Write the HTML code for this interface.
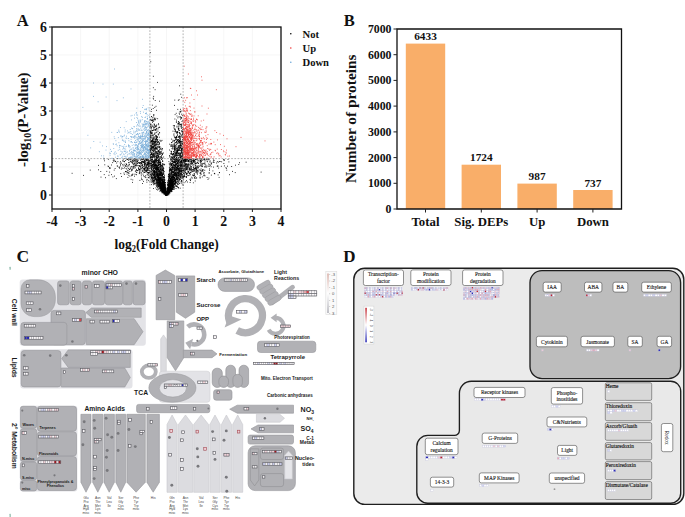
<!DOCTYPE html>
<html><head><meta charset="utf-8"><style>
html,body{margin:0;padding:0;background:#fff;}
svg{display:block;}
</style></head><body>
<svg width="685" height="517" viewBox="0 0 685 517">
<rect width="685" height="517" fill="#fff"/>
<path d="M52 27V209M80.6 27V209M109.2 27V209M137.9 27V209M166.5 27V209M195.1 27V209M223.8 27V209M252.4 27V209M281 27V209M52 195H281M52 167H281M52 139H281M52 111H281M52 83H281M52 55H281M52 27H281" stroke="#f0f0f0" stroke-width="0.6" fill="none"/>
<path d="M163.2 187.3h0M162 190.1h0M156 177.8h0M149.9 161.5h0M159.7 183.3h0M187.3 168.2h0M169.7 181.3h0M162 191.3h0M180.2 142.8h0M188.4 160.5h0M152.8 170.8h0M180.7 136.2h0M173.7 185.6h0M125.1 165.9h0M169.3 190h0M161.2 187.9h0M134.2 168h0M150.8 139.2h0M176.2 158.1h0M162.6 189.8h0M151 168.1h0M162.2 187.5h0M156.4 153.8h0M168.3 188.1h0M152.2 181.1h0M180.4 141.5h0M198 161.1h0M162.5 188.6h0M176.3 169.7h0M179.3 170.1h0M120.8 173.6h0M156.6 174.8h0M160.1 162.4h0M152.3 173.9h0M194.7 170.1h0M187.1 173.8h0M172.3 189.4h0M175.7 159h0M162 183.7h0M166.5 194.3h0M196.7 177.9h0M152.2 155.1h0M170 192h0M155 174.3h0M166.9 193.7h0M172 182.7h0M172.2 171.8h0M204.9 163.6h0M175.7 155.1h0M163.8 189.8h0M179.3 153.1h0M153.8 148h0M149.4 162.8h0M151.4 148.4h0M185.2 161.2h0M181.8 172.9h0M128.9 173.5h0M179.5 172.8h0M173.2 186.7h0M169.9 173.3h0M200.3 164.9h0M180.5 179.1h0M186.7 174.4h0M150.6 152.5h0M190.5 163.6h0M166.7 194.6h0M182.5 170.7h0M137.9 163.4h0M181.7 155.9h0M181.1 169.5h0M172.8 167.4h0M171.1 191.3h0M161.3 172.5h0M167.5 192.9h0M180.2 124.4h0M152.1 141.5h0M156.9 180.1h0M181.9 160.9h0M178.4 175.3h0M178.2 161h0M155.9 146.7h0M154.1 146.6h0M152.8 177.9h0M161.1 156.5h0M153.5 119.9h0M154.7 127.2h0M174.5 184.1h0M185.7 164.4h0M150.6 148.5h0M179.4 183.5h0M182 170.6h0M166 194.9h0M155.9 178.4h0M164.2 185h0M135.3 171.3h0M153 161.2h0M186.1 166.6h0M156.5 166.7h0M155.6 151.8h0M185.4 160.8h0M175 164.3h0M131.1 166.7h0M205.1 164.7h0M167 194h0M181.2 148.1h0M160.1 174.7h0M163.5 170.7h0M167.2 192.7h0M193.7 160.9h0M192.7 162.7h0M176.9 165.1h0M200.9 158.8h0M159.2 161.7h0M175.2 165.5h0M158.2 146.2h0M188.8 165h0M166.8 193.6h0M129.9 176.1h0M204.2 172.6h0M171.8 185.3h0M160.6 182.2h0M160.9 176.7h0M167.8 192.6h0M163.3 182.9h0M183.3 170.8h0M168.5 191.1h0M165.1 191.8h0M202.5 164h0M161.9 169.8h0M196.5 169.2h0M146.8 166.4h0M161.5 165.6h0M165.9 194.9h0M159.1 185.5h0M178.6 147.2h0M158.3 168.1h0M163.6 186.6h0M167.7 191.1h0M197.6 170.6h0M170 184.5h0M164.3 192.7h0M195.7 168.5h0M181.1 118.4h0M154.6 173h0M156 106.3h0M205 160.7h0M155.9 187.9h0M207.6 161.7h0M175.3 167.3h0M170.6 181.7h0M160.9 162.7h0M153.4 147.2h0M165.1 190h0M154.7 145.7h0M174.8 148.7h0M163.5 164.7h0M161.5 172.7h0M155.6 148.6h0M157.6 168.7h0M175.7 147.5h0M203.6 173.1h0M186.3 176.9h0M170 175h0M166.6 194.8h0M182.4 174.6h0M176.7 173.5h0M183 170.9h0M174.4 179.8h0M173.1 184.9h0M178.7 184.3h0M170.1 185.5h0M195.1 163.7h0M182.1 149.4h0M167.2 193.7h0M175.1 185.5h0M149.8 168.2h0M163.7 179.6h0M175.9 170.1h0M101 177.1h0M164.9 183h0M157.3 155.5h0M157.5 162.1h0M189.2 169.7h0M168.3 188.2h0M157.7 190h0M179.5 171.3h0M158.8 176.5h0M135.9 166.1h0M164.1 191.4h0M168.6 188.7h0M177.9 170.4h0M209.1 166.5h0M193.7 175.5h0M167.7 190.7h0M171.2 182.3h0M197.8 172.2h0M128.9 165.9h0M200.5 173.7h0M180.1 173.7h0M194.9 160.7h0M167.2 193.9h0M170.3 182.3h0M152.3 140.8h0M171.8 182.6h0M151.1 166.5h0M159.8 160.1h0M199.2 160.1h0M214.1 162.4h0M138.8 169.5h0M173.8 156.6h0M171.5 182.5h0M185.6 172.2h0M174.6 145.1h0M178.9 149.5h0M150 155.1h0M180.3 169.7h0M142.2 167.3h0M178.2 177.7h0M139.8 165.6h0M175.8 183.2h0M163.5 186.6h0M168.5 190.4h0M166 193.4h0M150.9 174.3h0M172.6 185.7h0M175.2 182.5h0M153.6 180.9h0M176.3 174.4h0M158.6 164h0M156.5 159.7h0M185.2 172.5h0M161.8 191.2h0M177.3 151.6h0M153.6 156.1h0M174.4 148.8h0M154.6 158h0M168.5 181.9h0M167.4 193.7h0M192.5 171.6h0M175.5 166.5h0M159.7 180.9h0M154.5 176.1h0M157.8 179.6h0M171.8 182.7h0M169.8 181h0M172.7 184.9h0M177 127.1h0M147.7 168.7h0M164.8 194.6h0M159.7 184.7h0M211.1 162.7h0M175.9 163.8h0M166.8 194.3h0M166.5 194.9h0M172.5 176.4h0M179.9 179.3h0M164.9 191.2h0M173.6 172.5h0M160.4 163.2h0M144.6 165.7h0M166.3 193.9h0M156 154.7h0M170.2 185.6h0M164.1 180.4h0M168.2 187.4h0M89.2 160.1h0M151.5 127.5h0M142.3 167.3h0M155.4 136.1h0M179.1 174.7h0M168 191.2h0M133.8 164.7h0M179.9 155.7h0M177.8 148.4h0M188.3 164.8h0M174.6 177.7h0M174.8 129.8h0M152.5 179.9h0M152 165.2h0M157.6 167.7h0M160.4 184.2h0M170.7 174.3h0M179.8 145.3h0M182.3 155.1h0M178.5 175.8h0M156.8 130h0M152.8 182.1h0M158.2 183.4h0M166.6 194.4h0M165.5 190.7h0M155.7 165.3h0M151.7 120.6h0M184.6 162.2h0M178.6 169.4h0M181.6 175.4h0M178.2 163h0M190.7 169.6h0M173.7 175.1h0M173.5 187h0M162 149.8h0M195.7 165.6h0M163.1 187.7h0M151.5 165.5h0M178.1 176.7h0M148.7 162.9h0M179.5 146.2h0M168.9 174.2h0M145.2 164.7h0M188.4 160.4h0M171.7 165.1h0M120.6 165.8h0M155.1 154.7h0M170.8 162.4h0M178.9 158.7h0M180.4 145.5h0M153.7 115.9h0M176.3 175.8h0M124.3 161.5h0M151.9 156.6h0M162.3 184.8h0M152.9 154.9h0M169.2 188.9h0M183 136.9h0M171.6 184h0M168.5 192.4h0M170.4 181.4h0M159.3 173.9h0M187.9 167.7h0M169.5 187.9h0M170.4 184.4h0M171.9 188.7h0M154.6 176.5h0M153 157.6h0M150.5 155.1h0M177.5 187.1h0M175.8 168.3h0M157.4 181.9h0M172.1 177.4h0M171.5 189.6h0M146.7 158.6h0M132.6 163.7h0M168.3 187.4h0M155.3 160h0M160.2 170.1h0M166 188.2h0M205.2 166.6h0M169 189h0M153 153.9h0M153.1 178.6h0M151 132.8h0M163.2 177h0M156.8 158.9h0M172.6 185.6h0M170.2 186.6h0M150.8 171.3h0M200.1 177.9h0M146 169.2h0M172.7 187.1h0M154 167.4h0M172.4 183.3h0M168.1 191.6h0M156.9 173.8h0M153.8 126.9h0M156.9 147.3h0M175.9 138.2h0M147.6 162.2h0M159.5 184.4h0M150.4 174.6h0M154 168.6h0M163.8 183.3h0M163.5 183.7h0M169.8 186.4h0M164.5 187.8h0M133.9 164.2h0M161.4 183.5h0M167.9 191.8h0M184.4 161.7h0M157.7 166.5h0M162.5 175.2h0M177.8 168h0M141.2 165.9h0M189.2 169.5h0M174.2 146.6h0M175.4 182.5h0M159.8 184.7h0M167.5 189.8h0M154.8 142.3h0M176.4 182.8h0M176 148.4h0M202 171.5h0M159.9 177.9h0M164.9 184.1h0M169.9 184.8h0M167.1 193.1h0M147.1 167.8h0M156.6 172h0M161.4 184.4h0M161.5 175.4h0M179.5 179.9h0M154.9 181.5h0M178.4 168.7h0M183.5 165.5h0M180 160.6h0M147.7 164.1h0M159.4 153h0M154.5 170.6h0M104.2 174.6h0M160 172.2h0M182.7 165.3h0M148.1 159.9h0M160 184.8h0M166.7 194.8h0M151.4 128.8h0M201 173.1h0M171.6 184.2h0M171.5 142.5h0M169.6 190.5h0M162.4 189.7h0M156.7 138.3h0M181.9 178.5h0M150.3 141.1h0M137.3 163.5h0M152.3 161.8h0M172.9 172.6h0M176.5 159.5h0M176.5 161.4h0M153.8 174.5h0M165 190.8h0M146.7 159.3h0M167.2 194.1h0M154.2 175.1h0M156.9 140.3h0M209.2 172.9h0M178.5 153.7h0M177.2 169.5h0M178.2 146.1h0M174.1 168.8h0M174.7 171.1h0M132.9 160.5h0M167.9 188.4h0M174.9 142.8h0M168.1 191.7h0M174.9 180.2h0M160.9 188.7h0M166.4 194.8h0M161 169.3h0M159.8 162.5h0M170.2 188.9h0M152.8 164.1h0M152.3 167h0M154.8 142.9h0M155.9 139.6h0M173.2 164.1h0M183.6 161h0M160.5 169.2h0M172.6 179.7h0M169.4 187.7h0M180.8 161.5h0M155.1 167.6h0M152.5 130.5h0M155.4 172.3h0M157.1 178.3h0M144.9 169.4h0M156.1 147.8h0M135.1 161.9h0M170.7 188.3h0M149.3 161.2h0M177.3 179.7h0M161.7 180h0M186.6 166.8h0M182.7 133.7h0M171.9 173.4h0M166.8 192.8h0M181.6 149.3h0M160 166.4h0M146.2 158.8h0M172.1 158.3h0M165.3 192.6h0M159.8 167h0M165.2 190.9h0M163.3 176.8h0M157.3 168.1h0M177.6 179.3h0M162.4 186.9h0M202 166.6h0M142.9 164.3h0M186 161.4h0M180 179.3h0M155.1 171.5h0M177.4 169h0M182.8 157.7h0M164.6 188.6h0M165.6 188.8h0M166.9 194.5h0M171.4 177.6h0M144.4 162.2h0M151.8 149.3h0M149.1 163h0M182.1 160.1h0M163.6 182.9h0M202.3 166.5h0M214.3 173.4h0M143.4 161.3h0M165.5 185h0M181.2 176.9h0M176.1 163.8h0M162.7 180.6h0M152.7 138.8h0M181 166.2h0M173 165.5h0M178.4 164.3h0M173.4 168.1h0M162 181.9h0M157.8 170h0M177.3 178h0M155.5 164.4h0M162.5 182h0M162.2 188.9h0M155 175.2h0M170.6 146.1h0M202.8 169.5h0M132.6 160.1h0M191.4 168.3h0M163.5 185.1h0M197.7 162.6h0M144.7 164.4h0M192.2 158.8h0M170.4 182.6h0M158.4 160.6h0M182.3 165.2h0M175.3 162.3h0M133.9 163.8h0M162.3 176.9h0M166.9 194.5h0M145.8 175.6h0M177.1 179.3h0M162.8 190.7h0M177.6 176h0M171.7 189.4h0M160.8 190.7h0M181.9 168.8h0M157.4 180.7h0M177.7 162.8h0M151.1 177.3h0M171.1 180.9h0M168.1 191.9h0M174.3 170.5h0M150.3 137h0M164.4 185.1h0M151.8 159.7h0M149.9 140.2h0M177.3 139.8h0M218.1 174.9h0M178.9 164.2h0M168.5 174.4h0M174.5 125.8h0M172.7 167.8h0M124.3 174.4h0M171.7 180h0M167.9 192.2h0M158.9 176.4h0M163.5 186.9h0M153.9 148.7h0M168.8 178.7h0M179.4 136.7h0M158.5 151.5h0M172.6 166.3h0M160.9 158.4h0M159.6 147.6h0M175.3 172.3h0M201 158.6h0M160.2 184.7h0M156.6 129h0M163.6 184.3h0M182.4 129.7h0M165.6 191.4h0M177.3 150.1h0M192.3 169.5h0M213.6 160h0M173.2 182.5h0M165.6 193.5h0M157.2 137.7h0M172.8 184.5h0M140.4 166.6h0M162.3 181.9h0M181 164.9h0M164.2 191.4h0M191.3 163.3h0M158.6 171.1h0M172.9 159.9h0M155.9 152.4h0M169.5 173.4h0M181.5 151.7h0M169.6 155.5h0M150 149.8h0M172.6 186.2h0M170.3 182.7h0M185.8 164.3h0M143 174.1h0M150.8 137.8h0M165.3 194.6h0M131.7 169.8h0M182.4 162.6h0M141.2 174.1h0M155.3 164.4h0M180.4 141.8h0M169.5 191.5h0M182.6 139.5h0M177 165.8h0M171 144.8h0M171.8 180.4h0M159.9 183.3h0M113.8 161.2h0M152.7 154.5h0M153.3 127.2h0M179.7 135.3h0M130.4 161.5h0M165.9 192.1h0M200.5 160.3h0M174.6 170.1h0M166.7 193.8h0M162.8 186.3h0M153.7 171.4h0M181.6 160.9h0M180.2 141.1h0M168.3 193.2h0M179.3 136.6h0M156.7 189.4h0M162.6 188.3h0M209.5 170.3h0M162.7 158.3h0M181.2 167h0M203 171h0M168.7 190h0M177.9 163.2h0M163.3 183.2h0M151.8 159.3h0M152 132.9h0M139.9 180.4h0M171.6 184.5h0M164 187.8h0M167 194.6h0M214.6 173.5h0M166 193.6h0M177.9 154.8h0M182.3 115.6h0M170.7 188.5h0M162 187.5h0M154 141.7h0M169.6 177.4h0M176.9 167.8h0M162.9 181.7h0M168.5 185.4h0M184.5 176.6h0M173.4 177.3h0M173.9 166.9h0M148.6 173.1h0M153.2 175.6h0M160 177.5h0M163.1 180.1h0M175.5 160.7h0M172.8 178h0M201.2 166h0M180.6 177h0M179.1 142.5h0M153.6 130.1h0M159.4 153.8h0M178.5 175.3h0M168.3 187.6h0M177.5 168.1h0M144.3 165.3h0M156.1 145.3h0M196 163.4h0M186.4 173.6h0M140 166h0M156.1 165.9h0M162.1 188.8h0M184.8 168.3h0M165.5 194h0M170.6 187.9h0M128 170.4h0M163.2 177.7h0M174.8 156h0M123.2 165.9h0M181.1 156.8h0M144.2 161.2h0M158.1 153.2h0M147.9 168.1h0M160 181.8h0M161 186.3h0M108.9 175.3h0M178.6 147.9h0M159.5 185.5h0M156 136h0M181.2 163.1h0M136.5 161.1h0M164.3 186h0M179.9 172h0M182.3 167.2h0M155.6 148.9h0M189.1 162.8h0M158 179.1h0M165.9 194.1h0M168.9 185h0M177.8 179.8h0M156.3 157.2h0M174.5 183.4h0M186.8 167.6h0M199.3 158.6h0M153.3 143.4h0M172.9 182.2h0M154.5 145h0M165.6 193.3h0M160 149.6h0M132.5 175.2h0M170.6 178.5h0M166.1 194h0M179.4 136.7h0M160.3 183.2h0M182.4 143.4h0M183.8 173h0M143.8 168.6h0M160.8 140.9h0M154.3 165.8h0M224.2 159.8h0M168.9 161.6h0M177 169.2h0M180.7 112h0M177.5 163.8h0M158 185.5h0M150.9 163.4h0M178.9 171.3h0M183 140.3h0M149.1 166.1h0M164 191.6h0M182 171.9h0M152.5 144.6h0M143.8 161.9h0M172.1 181.6h0M176 139.5h0M180.6 171.4h0M152 177.8h0M167.6 193h0M159.7 184.9h0M166.2 193.9h0M183.5 161.2h0M174.2 170.2h0M171.5 184.3h0M166.1 192.9h0M190 164.6h0M158.8 187.1h0M154.4 164.9h0M171.9 177.3h0M174.2 148.4h0M181.4 145.3h0M172.1 174.5h0M167.4 193.5h0M170.8 180.4h0M164.6 184.4h0M186.2 164.6h0M176.2 167.8h0M127.3 159.3h0M169.3 175h0M181.4 180.6h0M165.7 189.5h0M170.4 189.8h0M167.5 191.1h0M196.8 172.4h0M182.5 155.5h0M160.8 182.7h0M144.3 176.7h0M156.2 162.8h0M156.1 132.6h0M188.5 160.8h0M182.6 165.1h0M168.7 182.3h0M175 180.7h0M129.3 164.7h0M169.9 168.2h0M177.1 168.2h0M163.6 190.6h0M180.9 165.5h0M168.7 187.5h0M144.5 169.2h0M193.7 160h0M175.4 184.3h0M158.1 152.6h0M161.3 168.8h0M178.9 160.3h0M204.4 159.4h0M150.3 168.1h0M152.1 165.8h0M195.1 168.5h0M175.2 170.7h0M151.3 147.5h0M145.4 177h0M139.8 162.9h0M150.9 119.3h0M161.1 173.4h0M157.8 139.7h0M144.4 172.5h0M183.5 185.1h0M162.4 190.8h0M151.7 120.3h0M168.5 187.2h0M155.1 169.5h0M146.2 160.2h0M138.4 167.8h0M165.3 193.9h0M179.9 165.5h0M150.7 154.9h0M154.9 127.7h0M176.4 139.7h0M172.5 178h0M143.9 172.5h0M159.5 170.3h0M154.1 178.1h0M170.1 171.1h0M183 168.2h0M154.1 162.4h0M161.7 186h0M177.2 180.1h0M185.4 159.8h0M145.9 159h0M159.8 191.2h0M167.8 188.8h0M176.8 157.9h0M154 157.1h0M163.3 190.6h0M175.1 129.5h0M153.1 170.5h0M176.2 181.3h0M189 164.1h0M157.4 179.2h0M129.2 164.2h0M169.5 169.9h0M150.4 145.9h0M171 169.3h0M160.4 171.9h0M173.3 177.7h0M187.4 164.4h0M182 121.5h0M162 140.4h0M125.7 160.5h0M154.4 125.7h0M168.8 184.8h0M156.4 141.5h0M157.7 169.7h0M179.4 130.4h0M109.4 167.7h0M178.3 100.3h0M179.1 178h0M152.1 169.9h0M176.6 155.3h0M171.5 189.7h0M180.2 141.5h0M187.5 173h0M153.9 178.7h0M228.9 161.9h0M159.6 132.7h0M153.9 176.3h0M178 178h0M165 192h0M167 194.8h0M174 146.8h0M158.8 176.9h0M135.4 160.9h0M175.2 169.8h0M194.6 178.1h0M153.6 161.6h0M154.9 143.3h0M162.2 182.4h0M161.2 184.6h0M133.8 166.2h0M143.6 159.4h0M151.5 168.8h0M190 179.4h0M163.1 176.6h0M175.8 155.8h0M152.4 120.3h0M151.2 137h0M154.6 156.9h0M176.6 174h0M144.6 162.7h0M164.2 186.6h0M167.3 194.5h0M153.7 169.1h0M163.5 187.9h0M151.4 135.2h0M162.6 180h0M168.8 190.8h0M169.7 189h0M200.8 160.4h0M167.4 189.6h0M181 152.4h0M158 153.7h0M179.7 163.1h0M178.1 179.3h0M177.8 178.8h0M164.4 171.7h0M177 153.5h0M169.8 169.6h0M180.3 145.6h0M178.8 123.8h0M158.7 124.7h0M213.3 161.2h0M158.3 177h0M158.1 183.8h0M174.8 160.6h0M155.8 178.4h0M159.6 179.2h0M171.5 190h0M158.9 177.8h0M168.4 193.3h0M165.5 193.4h0M148.1 175.7h0M167.5 193.2h0M124.6 161.7h0M150.3 155.3h0M162.1 179.9h0M158.6 179h0M164.1 190.7h0M136.4 174.7h0M163.3 191.8h0M204.8 170.3h0M185.6 161.1h0M159.3 147.1h0M165.4 193.1h0M171.3 178.5h0M186.5 176.9h0M179.3 168.9h0M154.7 171.9h0M172.3 180.6h0M145.8 171.1h0M168.2 183.9h0M160.4 161.1h0M167.1 193.5h0M152.9 180.9h0M161.9 166.6h0M168.9 178.4h0M163.5 181.4h0M174 133.9h0M166.8 194.5h0M130.8 159.3h0M180.3 116.8h0M171.6 186.8h0M165.8 192.2h0M132.8 179.9h0M177.3 173h0M179.4 168.7h0M173 187.6h0M152.9 153.4h0M163.6 190h0M165.3 192.4h0M151.6 168h0M152.8 172h0M164.5 185.6h0M155.9 168.6h0M168.8 192.8h0M167.5 194.6h0M163.1 189.4h0M142.6 165.5h0M159.7 169.1h0M155.4 176.3h0M167.1 193.6h0M185.4 164.9h0M181.9 183.3h0M131.9 174.7h0M167.8 192.1h0M159.6 171.3h0M157.9 182.7h0M160.2 175.8h0M151.8 172.9h0M165 190.9h0M201.1 174.4h0M175.2 170.2h0M150.8 163.2h0M178.9 180.6h0M158 188.8h0M182.8 152.5h0M178.9 150.3h0M164.7 188.4h0M170.9 160.8h0M186.7 169.7h0M171 175.9h0M182.1 158.8h0M179.9 133.1h0M162.6 182.4h0M173.2 174.3h0M165.1 189.9h0M182.7 148.8h0M158.7 165.4h0M156.8 124.9h0M158.8 168h0M157.4 158h0M168.1 187h0M162.4 154.4h0M158.6 144.3h0M170.9 166.7h0M160.3 166.3h0M162.9 190.8h0M165.9 194.2h0M164.4 175.4h0M156.4 180.8h0M159.6 160.1h0M167.3 194.3h0M159.5 154.6h0M170 191.4h0M170.5 180.9h0M170.8 183.8h0M176.9 151.1h0M167.9 194.1h0M163.9 191.4h0M165.9 191.4h0M173.1 144.5h0M161 185.1h0M190.7 161.9h0M147.8 160.7h0M176.3 122.1h0M174.2 181.6h0M147.1 174h0M176.2 142.5h0M160.4 164.5h0M177.5 163.4h0M160.5 185.9h0M158.1 177.5h0M153.7 153.9h0M173.2 174.8h0M166.9 193.9h0M154.2 136.8h0M172.4 186.3h0M160 188.2h0M155 156.3h0M176.4 136.3h0M181.4 125.9h0M130 159.8h0M163.3 173.4h0M175 175.4h0M164.5 187.4h0M167.5 194.4h0M141.5 163.4h0M176 188.5h0M157.3 183.1h0M172.6 156.9h0M160.9 185.7h0M163.1 188h0M165.7 191.6h0M167 193.2h0M173.6 176.9h0M176.5 137.6h0M168.3 192.7h0M169.1 189.4h0M169.8 175.9h0M182.1 166.2h0M175 182.6h0M157.4 184.1h0M156.5 186.1h0M182.9 155.9h0M180.7 153.3h0M151.7 116.7h0M175.8 161.8h0M167.3 194.8h0M165.8 193.1h0M160.9 174.2h0M169.7 167.1h0M174.4 175.7h0M156.6 138.8h0M174.6 159.1h0M157.9 169.5h0M151.3 153.3h0M181.7 160.8h0M155.6 143h0M202.3 176.9h0M166.9 193.2h0M182.8 162.2h0M152.7 167.9h0M179.9 145.3h0M169.2 193h0M185.1 170.2h0M166.2 193.9h0M117.4 158.6h0M165.7 191.3h0M181.3 173.8h0M174.6 125.9h0M178 172.1h0M173.3 183.7h0M169.1 181.6h0M156.5 157h0M169.8 177.7h0M162.7 191.8h0M109.7 172.1h0M171.1 168.2h0M166 193.1h0M170.2 187.5h0M158.1 180.4h0M165 189.5h0M147.5 163.9h0M166 194.6h0M140.6 162.6h0M153.8 170.9h0M180 159.6h0M173.8 164.3h0M167.1 193.5h0M147.1 160.4h0M159.3 178.1h0M178.9 174.9h0M158.8 179h0M126.1 163.7h0M171.6 184h0M166 193.5h0M176.8 164.7h0M142.3 179.8h0M166.9 194.4h0M174.9 173.5h0M180.2 171.2h0M153.5 173.1h0M178.2 157.4h0M153.6 142.9h0M149.6 162.5h0M168.4 191.9h0M170 156.3h0M173.8 176.2h0M174.9 168.7h0M161.8 175h0M167.3 191.6h0M160.9 172.4h0M170.8 185.5h0M178.9 150.5h0M152.6 143.1h0M180 166.9h0M155.3 130.4h0M172.9 167.2h0M167.4 192h0M173.1 172.5h0M161.2 180.1h0M155.5 165.6h0M170.2 179.5h0M163.1 181.2h0M170.6 169.5h0M161.8 191.3h0M161 141.2h0M179.8 178.6h0M161.2 177.3h0M156.5 175.2h0M179.4 122.4h0M169.9 193.2h0M157.6 158.3h0M168.2 191.9h0M162.3 169.8h0M176.2 146.2h0M231.7 166.5h0M153.1 152h0M208.1 166h0M154.6 174.1h0M180.1 161.8h0M165.2 192.2h0M152.5 147h0M163.1 181.6h0M171.3 151.8h0M184.3 165.9h0M170.3 187.5h0M166.6 194.6h0M178.3 172.1h0M160.8 169.5h0M149.8 165.2h0M167.7 192.2h0M174.1 156h0M171.5 169.8h0M168.6 189.3h0M160.7 175.2h0M152.7 148.1h0M166.9 194.5h0M181.9 176.7h0M176.2 113.3h0M184 176.7h0M187 158.8h0M162.7 184h0M177.2 181.3h0M158.9 178h0M164.7 192.6h0M174.8 149.8h0M148.2 177.6h0M153.2 108.5h0M169.4 192.5h0M167 193.2h0M160.4 182.3h0M157.8 167.6h0M156.9 152h0M150.7 119.9h0M157.8 172.9h0M162.3 189h0M159.6 175.1h0M168.1 190.1h0M104.4 160.8h0M163.3 185.5h0M158.2 177.6h0M175.9 154.9h0M174.7 161.4h0M149.9 165.2h0M150.7 135.3h0M178.8 159.2h0M175 161.7h0M174.2 141.3h0M163.1 174.2h0M171.1 182.3h0M156.3 165.7h0M191.1 161.6h0M182.3 184.9h0M178.8 128h0M154.9 171.5h0M176.6 167.5h0M155.8 140.1h0M181.5 161.5h0M158.1 162.9h0M165.3 186.3h0M164.4 189h0M165 186.3h0M141.9 159.3h0M157.1 142.3h0M165.2 191.9h0M169.4 178.6h0M155.7 169.2h0M174.8 149.9h0M145.9 161.2h0M171.7 185.2h0M165.3 193.6h0M171.2 189h0M157.6 176h0M154.9 172h0M170.1 169.8h0M161 179.9h0M152.1 160.7h0M192.6 160.9h0M156.6 179.4h0M159.4 180.9h0M162.4 187.9h0M153.8 180.5h0M181.5 173.6h0M159.1 174.6h0M181.8 164h0M174.1 169h0M168 185h0M155.3 139.5h0M163.9 189.8h0M138.5 168.7h0M167.1 194.9h0M169 192.3h0M176.8 176.1h0M182.9 137.5h0M180.2 173.4h0M159.2 183.7h0M158.7 157.2h0M159.5 172.4h0M164.7 182.2h0M164.5 181.6h0M181.4 118h0M173.7 167.7h0M180.1 148.2h0M150.4 124.4h0M174.1 157.3h0M129.2 159.1h0M167 193.7h0M155.2 151.1h0M165.9 194.6h0M155.6 141.8h0M190.9 178.8h0M150 142.4h0M156.6 158.1h0M160.6 182.2h0M149.9 123.1h0M165.7 192.3h0M195.7 159.4h0M173.2 145.6h0M163 186.1h0M155.5 159h0M169.2 190.3h0M175.3 164.4h0M162.9 188.5h0M182.8 143.4h0M147.3 164.2h0M182.6 143.6h0M167.2 191h0M167.9 192.5h0M178.4 128.8h0M153.2 166.8h0M169.7 182.1h0M166.2 194.6h0M172.8 182.1h0M192.4 163.5h0M192.2 163.7h0M174.6 174.2h0M181.7 114.2h0M161 188.1h0M163.6 173.9h0M182.8 168.2h0M145.3 166.9h0M151.5 109.4h0M157.1 139.8h0M184.2 159.9h0M128.8 175.3h0M182.8 120.7h0M158.7 182.2h0M132.5 174.2h0M180.2 176.6h0M163.2 184.5h0M148.2 165.4h0M163.1 188.4h0M148.4 167.8h0M170.6 184.2h0M159.9 174.4h0M155.8 165.9h0M141.4 178.1h0M152.9 146.2h0M156.6 136.3h0M160.7 169.3h0M152.2 166h0M159.3 127.1h0M170.5 188h0M162.2 187.2h0M179.3 170.5h0M164.3 193.2h0M178.8 128.8h0M144.9 163h0M166.6 194.7h0M162.9 174.8h0M167.5 192.5h0M152.5 117.8h0M169 192h0M172.7 169.2h0M167 191.9h0M169.9 184.9h0M158.4 178.2h0M158.9 172h0M135.4 165.4h0M163.5 192.9h0M182.8 149.5h0M160.1 164.5h0M181.3 128.1h0M169.2 187.2h0M170.1 177.2h0M174.3 178.5h0M167.2 194.1h0M160.9 174.5h0M152.8 165.1h0M195.2 181h0M153.8 128.2h0M169.6 190.9h0M164.3 191.4h0M177.5 152.6h0M154.6 170.6h0M176.3 152.3h0M125.9 171.4h0M170.4 189.5h0M158.1 180h0M181.6 161h0M163.7 157h0M131.6 170.8h0M211.3 175.1h0M154.4 163.4h0M170.9 188.5h0M160.8 164h0M159.3 175.2h0M150.7 163.4h0M158.9 147.5h0M173.5 176h0M173 176.2h0M179.8 164.4h0M147.6 162.7h0M166 188.4h0M152.9 130.4h0M174.2 166.7h0M171.9 175.4h0M110.4 168.1h0M167.1 191.1h0M177.1 177.9h0M164.7 189.7h0M180.4 165.2h0M151 142h0M166.5 194.8h0M152.1 142.4h0M172.3 167.6h0M166.1 194.5h0M180.9 144.1h0M169 180.9h0M120.5 164.3h0M175.1 173.7h0M164.7 184.3h0M173.3 171.5h0M161.3 186.1h0M159.7 152.5h0M178 132.2h0M219.7 161.5h0M145.1 172.4h0M157.4 177.4h0M165 191.4h0M174 172.7h0M176.5 152.5h0M167.1 192.8h0M169.2 192.3h0M171.8 142.7h0M160.7 166.2h0M164.9 193.7h0M167.7 189.9h0M168.3 182.7h0M178.3 178.5h0M157.3 153h0M164.9 191.6h0M174 151.8h0M171.2 174.8h0M162.9 168.9h0M158.3 156.7h0M168.8 180.1h0M159.3 159.9h0M156.5 148.4h0M204.5 158.8h0M166.8 194.8h0M157.3 153.5h0M165.7 189h0M167.9 193.4h0M159.1 161.2h0M156.1 168.1h0M164.5 192.2h0M178.2 139.6h0M152.1 143.2h0M162.4 175.4h0M166.3 195h0M163.7 189.2h0M151.2 174.7h0M166.3 194.9h0M158.1 181.9h0M160.8 148.9h0M139.3 166.4h0M167.2 191.7h0M157.2 151.4h0M191.6 161.8h0M183.1 170.1h0M152.6 126.3h0M149.9 163.1h0M151.9 133.5h0M150.8 157.7h0M162.4 177.7h0M179.1 99.7h0M166 191.1h0M158.1 175.2h0M195.4 167.7h0M167.9 181h0M181.1 141.3h0M155.3 168.9h0M172.1 186.9h0M190.5 172.7h0M197.9 167.8h0M191.4 161.6h0M146 165.4h0M174.9 136.9h0M167.9 184.5h0M165.9 190.8h0M162.1 186.2h0M167 192h0M162.6 185.7h0M181.8 148.5h0M161.8 187.9h0M181.1 136.8h0M224.6 165.9h0M163.4 189.3h0M177.1 158.9h0M150.3 143.2h0M164.2 193.2h0M157 168.7h0M162.3 179.9h0M162.5 148.5h0M185.8 168h0M159.8 181.9h0M173.7 184.8h0M141 159.3h0M158.9 176.4h0M170.5 182.8h0M165.1 190.6h0M162.7 158.2h0M175.1 184.9h0M150.9 150.2h0M163.7 187h0M204.1 174.1h0M177.8 170.9h0M174.4 184.3h0M153.4 146.9h0M164.9 189.4h0M174.3 149.7h0M162.6 187.5h0M121.6 163.2h0M174.3 157h0M179.2 113.2h0M171.5 187.7h0M172.2 177.4h0M160.7 183.4h0M159.8 185.2h0M175.1 137.6h0M178.9 125.2h0M162.9 184.6h0M170.8 175.2h0M136.8 164.2h0M158.6 184.7h0M207.1 177.5h0M159.6 186.8h0M195.2 176.5h0M184.6 160.8h0M202 163.4h0M171 190.1h0M180.3 144.2h0M151.8 164.5h0M171.1 179.2h0M146.9 164.8h0M162.8 183.6h0M169.9 190.8h0M172.8 186.8h0M98.5 169.8h0M195.9 168.7h0M144.5 163.9h0M165.5 191.4h0M165.2 191.5h0M162.6 161.5h0M178.6 145.9h0M178.3 161.4h0M171.3 153.8h0M166 195h0M162.8 180.9h0M169.1 184.5h0M156 159.3h0M115.6 161.5h0M171.5 188.8h0M181.3 130.7h0M235.2 172.6h0M176.2 176.5h0M175.6 159.7h0M162.5 175.6h0M141.7 179.3h0M151.3 171.8h0M161.6 185.1h0M159.8 180.6h0M156.9 178.1h0M165.6 194.6h0M162.9 187.8h0M156.7 161.4h0M183.5 161h0M164.7 182.8h0M172.8 175.8h0M206 165.3h0M150.2 164.2h0M164.6 184.4h0M192.7 165h0M158.5 175.2h0M175.7 162.9h0M161.2 186.3h0M204.1 163.7h0M171.1 182.7h0M181 164.6h0M166.5 195h0M163.2 188.6h0M160.6 153.9h0M167.1 191h0M170.7 183.1h0M144.8 160.2h0M179.8 165.5h0M167.1 194.6h0M141.8 163.7h0M164.3 192.9h0M158.1 158.6h0M172.5 163.3h0M181.2 167.1h0M161 167.8h0M157.6 168.4h0M157.2 170.3h0M172.5 189.2h0M155.5 119.4h0M178.7 152.9h0M152.4 159.9h0M106.8 171.4h0M186.9 173.8h0M144 170.8h0M144.4 169.3h0M163.8 163.9h0M163.9 191.5h0M169.5 186h0M166.9 192.8h0M181.7 126h0M153.8 175.2h0M182.3 168.6h0M163.1 192h0M159.4 174h0M123.7 161.2h0M83.6 175.4h0M170.8 178.6h0M173 176.1h0M156.7 169.4h0M176 168.9h0M177.7 140.3h0M163.7 192.7h0M141.7 163.1h0M181.5 149.9h0M176.3 174.6h0M182.9 158.7h0M183.1 160.3h0M181.7 161.2h0M195.8 159.5h0M173.2 184.2h0M156.5 171.5h0M172.6 154.9h0M162.5 186.5h0M180.2 161.8h0M177.2 132.7h0M181.1 174.1h0M180.8 137.3h0M156.7 153h0M163.4 170.5h0M176.9 170.2h0M168.9 183.8h0M185.3 159.1h0M194.2 162.9h0M174.1 156.5h0M164.5 193.5h0M193.7 158.9h0M172.4 161.5h0M161.2 181.9h0M193.9 165.9h0M171.3 154.2h0M167 194.4h0M179.8 154.6h0M180 147.1h0M177.3 151h0M189.3 168.3h0M169 186h0M168.7 187h0M184 161.9h0M196.9 159.7h0M196.8 168.2h0M173.4 179.5h0M171.9 177.8h0M214.8 173.8h0M153.7 151.7h0M173.3 182.1h0M162.9 169.7h0M162.8 169.9h0M162.1 168.8h0M168.2 192.2h0M136.3 172.5h0M153.4 177.8h0M175.2 181.8h0M155 163.2h0M175.5 137.6h0M172.1 186.2h0M153.8 165.7h0M169.1 191.3h0M154.5 118.6h0M152.7 130.6h0M167.3 194.4h0M196.7 168.1h0M174.5 165.4h0M181.9 162.4h0M175.5 176.2h0M174.6 148.2h0M173.3 125.6h0M176.4 175.5h0M179.3 145.9h0M154.8 142.2h0M133.6 167h0M173.5 153.4h0M160.4 183h0M127.1 174.1h0M161.2 189.8h0M191.8 163.5h0M174.4 184h0M151.4 141.3h0M159.9 140.2h0M151.6 116.5h0M177.4 132.5h0M166.6 194.7h0M153.8 174h0M159.7 164.6h0M146.5 166.7h0M173.7 174.2h0M172.4 181h0M185.2 172.7h0M166.1 193.2h0M204.1 175.4h0M162.6 167.1h0M164.2 186.3h0M169.9 188.1h0M180.1 155.5h0M162.6 183.9h0M163.9 189.1h0M178.2 146.1h0M182.6 177.1h0M166.8 194.9h0M163.6 191.1h0M168.5 191.5h0M157.3 136.5h0M171.2 178.8h0M174.8 167.3h0M169.3 170.5h0M188.8 161.4h0M200 175.9h0M153.4 188.5h0M177.1 141h0M121.3 169.1h0M183.1 176.2h0M170 182.2h0M181.7 171.1h0M154.4 180.3h0M169.6 191.1h0M158.2 171.8h0M162.5 166.6h0M159.2 171.5h0M149.6 162.1h0M166 192.3h0M171.9 175.1h0M154.4 177.5h0M156 168.4h0M164.3 177.5h0M158.5 155.4h0M211.3 163.8h0M168.8 190.9h0M154.1 173.1h0M167.8 185.6h0M158.5 165.5h0M153.4 155.4h0M176.8 149.2h0M170.6 179.9h0M105.4 177.7h0M154.9 167.2h0M164.1 174.1h0M154.2 183.7h0M212.9 170.9h0M143 168.9h0M177.6 134.7h0M162.8 183.5h0M161.2 187.9h0M159 180.5h0M165.3 191.2h0M182.2 172.3h0M176.4 178.5h0M169.7 170.9h0M166.5 194.2h0M150 176.1h0M168.6 183.8h0M185.9 160.4h0M179.4 132.5h0M182.6 163.7h0M151.1 161.9h0M163.7 190.5h0M166.9 194.4h0M165.5 193.9h0M174.8 159h0M154.5 177.8h0M173.7 158.7h0M163.1 181.7h0M180.6 155h0M202 170.6h0M168.2 187.1h0M194.9 159.4h0M151.8 143.2h0M171.1 184.8h0M147.8 174.4h0M174.6 170.4h0M173.4 153.4h0M136.4 169.4h0M165.4 193h0M203.8 159.5h0M160 164.1h0M159.5 143.1h0M209.1 173h0M168.8 175.8h0M154.8 174.6h0M156.9 148.1h0M157 175.5h0M181.6 149.1h0M153.2 98.2h0M169.8 182.5h0M167.5 194.3h0M164.1 183.1h0M167.3 192.7h0M179.3 172.9h0M171 151.2h0M157 155.8h0M180.9 124.6h0M172.3 186.5h0M172.1 167.1h0M164.7 192.2h0M179.8 150.1h0M161.5 186h0M166.5 194.6h0M164 176.7h0M174.9 165.3h0M181.4 170.9h0M169.7 181.5h0M165.4 193.9h0M170.5 180h0M148.4 162.7h0M169 183.8h0M167.2 193.3h0M193.3 169.4h0M174.7 171.6h0M176.9 172.3h0M174.9 137.6h0M180.1 175.3h0M156 170.4h0M160.9 188.4h0M164.3 164.8h0M185.5 167h0M168 188.1h0M173.4 154.8h0M159.8 179.3h0M132.2 162.1h0M180.1 168.3h0M169.5 187.9h0M151.3 154.1h0M175.5 166.7h0M170.7 188.6h0M174.4 183.7h0M182.9 152.4h0M168.4 192.9h0M181.1 111h0M169.9 185.2h0M165.8 193.2h0M164.8 193.3h0M176.9 148.4h0M183.1 152.3h0M156.3 138h0M171.5 139.1h0M178.7 171.1h0M147.6 158.9h0M163.1 167.4h0M162.6 188.7h0M161.8 166h0M150.4 148.7h0M173.9 180.4h0M170.8 182.8h0M170.4 188.5h0M165.6 193.2h0M158.1 173.1h0M159 171.2h0M168.1 192.1h0M179.5 171.2h0M151.5 177.5h0M142.7 161.4h0M162.7 184.6h0M151.7 154.1h0M159.8 168h0M166.4 194.9h0M150.8 174.5h0M192.7 178h0M163.2 182.3h0M155.6 177.3h0M172 191.1h0M169.3 190.2h0M169 191.2h0M156.5 180.5h0M153 172.6h0M159.5 144.3h0M162.8 181.7h0M153.9 179.9h0M182.3 127.7h0M162.1 185h0M158.3 162.2h0M162.6 180.5h0M165.9 193.5h0M166.2 193.6h0M182 161.3h0M159.4 174.3h0M167.2 188.7h0M169.4 182.9h0M156.3 185.1h0M154.9 133h0M177.2 147.6h0M181.6 171.6h0M174.7 148h0M159.3 188.6h0M173.5 181.6h0M163.4 183.7h0M174.2 147.8h0M151.5 169.7h0M165.4 187.7h0M160 162.4h0M160.7 174.6h0M153.3 175.1h0M154.4 124.5h0M152.5 139.7h0M156.3 159.1h0M152.6 140.3h0M226.8 170.2h0M173.5 179h0M166.5 194.5h0M149.9 165.2h0M141.4 161.8h0M161.2 157.4h0M178.3 166.6h0M178.4 172.4h0M170.4 180h0M155.7 175.4h0M173.1 159.1h0M164 189h0M124.4 167.8h0M157.7 184.6h0M157.9 184.1h0M167.7 192.4h0M158.9 174.6h0M183.8 158.8h0M151.4 152.2h0M161.5 170.9h0M175.8 154.6h0M158.7 160.9h0M201 161.4h0M209.5 164.9h0M155.4 156.8h0M183 175.7h0M149.6 172.2h0M175.6 139.8h0M142.5 183.5h0M167.7 194.2h0M176.1 152.5h0M176.8 175.2h0M191.5 169.1h0M150.4 151.4h0M136.9 159.4h0M169.1 183.9h0M182.1 150.7h0M166 193.5h0M139.6 169.4h0M145.8 158.9h0M164.8 192.7h0M173.7 165.9h0M167.7 193.2h0M155.9 173.7h0M160.7 180.6h0M188.4 171.8h0M161.1 184.7h0M178.1 165.5h0M174.8 179.9h0M179 116.7h0M170.3 163.5h0M159.8 186.3h0M177.9 117.8h0M128.8 172.8h0M171.4 177.5h0M187.3 160.1h0M163.7 190.2h0M162 170.7h0M160.3 162.1h0M177.7 166.3h0M173.9 159.1h0M170.4 178.4h0M169.1 188.8h0M170 190h0M146.9 182.2h0M148.9 164.5h0M144.8 160.1h0M175.8 181.6h0M193.3 182.8h0M112.7 162.6h0M150.5 156.4h0M164.6 191.7h0M155.6 178.5h0M166.8 191.7h0M191.9 160.5h0M214.1 160.4h0M164.8 189.8h0M185.6 161.4h0M180.6 157.5h0M173.6 161.7h0M157.9 183.2h0M161.4 183.1h0M166.6 194.5h0M179.4 174.8h0M168.8 189.1h0M171.5 177.6h0M171.6 165.5h0M165.3 192.6h0M155.2 158.4h0M176.3 169.1h0M170 186h0M168.8 192.9h0M128.4 158.7h0M172 169.3h0M186 173.9h0M182.3 143.5h0M167 194.9h0M145.7 162.9h0M169.8 175.4h0M123 168.5h0M181.6 117.5h0M172.2 157.4h0M178.3 173.6h0M179 173.3h0M153.6 182h0M172.2 163.6h0M173.3 181.5h0M168.3 187.3h0M183.4 176.2h0M168.2 187.9h0M162.1 175.5h0M164.7 190.1h0M150.5 128h0M160.6 178.7h0M177.4 131.5h0M170 191h0M151 179.2h0M172.9 140.2h0M169.4 187.6h0M156.6 182.1h0M158.9 180.8h0M158 164h0M167.5 192.8h0M170.5 183.7h0M172.8 186.6h0M170.7 182.9h0M177.6 168.4h0M157.9 169.1h0M159.3 180.6h0M128 172.3h0M166.4 194h0M172.3 176.4h0M151.7 175.7h0M174.2 169.6h0M174.2 162.4h0M165.2 193.4h0M141.3 175.8h0M176 150.8h0M190.2 174.6h0M156.7 184.1h0M167.4 194.1h0M185 163.6h0M194.2 171.2h0M160.6 179.4h0M142.8 162.1h0M176.4 161.2h0M131 158.7h0M169 191.7h0M174.8 140.4h0M167.7 193.6h0M147.3 163.1h0M186.2 177.1h0M170.2 186.5h0M192.1 170h0M195.6 163.9h0M155.7 163.1h0M153.7 121.4h0M171.2 181.4h0M162 182.5h0M156 169.4h0M197.3 174.2h0M156.5 136.9h0M151.3 141.3h0M165.4 193.9h0M161 188.6h0M177 126.2h0M166.6 194.1h0M167 194.7h0M180.1 139.3h0M177.2 163.1h0M149 177.8h0M151.5 156.6h0M114.1 159.9h0M156.2 138.4h0M185.6 165.6h0M160.8 172.6h0M184 170.3h0M179.3 176.6h0M152.3 173.6h0M173.1 185.6h0M171.7 163.8h0M137.8 165.7h0M167.9 193.2h0M183 180.2h0M194.5 168.6h0M172.7 182.4h0M175.4 130.6h0M164.9 180.2h0M167.1 193.2h0M162.8 178.3h0M224.2 160.4h0M182.5 155.6h0M132.1 167.1h0M172.1 184.8h0M179.2 162.4h0M145.9 171.2h0M154.1 144.1h0M216.7 163h0M180 126.1h0M124.9 158.6h0M119.4 167.1h0M144.1 169.5h0M148.7 163.2h0M152.6 162h0M171.5 185.1h0M179.4 114.2h0M176.8 186.1h0M178.6 157.7h0M171 174.1h0M170 190h0M174.4 161.7h0M139.4 165.8h0M153.4 99h0M184.3 166.3h0M161 186.5h0M113.4 158.7h0M154.2 180.6h0M158.8 156.6h0M171.2 182.6h0M189.5 159.2h0M163.3 187.8h0M180.9 134.5h0M122.5 160.9h0M176.5 120.1h0M171.6 145.1h0M152.2 174.1h0M171.5 159.8h0M167 192.7h0M225.9 167.8h0M171.4 151.6h0M155.1 171.6h0M168 190.6h0M156.4 144.6h0M169.9 188.5h0M179.3 169.4h0M170.5 187.9h0M177.8 143.1h0M142.6 161.7h0M174.5 158.5h0M148.3 172.6h0M155.7 176.3h0M156.3 170.6h0M167.8 188.5h0M162.9 172.6h0M155.3 173.9h0M155.5 126.4h0M183.2 165.2h0M162.3 183.6h0M174.8 145.4h0M154.6 167.2h0M157.6 170.1h0M174.9 154.7h0M168.6 192.6h0M166.9 190.1h0M172.8 184.1h0M182.9 158.7h0M148.6 161.7h0M180.5 162.3h0M155.6 160.3h0M160.8 188.4h0M164.1 190.2h0M158.5 170h0M164.4 178.3h0M181.5 164.9h0M133.1 168.5h0M177.2 162.9h0M152.3 143.2h0M204.6 166.9h0M164 177.5h0M164.2 182h0M153.4 164.4h0M148.9 163.2h0M204.9 159.6h0M155.1 167.8h0M165.3 194.4h0M172.9 186.9h0M163.6 189.5h0M151.9 162.4h0M171.9 184.5h0M181.7 152.3h0M176 179.9h0M172.9 173h0M164.6 191.8h0M173.6 159h0M131.2 161.4h0M150.1 149.9h0M179.5 167.9h0M155.9 118.3h0M156.8 169.5h0M179.7 175.3h0M182.6 156.5h0M159.9 178.4h0M167.5 191.6h0M218.7 168.1h0M175.6 183.2h0M153.1 144.5h0M173.8 164.9h0M169.2 187h0M168.2 185.9h0M171.6 164.4h0M158.5 165.9h0M169.2 188.2h0M154 174.3h0M161.8 155.2h0M152.6 148.1h0M172.4 146.2h0M154.2 161.7h0M174 178.5h0M181.7 128h0M151.8 133.3h0M140.8 170.9h0M167.1 193.4h0M147.1 158.7h0M159.1 183.5h0M154.5 141.8h0M180.7 119.2h0M129.8 162.3h0M152.4 159.5h0M170.7 183.8h0M157.2 174.5h0M170 185.2h0M186.6 177.1h0M161.4 180.1h0M160.1 187.8h0M163.4 189.1h0M146.2 164.9h0M147.6 168.6h0M157.3 137.4h0M179.5 148.7h0M158.5 184.3h0M163.1 186.4h0M171.3 164.5h0M182.1 181.9h0M162.9 188.1h0M176.3 132.1h0M167 193.2h0M125.9 166.5h0M162.7 165.1h0M193.6 167.2h0M184.3 159.4h0M173.6 174.1h0M157.9 179.8h0M171.3 185.4h0M154.9 166.1h0M180.6 166.6h0M178.8 170.8h0M164.2 176.9h0M177.2 176h0M171.8 189.2h0M157.7 149.7h0M155.9 139.7h0M180.9 170.9h0M166.5 194.5h0M145.8 158.8h0M176.2 179.1h0M180 183h0M165.8 192.1h0M162 179.3h0M173.1 177.3h0M174.4 159.1h0M155.8 165.3h0M200.8 162.8h0M115.7 161.4h0M182.9 154.3h0M152.4 174.7h0M261.1 172.1h0M184.6 171.4h0M149.5 163.7h0M180.2 133.6h0M181.3 169.8h0M207.7 159.1h0M190 173h0M159.6 183.8h0M149.1 170.7h0M149.9 150.3h0M181.6 152.1h0M174.3 187.7h0M169.5 176.4h0M156.8 156.8h0M150 182h0M170.1 186.3h0M162.6 160.3h0M158.8 134h0M180.3 170.3h0M150.3 137.9h0M165.2 192.2h0M180.8 158.7h0M163.8 168.4h0M176.9 152.3h0M228 159.4h0M157.1 176.9h0M144.5 169h0M150.3 132h0M176 170.9h0M132.4 182.4h0M154.8 170.9h0M174.6 180.5h0M178.9 149h0M190.3 180.1h0M156.3 152.7h0M119 167.3h0M178.6 123.2h0M150.2 160.6h0M178.9 176.8h0M150.8 136.2h0M162.6 185.5h0M173.7 140.9h0M151.5 177.6h0M132.2 162.4h0M168 191h0M153.9 175.4h0M239.4 162.7h0M151.8 133.4h0M157.6 175.6h0M176.8 169.7h0M171.9 180.8h0M170.5 188.8h0M165.8 193.4h0M183.6 162.3h0M154.1 141.2h0M171.5 158.1h0M151.2 132.7h0M117.7 166.2h0M171 176.8h0M163.7 189.5h0M154.6 162.5h0M194.3 160.5h0M162 176.2h0M174.6 165.4h0M171.3 185.8h0M164.7 164.6h0M153.4 145h0M154.2 174.6h0M178.4 139.6h0M162.5 169h0M200.8 160.4h0M150.5 135.8h0M162.5 174h0M151.8 159.5h0M197.8 171h0M160.3 168h0M150.1 148.8h0M160.9 189.7h0M193.4 160.8h0M125.3 165.6h0M145 164h0M150.2 132.5h0M158.5 159.3h0M178.8 147.3h0M174.6 177.5h0M166 192.4h0M170 180.6h0M162.4 189.7h0M152.1 132.2h0M139.5 169.9h0M161.8 183.3h0M154.4 183.2h0M177.6 132.6h0M148 169.3h0M174.2 180.6h0M198.1 160.3h0M157.7 182.6h0M167.5 194.6h0M162.2 182.3h0M166.8 193.3h0M162.1 185.8h0M177.7 162.3h0M132.8 161.1h0M178.3 128.7h0M160.5 190.4h0M165 190.6h0M174.3 177.8h0M161.9 189.3h0M156.2 185.1h0M170.3 187.2h0M157.2 180.5h0M162.5 164.1h0M171.9 191.1h0M163.1 191.1h0M162.1 174.1h0M162.5 163.8h0M196.1 169.7h0M164.2 179.4h0M168.6 174.4h0M176.3 157.6h0M180.5 147.5h0M172.5 162h0M155.2 100.5h0M195.5 168.1h0M175.7 172.9h0M190.3 172.3h0M165.3 193h0M154.1 171.6h0M163.3 178.4h0M160.3 174.3h0M167.3 193.5h0M164.5 188.6h0M171.4 183.3h0M182.7 155.3h0M168.8 189.9h0M138.2 165.6h0M175.3 180.8h0M158.4 182.5h0M172.6 141.8h0M164.2 192.8h0M127.9 177.4h0M152.1 144.5h0M193.2 175h0M196 166.8h0M72.1 173.3h0M173.1 184.1h0M171.5 181.4h0M168.7 193.4h0M164 191.1h0M171.1 187.1h0M128.6 160.2h0M198.7 171h0M161.6 184.6h0M181.7 97.3h0M171.4 179.7h0M203.7 163.4h0M178.6 181.1h0M174.9 168.3h0M161.6 189.2h0M171.2 184.3h0M167.9 189h0M173.3 182.1h0M180.8 158.8h0M167.6 191.9h0M200.3 161.9h0M172.1 183.4h0M172.6 188.8h0M174.9 181h0M167.4 187.8h0M168.8 193.1h0M161.3 184.9h0M153.1 179.9h0M168.6 192h0M163.2 181.2h0M156.5 157.8h0M172.2 180.1h0M172.3 182.3h0M173.9 179.7h0M153.2 134.8h0M166.2 194.3h0M184.5 175.6h0M148.2 159.5h0M158.8 170.7h0M175.4 181.3h0M167.5 191.7h0M171.7 186.3h0M154.7 145.7h0M155.5 162.2h0M157.3 163h0M160.4 165.6h0M150.6 133h0M175.4 175.5h0M169.2 191.4h0M208.4 158.9h0M163.1 181.5h0M165.6 192.1h0M193.8 161.6h0M151.3 149h0M173.8 162h0M152.8 170.2h0M168.1 189.6h0M124 173h0M160 175.3h0M153.1 183.2h0M176 138.6h0M173.3 189.1h0M176 163.9h0M184.3 164.3h0M126.8 159.2h0M157.3 165.9h0M162 184.3h0M163.6 188.4h0M161.2 188.8h0M183.3 177.6h0M177.5 150.8h0M157.4 181.2h0M156.5 179.4h0M171.8 168.9h0M177.8 181.5h0M114.2 170.1h0M125.8 171.7h0M169.3 184.5h0M162.9 161.2h0M158.6 156.9h0M176.6 178.5h0M156.9 165.3h0M170.3 190h0M180.8 156.6h0M152.5 140.3h0M174.3 162.6h0M171.4 174h0M151.5 141.5h0M178.3 128.9h0M178 137.1h0M164.3 192.1h0M146.7 167.9h0M163.3 185.2h0M150.7 131.4h0M246.1 162.2h0M157.2 166.2h0M191.3 177.2h0M155.5 166.4h0M153.1 138.3h0M182.9 133.9h0M179.4 159.6h0M160.7 190h0M156.2 156.2h0M153.2 162.3h0M153.4 166.2h0M155.8 180.3h0M169.8 183.5h0M157.3 144.2h0M166.9 194.6h0M169.4 192.2h0M189.3 170.2h0M170.2 185.6h0M154.8 183.1h0M162.9 188.6h0M177.2 166.5h0M160 189.7h0M175 129h0M166.3 194.6h0M158.4 168.1h0M174.9 160.2h0M163.1 179.5h0M161 178.7h0M158 181.4h0M156.1 167.8h0M168.4 191.7h0M156.4 176.2h0M172.9 149.1h0M153.9 181.3h0M181.4 146.9h0M181.7 181.9h0M127.7 159.5h0M155.6 141.2h0M180.7 153.7h0M182.6 158.9h0M155 161.3h0M165.3 194.3h0M162.3 185.5h0M178.9 155.6h0M177.3 172.8h0M141.2 168.3h0M182.5 176.9h0M165.5 191.4h0M159.3 137.2h0M154.2 164.9h0M180.6 145.6h0M181.8 141.7h0M161.1 185.4h0M160.1 183h0M164.7 193.1h0M187.9 166.5h0M172.7 163.3h0M152.7 157.3h0M174.2 158.2h0M175.8 175.6h0M176 153.5h0M151.2 147.1h0M182.4 144.6h0M163.3 187.2h0M169.4 184.7h0M153.4 168.8h0M157.2 173.2h0M151.2 111.5h0M163.4 153h0M160.9 187.7h0M181.8 145.9h0M178.8 136.6h0M169.5 189h0M170.7 159.7h0M163.9 183.2h0M173.9 154.2h0M171.5 156.8h0M168.9 189.2h0M142.6 167.8h0M157.7 118.7h0M157 165.3h0M180.5 165h0M161.7 180.3h0M185.9 161.5h0M170.8 189.8h0M167.7 190.9h0M176.2 142.6h0M163.8 185.2h0M171.7 184.2h0M156.8 168.3h0M188.3 160.8h0M174.8 174.4h0M165.5 186h0M159 179.4h0M152.4 120h0M161.5 179.2h0M160.9 175.6h0M195.8 165.4h0M154.3 171.3h0M180.3 175.2h0M162.4 165.7h0M167.1 194.5h0M183.7 179.1h0M152.4 155.6h0M166.1 193.9h0M151.6 157.7h0M154.5 161.3h0M178.2 182.2h0M170.3 164.6h0M148.2 160.7h0M167.8 192.8h0M167 194.4h0M178.1 173.8h0M169.9 184.3h0M158.7 164.6h0M209.8 161.9h0M151.2 159.2h0M170.9 188h0M168.1 188.7h0M150.2 150.9h0M142.3 170.3h0M135.1 160.8h0M210.2 161h0M157.3 160.4h0M178.5 160.3h0M178.6 168.6h0M152.1 159.9h0M158.9 178.6h0M148.9 177.5h0M172.3 177.9h0M135.9 174.3h0M183.5 171h0M173.7 177.4h0M136.3 162.9h0M201 171h0M165.7 193.7h0M100.8 171.5h0M155.6 177.5h0M168.2 185.8h0M171.9 183.6h0M142 159.9h0M196 159.1h0M191.7 162.4h0M183.8 166.1h0M157.1 175.7h0M149.3 165.9h0M207 161h0M150 176.4h0M153 137.5h0M177.2 159.3h0M167 192.2h0M176.7 157.1h0M196.1 169.4h0M154.4 166.2h0M157 163.3h0M156.7 128.5h0M166.8 194.8h0M171.7 170.7h0M161.2 183.5h0M182.9 152.1h0M162.4 186.8h0M194.6 174h0M185 176.6h0M193.7 161.8h0M161.6 190.4h0M165.6 194.9h0M170.4 182.7h0M171.2 184.8h0M156.1 162.2h0M163.8 191.9h0M172.8 169.4h0M152.5 135.1h0M174.5 173.6h0M166.7 194.4h0M146.3 165.4h0M169.6 191.4h0M152.3 150.6h0M171.4 173.1h0M180.5 154h0M160.1 186.7h0M126.6 164.5h0M151.5 141.5h0M147.7 165.1h0M178.9 140.9h0M156.4 126.7h0M164.1 179.3h0M185.7 167h0M160 178.9h0M168.4 186.1h0M152.5 158.7h0M162.4 190.2h0M190.1 182.5h0M134.5 176.2h0M169.6 188.2h0M175 131.7h0M150.7 134.2h0M181.5 161.3h0M153.6 141.7h0M138.3 160.2h0M144 168.8h0M159.5 174.6h0M165.6 193.9h0M167.9 193.8h0M194 169.3h0M165.3 192.9h0M169.8 177.3h0M169.9 178.2h0M165.1 194.5h0M176.4 163.7h0M147.4 168.4h0M178.5 168.7h0M147.4 172.5h0M168.5 186.9h0M171.5 191.1h0M168.7 193h0M177.5 174.9h0M156.9 155.4h0M154.4 172.5h0M132 170.3h0M175.9 173.7h0M153.4 184.7h0M151.1 167.4h0M162.2 184.3h0M175 172.9h0M147.1 179.4h0M170.6 180.1h0M166.2 194.8h0M177.1 177.6h0M164.4 179.9h0M171.3 173.5h0M208.7 164h0M159.3 175.6h0M172.1 186.1h0M158 128.9h0M209.2 159.7h0M166.3 194.7h0M153.4 146.2h0M157.4 153.6h0M164.9 190.7h0M190.3 168.7h0M168.1 194.9h0M185.2 162.1h0M144.4 164.4h0M194.3 175.4h0M157.6 169h0M115.1 168.5h0M167.4 190.5h0M175.3 174.9h0M145.2 158.6h0M170.4 186.3h0M155.4 179.5h0M154.8 173.4h0M160.3 181.5h0M197.3 162.7h0M190.9 170.3h0M191.7 167.2h0M162.2 170.1h0M164.4 189.8h0M151.7 182.2h0M176.5 186.5h0M157.9 175.8h0M174.4 178h0M172.5 147h0M197.8 166.9h0M124.1 164.3h0M154.8 172.5h0M150.5 159.1h0M180.1 143.2h0M161.8 182.1h0M154.2 167.9h0M154 162.6h0M159 179.1h0M154.1 123.9h0M169.7 186.1h0M154.3 154.6h0M162.1 190.1h0M172.6 170.9h0M159.3 184h0M186.3 169.6h0M154.9 148.3h0M167.3 192.9h0M201.5 164.9h0M147.4 164.8h0M167.7 193.2h0M180.8 166.1h0M172.3 157.7h0M151.2 138h0M136.6 170.4h0M171.7 153.7h0M188.5 158.9h0M182.8 150.1h0M169.4 191.2h0M154.7 162.1h0M164.1 191.3h0M159.5 149.9h0M156.6 182.8h0M179.9 140.4h0M140.4 160.2h0M160 148.3h0M156.6 170.1h0M173.2 187.6h0M165.6 192.3h0M167.3 194.4h0M195.1 162h0M151 179.9h0M182.1 159.1h0M170.1 186.3h0M159.9 151.6h0M159.7 180h0M163.9 183.2h0M168.3 185.9h0M166.5 194.3h0M174 187.8h0M166.4 194.3h0M164.5 186.3h0M170.1 183.4h0M168 183.3h0M160.9 188h0M164.6 191.5h0M162.3 186.2h0M187.4 159h0M174.2 136.1h0M186.1 168.5h0M196.3 167.2h0M164.7 190.2h0M152.1 165.1h0M180.6 168.4h0M156.3 160.7h0M176 172.8h0M147.3 170.3h0M130.3 167.9h0M173.5 181.5h0M126.9 169.1h0M154.3 175.8h0M135.8 159.5h0M174.5 105.4h0M167.3 193.1h0M172.8 169h0M175.9 137.7h0M165 188.2h0M161.9 188.6h0M170.2 182.8h0M186 159h0M165.1 192.4h0M169.3 172.9h0M175.7 162.4h0M166 194.6h0M163.4 182h0M136.6 165.6h0M181.5 156.5h0M176.4 141.4h0M162.8 170.1h0M165.7 194.9h0M169.5 187.1h0M159.3 170.5h0M177.3 150.5h0M170 187.6h0M190.1 169.6h0M158.4 180.1h0M148.8 175h0M175.2 182.5h0M132 169h0M159.8 185.4h0M145 168.5h0M180.6 141.9h0M217.8 166h0M150.3 145h0M167.7 192.9h0M181.9 166h0M164.6 188h0M163.6 185.8h0M174.4 159.4h0M178.8 161.4h0M162.6 174.8h0M167.9 188h0M170.5 188.5h0M159.2 174.9h0M178.9 136.9h0M184.1 173.4h0M157.1 144.1h0M158.5 163h0M161 148.2h0M177.1 175.7h0M185.2 160.7h0M155.1 150.1h0M161.5 153.2h0M167.9 190.8h0M177.3 160.4h0M164.7 189.3h0M140 162.6h0M187 166.4h0M217.9 166.2h0M166.4 193.5h0M183.6 160.4h0M174.5 144.8h0M158.4 175.2h0M153.4 164h0M182.7 131.2h0M172 189h0M174.5 174.9h0M181.6 165.4h0M177.1 153.5h0M178.4 153.6h0M173.5 172.3h0M175.6 153.3h0M164.7 187.7h0M196.5 170.9h0M174.3 162.4h0M190 169.1h0M160.1 151.8h0M200.1 177.7h0M167.1 194.2h0M164.7 180.8h0M150.2 157.4h0M162.7 184.9h0M198.6 167.4h0M159.5 143.2h0M176.6 144.7h0M165.4 193h0M139.5 163.5h0M158 153.7h0M151.3 154.7h0M144.8 162.1h0M162.4 189.2h0M164 189.7h0M218.3 162.2h0M156.6 167.6h0M171.5 184.2h0M159.7 132.8h0M181.6 180.4h0M164.1 191.1h0M187.2 175.6h0M144.9 167.9h0M156.3 144h0M171 173.7h0M170.8 165.8h0M168.8 189.3h0M135.1 163.8h0M162 186.2h0M164.2 192.6h0M160 146.8h0M173.8 178.2h0M188.7 172.7h0M161.3 159.2h0M172 148.6h0M181.2 165.6h0M175.8 169.5h0M173.6 183.9h0M168.3 176.6h0M160.2 183.1h0M177.1 162.2h0M174.5 162h0M167.5 193h0M163.6 177.2h0M175.5 161.2h0M168.2 187.2h0M181.8 172.1h0M177.6 123.9h0M169.4 191.3h0M172.1 145.2h0M160.4 179.8h0M193.3 167.4h0M171.7 158h0M163.8 189.7h0M139.4 172.1h0M166 193.4h0M181.4 135.7h0M177.6 149.3h0M153.4 164.3h0M172.8 153.8h0M183.5 168.4h0M186.5 174h0M170.4 186.4h0M154.9 179.1h0M161.1 170.4h0M165.3 193.3h0M164.7 192.1h0M163.3 181.4h0M202.7 165.1h0M151.2 160.6h0M163.3 189.3h0M174.8 173.5h0M184.8 158.6h0M193.7 170.1h0M160.8 187.6h0M156.2 165.6h0M178.4 161.7h0M154.7 153.3h0M189.8 175.2h0M134.4 160.5h0M190.1 160.2h0M158 131.2h0M170.1 190.1h0M162.3 175h0M176.1 179.3h0M209.6 168.9h0M157.8 178.2h0M173.8 177.3h0M156.3 167.8h0M160.7 185.9h0M161.1 183.9h0M169.3 186.5h0M152.1 152.7h0M169.6 183.5h0M166 193.1h0M153.3 164.8h0M163.7 170.2h0M178.3 165.6h0M153.3 177.8h0M168.8 187.5h0M182.8 164.1h0M161 188h0M164.8 189.6h0M173.3 177h0M178 142.9h0M171.3 181.3h0M151.9 173.8h0M166 194.1h0M210.4 165.2h0M161.1 173.5h0M139.5 169.5h0M157.2 172.7h0M163.9 189.5h0M163.9 186.8h0M179.4 155h0M180.1 148.6h0M164.6 192.3h0M151.2 180.9h0M170 189.5h0M167.3 194.4h0M178.7 129.1h0M155.2 179.3h0M182.5 131.4h0M156.2 136.1h0M175.2 146.5h0M146.4 170.4h0M171.6 180.7h0M162 168.1h0M159.2 156.9h0M162 153.1h0M169.5 187.6h0M150.4 126.3h0M166 194.8h0M128.7 168.5h0M151 175.3h0M146.9 159.1h0M141.1 172.4h0M172.4 179.3h0M221.3 166.3h0M156.3 156h0M232.4 171.4h0M142 161.4h0M131 159.9h0M177.6 140.7h0M168.1 193.4h0M179.1 147.2h0M163.6 193.9h0M160.5 177.8h0M162.5 191.9h0M169.5 188.4h0M213.2 162.5h0M165.6 192.8h0M153.9 115.1h0M158.4 186.1h0M177 161.7h0M156.1 164.9h0M152.7 135.8h0M157.1 171.9h0M160.5 171.1h0M169.5 189.4h0M158.2 150.5h0M153.6 163.9h0M188.2 171.6h0M168.1 191.4h0M161.1 183.6h0M170.9 182.5h0M165.7 191.2h0M193.4 160.5h0M163.4 191.9h0M194.9 170.2h0M175.2 153.1h0M181.2 165.8h0M154.5 165.7h0M149.3 172.8h0M150.8 124.3h0M227.5 166.2h0M173 131.2h0M162.9 181.7h0M161.3 165.8h0M170.8 190.8h0M154.2 174.1h0M177.8 165.5h0M177.1 150h0M182.7 178.2h0M184.2 176.1h0M178.8 173.4h0M153.1 165.9h0M182.6 132.3h0M150.8 172.9h0M171.5 183.4h0M176.7 164.7h0M184.9 170h0M150.6 133h0M156.9 159.2h0M158.4 156h0M155.4 147.4h0M157 183.1h0M165.3 190.6h0M200.7 172.7h0M175 174.2h0M159 186.7h0M187.4 166.1h0M153.4 138h0M157.7 174h0M186 159.5h0M176.5 141.6h0M159.3 143.2h0M153.4 138.9h0M219.4 172.5h0M166.3 194.9h0M162.4 175.1h0M147.3 169.4h0M175.8 164.8h0M166.2 193.5h0M170.3 170.1h0M174.3 175.8h0M153.5 164.4h0M176.8 131.7h0M152.6 149.9h0M160.8 158h0M162.4 174.5h0M108.4 166.6h0M168.9 180.3h0M174 154.8h0M157.6 140.9h0M150.1 174.2h0M169.6 150h0M165.6 194.2h0M158.1 142.4h0M194.1 162.2h0M176.8 144h0M175.7 145.2h0M171.6 164.7h0M171.1 182.3h0M153.5 161.1h0M194.6 175h0M131.5 175.7h0M178.3 169.9h0M199.1 166.5h0M144.1 166.6h0M175.9 148.3h0M153.8 160.6h0M154.5 173.4h0M151.5 163.5h0M149 163.1h0M219.1 177.4h0M159.3 183.5h0M90.2 170.1h0M154.6 142.9h0M157.6 160.5h0M161.3 184h0M153.2 150.1h0M153.7 96.4h0M187 169.3h0M174.8 172.7h0M171 190.4h0M176.4 185.8h0M140.3 163.1h0M176.7 182.6h0M158.1 180.8h0M172.4 182.5h0M160.1 186h0M170.8 182.8h0M173.3 164.7h0M98.6 165.4h0M166.5 194.5h0M156.4 181.2h0M160.7 182.6h0M180.9 168.7h0M166.4 194.5h0M155.3 168.5h0M161.4 188.2h0M157.2 177h0M108 166.1h0M203.9 175.7h0M171.3 183.4h0M134.1 166.7h0M182.6 141.7h0M165.5 191.9h0M179.1 160.7h0M183.1 166.7h0M163.5 184.6h0M169.6 180.9h0M177.7 135.6h0M175.5 158.7h0M151.2 167.1h0M154.6 171.2h0M178.8 123.8h0M168.5 193.9h0M179.3 140.4h0M175.7 186.2h0M193.3 175.8h0M157.8 155.9h0M169.3 188.4h0M193 162.1h0M128.4 162.6h0M169.4 185.6h0M149.9 145.6h0M165.3 192.1h0M147 170.7h0M181.3 150.2h0M170.1 178.3h0M163.2 188.4h0M175.7 179.7h0M154.4 164.4h0M155 159.5h0M156 148.6h0M152.6 177.3h0M162.7 190.7h0M163.8 189.7h0M150.3 165.2h0M178.3 122.1h0M162.5 191h0M175.1 183h0M144.7 163.7h0M181.5 124.7h0M170.3 189.5h0M178.2 163.2h0M174.1 177.1h0M174 180.4h0M187.8 158.9h0M158.7 151.1h0M159.8 178.4h0M141.3 158.8h0M169.5 169.1h0M155.7 174.9h0M169 191.8h0M143.5 181.4h0M180.2 117.4h0M175.4 181.8h0M161.4 171.9h0M171.4 188.8h0M157.2 171.2h0M201.9 159.5h0M150.3 150.6h0M150.8 171.2h0M156.4 169.1h0M163.1 192.3h0M125.5 171.5h0M170.1 182.1h0M161.1 191.4h0M154.2 139.3h0M150.2 136.7h0M183.1 169.3h0M165.3 189.9h0M159.4 179.7h0M137.1 161.4h0M149.3 168.4h0M160.1 164.8h0M112.9 176.9h0M149.8 160.8h0M168.7 187h0M151.8 140.5h0M126.6 171.9h0M156.5 110.3h0M151.3 178.3h0M160.8 178h0M174.4 140.5h0M162.6 190.5h0M166.3 194.2h0M171.3 190.8h0M170.5 159h0M154.7 155.4h0M170.5 169.8h0M154.6 144.1h0M193.1 159.9h0M155 179.1h0M164.4 186.7h0M170.5 188.3h0M170.5 170.2h0M127.8 170.8h0M157.6 154.7h0M181.6 148.9h0M168 189.7h0M172 185h0M186.1 169h0M154.6 161.1h0M157.8 171.6h0M148.7 180.6h0M156.3 148.6h0M172.8 167.2h0M176.5 157.8h0M166.2 193.6h0M186.5 173.1h0M178.8 150h0M155.5 129.7h0M154.3 180h0M147.7 164.2h0M163 174.4h0M167.1 193.4h0M176.3 160.6h0M160.7 186.7h0M168.1 190.5h0M159.9 177.4h0M162.3 190.4h0M162.1 173.6h0M178.5 123.6h0M150.1 150.9h0M168.1 188.5h0M153.2 150.9h0M181.9 153.1h0M161.2 173.2h0M179.8 171h0M160.6 168.8h0M163.5 187.2h0M121.4 176.5h0M179.8 153.1h0M161.5 157.7h0M152.9 125.2h0M177.9 175.9h0M148.4 172.9h0M191 161.9h0M167.1 192.1h0M163.4 192.2h0M158.6 169.5h0M159.9 182.9h0M178.3 172.9h0M135.3 165.3h0M174.7 167.7h0M143.4 166.8h0M208.9 178.1h0M180.9 144.9h0M153.9 151.5h0M181 157.9h0M176.7 159.2h0M153.7 161.4h0M191.1 159.5h0M150.2 160.5h0M181.6 162.1h0M150.6 132.8h0M153.1 120.1h0M162.2 183.2h0M166.3 193.6h0M166.6 194.5h0M180.4 155.1h0M154.4 162.5h0M154.8 177.3h0M167 193.7h0M197.2 171h0M164 187.2h0M170.1 189.2h0M182.4 159h0M153.8 161.8h0M150.9 150.7h0M141.7 163.4h0M182.9 148.4h0M166.9 194.4h0M111.4 165h0M165.9 192.7h0M200.9 165.7h0M161.2 174h0M156.8 164.5h0M168.6 190.3h0M196.2 171.1h0M164.5 186h0M198.2 163.2h0M204.9 162.2h0M151 148.6h0M165.8 193.3h0M163.8 190h0M175.6 142.7h0M159.9 182.8h0M178.5 166.5h0M155.7 160h0M206.8 166.8h0M154.4 165.3h0M159.3 146.3h0M179.2 124.2h0M176.7 155.2h0M172.5 183.6h0M178.7 128.8h0M166.9 193.7h0M174.9 180.7h0M169.8 190.1h0M179.4 157.1h0M156.1 159.7h0M191.2 161h0M134.3 163.5h0M181.8 174.5h0M166.2 193.7h0M156.7 160.7h0M138 170.5h0M170 184.3h0M173.5 179.2h0M155.3 172.7h0M162.5 192.2h0M179.3 141.8h0M171 173h0M202.8 160.4h0M158.9 181.1h0M153.1 141.4h0M179.8 123.9h0M160.8 181.9h0M164 187.9h0M158.4 186.5h0M159 171.8h0M170.6 189.2h0M166.8 194.5h0M180.7 157.5h0M157.1 167.6h0M166.3 194.5h0M171.6 167.6h0M171.4 180.6h0M170.1 189.2h0M158.2 179.1h0M165.2 191.2h0M164.6 191.8h0M172.7 158.4h0M167 191.7h0M164.9 193.4h0M156.7 139.4h0M148.6 172.7h0M152.9 144.1h0M201.1 168.9h0M191.4 166.4h0M174.6 157.5h0M167.5 194.2h0M172.9 181.3h0M166.4 194.2h0M157.1 173.9h0M194 168h0M181.2 160.5h0M166.6 194.8h0M162.5 179h0M158 141.5h0M157.6 157.6h0M166.1 194.5h0M133.8 161.2h0M177.7 151.3h0M169 181.3h0M164.1 192.2h0M146.5 171.7h0M167.1 192.6h0M162.5 180.8h0M155.6 126.1h0M185.9 164.1h0M221.7 161.8h0M177.8 155.5h0M181.8 141.4h0M169.8 181.2h0M181.8 150.9h0M162.6 188.5h0M188.1 171.3h0M156.3 161.3h0M138.7 162.5h0M193.7 171.2h0M178.1 155.3h0M150.6 139.9h0M158.9 151h0M169 180.1h0M183.9 159.7h0M160.9 152.3h0M181.8 174.7h0M157.4 142.3h0M173.5 177.7h0M131.1 179.3h0M161.1 189.5h0M137.7 162.1h0M172.3 179.4h0M167.7 184.9h0M196.2 178h0M151.4 149.1h0M159 179.7h0M158.4 162.4h0M170.8 186.2h0M167.9 184h0M176 174.7h0M160 165.8h0M158 184.9h0M161.2 181.2h0M151.9 157.7h0M135.8 170.9h0M181.2 181.5h0M157 186.5h0M153.2 139.6h0M176.3 132.7h0M133.8 159.5h0M155.4 167.8h0M177.4 151.8h0M166.5 194.2h0M208 179.4h0M181.1 157.2h0M174.9 119h0M166.4 195h0M158.3 169.3h0M151.4 154.3h0M172.8 148.1h0M179.6 142.3h0M174.3 159.2h0M169.6 190.6h0M163.3 185.1h0M170.2 182.5h0M150.9 145.5h0M172.8 185.7h0M164.1 191.1h0M168.7 191.4h0M154.8 168.4h0M174.4 175.4h0M175.7 149.5h0M153.2 140.9h0M151.5 161.4h0M159.2 171.4h0M198.6 163.5h0M171.8 165.2h0M194.4 160.7h0M173.4 171.9h0M185.8 169h0M165.6 194h0M180.2 174.5h0M158.8 177.1h0M162.2 182.4h0M152.3 157.7h0M179 166h0M177.6 184.2h0M156.6 165.3h0M158.7 186.4h0M182.8 134.1h0M196 163.6h0M156.5 183.3h0M151.6 145.1h0M179.8 179.2h0M171.3 171.2h0M181.9 162.2h0M158.7 159.5h0M172 181h0M177.4 159.2h0M189.4 158.9h0M174.8 168.4h0M154.7 150.4h0M182.8 162.5h0M165 188.1h0M163.8 188.6h0M175.2 172.2h0M164.8 179.8h0M151.8 168.5h0M173.8 181.8h0M172.6 154.6h0M153.3 87.7h0M169.5 180h0M179.6 138.7h0M152.4 156.4h0M165.9 192.8h0M177.8 184.1h0M172.8 185.9h0M153.3 154.2h0M193.5 161.6h0M182 158.3h0M153.7 166.8h0M178.9 130.4h0M104 158.8h0M163.8 189.2h0M179.4 140.5h0M177.7 186.3h0M174.9 152.7h0M166.7 193.5h0M184.4 174.3h0M168.7 193.2h0M156.3 172.7h0M169.5 183.3h0M176.3 164.3h0M154.2 146.8h0M163.5 190.6h0M179.9 154h0M156.7 166.8h0M189.1 168.6h0M181 177.5h0M177.8 109.4h0M162.6 186.6h0M168.6 177.3h0M156.5 167.9h0M186.5 163.7h0M157.3 179.6h0M169.3 171.5h0M123.2 159.8h0M220.1 161.5h0M134.6 158.7h0M152 141.4h0M175.4 180.5h0M148.4 163.6h0M152.1 140.8h0M217.2 166.2h0M168.8 192.2h0M153.9 172.2h0M170.4 158.2h0M171 176.5h0M183.8 162.1h0M166.5 194.7h0M174.2 177.7h0M170.4 168.5h0M165.7 192.1h0M179.9 156.9h0M163.1 172.2h0M153.8 143h0M171 188.8h0M165.1 187.4h0M159 180.3h0M178.2 160.6h0M164.8 193h0M158 144.9h0M168.3 175.9h0M170.5 182.8h0M174.9 155.5h0M175.3 173.6h0M171.6 146.4h0M172.3 182.7h0M152.5 167h0M166.1 194.8h0M147.6 167.4h0M153.5 149.8h0M153.4 147.2h0M161.8 192.7h0M163.7 191.5h0M159.3 167.8h0M185.7 181.8h0M171.8 179.6h0M182.3 143.1h0M116.7 163h0M172.7 179h0M150.3 142h0M129.9 171.5h0M160.2 152.6h0M158.5 178.1h0M162.9 190.4h0M175.1 179.1h0M166.9 193.6h0M171.1 170.2h0M162.5 154.6h0M151.4 176.9h0M130.5 168.8h0M176.3 167.2h0M146.2 159.3h0M169.6 191.8h0M162.2 187.9h0M163.1 191.6h0M176.5 154.7h0M136 162.9h0M153.5 171.8h0M176.1 155.5h0M163.3 167.2h0M178.4 187.5h0M157.7 185.5h0M154.8 107.4h0M168.3 188.3h0M170.3 188.4h0M180.4 150.7h0M172.2 171.2h0M175.4 173.9h0M193 160.7h0M160.5 184.3h0M147.8 170.5h0M148.7 163.9h0M171.9 184.8h0M143.6 162.5h0M164 182.5h0M169.5 190.5h0M176.8 177.5h0M152.3 164.8h0M162.7 191.4h0M150.5 156.2h0M119.6 168.2h0M177.6 183.3h0M179.1 141h0M172.6 168.8h0M168.9 176.6h0M166 194.6h0M158.3 134.9h0M180.3 162.1h0M158.8 141.9h0M155.4 165h0M164.7 192.5h0M164 183.8h0M175 162.9h0M160.1 187.6h0M140.8 169.2h0M158.4 141.9h0M197.5 167h0M181.3 143.2h0M156.7 174.8h0M154.3 160.4h0M171.3 152.8h0M179.2 170.1h0M182.7 168.7h0M117.9 161.6h0M165 187.2h0M178.4 141.2h0M173 176.4h0M175 151.8h0M169.5 188.8h0M173.8 162.4h0M167.7 193h0M157.5 182.1h0M177.9 174.1h0M211.3 163.8h0M159.4 173.5h0M160.9 173.7h0M160.2 180.9h0M150.6 157.5h0M163.1 186.6h0M186.7 160h0M176 178.3h0M170.3 179.4h0M160.7 181.9h0M164.5 191.8h0M166.6 194.3h0M167.8 191.1h0M182.4 147h0M134.8 165.9h0M180.4 158.4h0M157.5 165.8h0M166.7 193.5h0M159.3 180.9h0M177.4 163.9h0M164.5 189h0M177.1 148.6h0M152.8 181.4h0M169.7 144.2h0M156.2 171.9h0M167.1 189.8h0M167.2 193h0M168.9 185.4h0M160.2 178.9h0M164.5 181h0M155.2 147.8h0M176.4 122h0M128.1 165.2h0M145.1 167h0M139.3 173.6h0M159 146.8h0M139.1 162.4h0M158 174.7h0M168 184.6h0M163.4 168.5h0M166.1 193.6h0M153.9 168.7h0M169.5 182.5h0M165 193.2h0M157.6 146.7h0M169.6 164.9h0M164.9 190.9h0M177.8 160.3h0M150.1 119.9h0M168.1 190.6h0M181.4 162.3h0M139.5 169.9h0M154.2 163h0M161.8 173.5h0M158 173.2h0M176 174.4h0M183.8 172.2h0M172.4 161h0M164.2 190.4h0M156.6 182h0M171.2 184.7h0M160.3 173.6h0M157.3 157h0M160.7 154h0M163.5 189.1h0M163.6 181.9h0M158.8 165.8h0M171.6 158.4h0M158.1 174.6h0M167.8 193h0M183.8 170h0M157.9 173.3h0M163.5 184.5h0M164.5 190.1h0M164.6 192.8h0M151.2 130.3h0M164.1 191.3h0M156.2 125.5h0M143.4 175.8h0M172.4 182.5h0M169.7 191.9h0M158.1 173.7h0M180.2 188.2h0M190.3 159.7h0M171.7 172.4h0M171.4 188.7h0M157.5 177h0M172.1 178h0M167.3 191.6h0M164.5 184.4h0M168.6 179.4h0M175.2 145.8h0M176.7 170.1h0M154.1 129.8h0M154 156.9h0M169.7 191.8h0M136 164.4h0M180.1 172.7h0M169.2 189.8h0M117.2 165.9h0M161.6 178.1h0M157.9 168.9h0M184.6 168.2h0M179.5 141h0M151.4 169.3h0M162 187.7h0M113.2 160.3h0M180.2 147.3h0M152 176.5h0M164.4 191.3h0M177.6 140h0M174.2 143.5h0M161.1 174.6h0M172.3 176h0M178.4 141.4h0M155 145.5h0M176.9 172.2h0M172.5 182h0M165.6 194.8h0M153.6 141.3h0M157.6 174.7h0M188.5 165.1h0M148.4 166.5h0M156 169.9h0M180.9 153.6h0M163.2 172.3h0M223.4 159.7h0M166.5 194.6h0M160.8 183.2h0M153.5 153.9h0M157.6 139.8h0M162.1 188.4h0M181 126.8h0M177.4 174h0M168.9 185h0M192.4 175.1h0M173.4 162.7h0M152.4 164.7h0M154.8 184.2h0M154.9 150h0M158.4 164.6h0M191.2 170.9h0M173.8 135h0M167.3 193h0M166.3 193.8h0M165.3 182.5h0M178.7 158.8h0M159.4 182.3h0M173 181h0M156.9 178.8h0M188.2 171.4h0M179.8 181h0M154.2 177.8h0M173.1 172.3h0M164.4 190.8h0M165.2 184.9h0M142.9 170.9h0M158.1 176.1h0M169 190h0M170.6 187.2h0M157.9 175.9h0M174.4 165.9h0M173.9 172.2h0M174.1 180.7h0M151.3 163.4h0M164.7 187.3h0M170.2 184.8h0M154.4 177h0M159.6 181.6h0M172.7 184.3h0M171.7 161.4h0M171.5 182.8h0M163.8 186.1h0M154 117.8h0M178.4 175.6h0M168.6 191.7h0M182.3 154.9h0M161.5 189.2h0M155.1 138.1h0M171.6 181.3h0M159.1 181.7h0M134.4 158.9h0M174.2 146.6h0M206 167.2h0M158.1 169h0M177.2 161h0M166.3 192.9h0M167.5 193.8h0M170.1 190.8h0M171.8 186.3h0M155.6 176.7h0M155.3 129.4h0M174 171.9h0M177.2 165.9h0M180.4 146.8h0M177.9 143.7h0M164.3 177.3h0M171 191.8h0M164 183.2h0M144.1 168.8h0M177.9 154.9h0M169.2 180.9h0M177.2 166.3h0M159.4 187.9h0M172.3 187.2h0M144.8 168.5h0M172.3 172.4h0M169.5 187.8h0M197 158.8h0M161.6 159.5h0M151.1 165.5h0M157.1 165.2h0M169.2 188.1h0M152.6 122.4h0M152.3 178.5h0M166.8 193.2h0M166.4 193.9h0M200.1 161.7h0M160.6 172.8h0M164.3 191.8h0M183.9 166.8h0M172.6 188h0M168.4 192h0M194.1 173.4h0M167.3 193.1h0M157.6 169.6h0M164.1 190.8h0M154 156.5h0M163.4 183.8h0M181.1 142.8h0M155 120.1h0M186.4 167.9h0M165.7 191.9h0M159.7 182.5h0M167.4 193.2h0M177 167.7h0M169.5 188.9h0M179.2 137.5h0M172.2 189.3h0M161.4 155.9h0M173.9 165.7h0M163.8 180.4h0M109.6 168.3h0M155.5 153.4h0M169.6 190.8h0M235.4 165.2h0M149.7 172.8h0M137.6 170.5h0M178.7 169.4h0M169.8 187.9h0M172.4 182.6h0M162.7 186.2h0M171.5 176.4h0M173.7 187.9h0M175 167.9h0M194.9 161.5h0M158.7 154.6h0M146.3 167.7h0M160.3 179.9h0M182.2 153.1h0M206.5 159.2h0M152.6 121h0M136.9 172.2h0M164.5 190h0M179.5 133.2h0M161.1 178.5h0M163.3 189.2h0M201.6 161.4h0M155 148.8h0M176.7 137.1h0M151.5 171.1h0M174.1 146.5h0M186.4 180.6h0M217.3 161.6h0M176.6 176.9h0M179 153.6h0M148.3 165.8h0M160.5 164.8h0M191.2 164.4h0M163.5 170h0M181.1 163.8h0M173.3 185.5h0M154.9 141h0M172.6 171.4h0M177.6 150.5h0M199.9 173.1h0M176.4 153.5h0M170 176.9h0M159.8 162.6h0M145.9 170.5h0M184.1 160.8h0M163.4 192.2h0M104.8 164.8h0M178.4 188h0M180.4 109.3h0M166.2 192.5h0M182 159.1h0M178.2 182.8h0M187.4 165.6h0M161.9 165.1h0M171.6 171.2h0M167.7 193.9h0M152.6 146.8h0M175.1 114.6h0M180 170.8h0M182.1 155.6h0M153.8 162.7h0M169.7 188.4h0M163.8 188.1h0M162.8 188h0M157 160.4h0M177.9 152.8h0M174.3 186.5h0M175.4 165.2h0M166.4 194.5h0M151 124.2h0M173.1 175.6h0M165.3 182.6h0M133.1 161.2h0M120.2 163h0M158.9 177.7h0M173.1 157.9h0M158.4 161.7h0M172.8 183.3h0M152.1 140.6h0M162.3 153.6h0M154.5 138h0M178 166.4h0M166.8 192.7h0M182.2 134.5h0M126.3 164.6h0M165.9 192.9h0M158.2 177.4h0M162.3 188.9h0M172.2 183.9h0M170.4 189.5h0M154.2 148.3h0M165.2 193.7h0M158.1 169.4h0M160 175h0M144.8 170.9h0M183.7 164h0M168.1 191h0M155.8 147.1h0M163.9 187.6h0M164.7 191.4h0M152 161.6h0M141.9 165.7h0M170.5 185.1h0M149.1 162.9h0M167.5 193.4h0M174.4 181h0M181.3 168.4h0M156.5 172.6h0M168.1 180.9h0M178.9 150.3h0M166.8 192.6h0M172.1 180.3h0M134.1 162.2h0M177.8 162h0M179.1 149.9h0M174.5 189.1h0M162.8 170.8h0M174.1 180.8h0M168.7 190.4h0M152.7 147.4h0M182.4 175.1h0M184.3 159.7h0M151.3 147.4h0M169.3 167.8h0M153.6 156.1h0M165.5 193.3h0M179.3 170.9h0M171.3 159.8h0M188.5 161h0M173.5 153.7h0M148.9 170.4h0M152 178h0M174.6 150h0M144.4 160.4h0M181.8 124h0M163.9 191.5h0M160.1 184.1h0M175.8 170h0M174.5 177.4h0M176.5 167.8h0M157.8 147.9h0M126.9 166h0M171.6 170.2h0M171.5 185.7h0M165.9 192.5h0M108.3 159.3h0M164.2 186.6h0M148.5 169h0M161.2 151.5h0M162.5 192.9h0M164 184.3h0M174.6 162.2h0M167.1 193.5h0M174.5 178.8h0M150.8 154.2h0M157.9 182.9h0M178.1 142h0M169.7 185.2h0M164.7 188.4h0M142 162.4h0M162.2 187.3h0M159.1 163.4h0M166.7 193.7h0M169.6 174.5h0M156.7 176.4h0M170.8 164.8h0M170.4 176.1h0M156.2 149.4h0M169.6 191.7h0M182.8 135.8h0M182.8 174.3h0M160.4 162.9h0M171.5 187.7h0M161.4 180.1h0M154.2 163.2h0M150 127.2h0M179 167.9h0M135.7 158.7h0M131.9 166.4h0M165.3 188h0M149.9 170.2h0M177.5 172.4h0M165.7 193.3h0M160.8 180.6h0M179.2 147.8h0M185.5 159.1h0M180.6 163.4h0M180 175.8h0M174.9 152.1h0M156.8 132.1h0M151.5 184.6h0M159.8 181.6h0M153 150.5h0M172.5 188.6h0M177.5 158.5h0M164.3 192.2h0M156.2 157.9h0M161.3 189.6h0M146.9 169.3h0M155.8 144.9h0M159.7 127.5h0M158.4 161.8h0M170 191h0M178.2 173.3h0M147.1 159h0M154.9 160.6h0M167.5 192h0M169.3 190.9h0M155.4 183.6h0M143.5 162.6h0M160.8 177.2h0M129.6 169.6h0M226.5 168.3h0M198 169h0M154.7 159.8h0M165.6 193.9h0M165.6 187.8h0M181.2 171h0M151.8 175.5h0M156 135.4h0M172.6 154.6h0M174 153.6h0M171.2 184.3h0M213.4 167.1h0M158.2 167.5h0M180.4 124.7h0M172.9 161h0M162 184.1h0M165.9 194.6h0M163.2 186.6h0M147.6 164.5h0M201.1 160.3h0M163.2 191.5h0M158.5 167.4h0M156.2 168.8h0M160.4 188h0M178.4 168h0M172.2 178.3h0M148.8 164.5h0M159.2 182.2h0M127.8 167h0M150.3 165.8h0M144.4 168.7h0M153.8 168.1h0M160 177.4h0M181.2 150.1h0M163.6 186.3h0M166.1 194.3h0M223.9 163.5h0M153.3 135.9h0M196.4 169.9h0M173 161.3h0M177.2 156.1h0M167.4 192.3h0M162.2 175.8h0M152.7 162.6h0M154.5 149.3h0M146.8 180.2h0M165.5 192.6h0M149 166.5h0M155.9 182.3h0M139.2 158.8h0M161.2 186.5h0M167.2 193.1h0M162.7 184.7h0M146.4 160.5h0M181.2 170.5h0M165.1 193.3h0M170.4 179.7h0M152.9 170h0M150.5 149.3h0M176.4 159.7h0M175.1 162.2h0M229.4 174.7h0M177.3 151.6h0M158.5 180.9h0M151.3 146.4h0M197.3 159h0M137.6 161.5h0M155.2 141.9h0M170 163.2h0M165 182.6h0M155.5 164.2h0M173 174.5h0M165.6 193.4h0M164 183.3h0M160.1 180.1h0M172.8 167.1h0M158.3 161.2h0M167.2 191h0M169.8 185.7h0M167.2 193.2h0M167.6 182.5h0M169.1 188.2h0M173 186.4h0M179.3 142.4h0M161.8 176.1h0M177.4 167.8h0M140.5 167.8h0M171.1 183.3h0M160 178.4h0M145.9 177.6h0M155.4 141.3h0M141.1 168.7h0M174 127.2h0M176 153.5h0M180.1 177.3h0M150 131.3h0M174.4 174.9h0M162.2 186.1h0M171.5 170h0M171 184h0M170.5 180h0M129.3 169.4h0M180.7 111.6h0M139.9 169.6h0M177.3 168.1h0M164.9 185.3h0M177 116h0M168.9 194.7h0M211.1 166.7h0M165 193.5h0M172.3 164.9h0M153.3 169h0M173 174.2h0M161.1 171.2h0M178.4 121.5h0M188.4 175.6h0M167.7 192.9h0M173.5 151.5h0M176.2 177.2h0M202.4 170.6h0M197.1 173.4h0M181.8 168.3h0M170.8 178.7h0M156.2 173.4h0M172 186.9h0M172.1 159.9h0M182.5 166.1h0M141.1 173h0M161.8 186.4h0M170.6 169.5h0M157.8 175.9h0M167.3 192.6h0M171.4 163.8h0M154.9 129.9h0M174 157.2h0M153.3 171.1h0M159.5 180.4h0M159.4 158h0M165.9 194.4h0M168.5 181h0M164.6 190.6h0M179 162.8h0M181 164.4h0M158.8 160.8h0M147 164.5h0M150.8 158.3h0M169.5 189.7h0M156.2 137.8h0M164.3 191.9h0M180 143.4h0M180.2 161.9h0M104.2 158.8h0M193.9 164.5h0M163.1 187.3h0M167.3 191.5h0M164.7 189.5h0M182.1 153.9h0M158.1 177.4h0M167.2 193.4h0M167 189.6h0M188 164.3h0M152.6 147.3h0M150.3 149.5h0M163.1 183.8h0M161.1 167.5h0M171.3 190.7h0M114.6 176.1h0M176.2 172h0M157.1 166.6h0M158.7 150.6h0M171.8 183.6h0M155.6 144.4h0M160.1 166.9h0M164.1 189.7h0M162.5 179.7h0M159.5 162.5h0M157.4 187.3h0M158.6 189.1h0M145.6 163.6h0M166.7 193.4h0M196.1 163h0M135.3 167.8h0M196 171.3h0M164.8 192.9h0M181.7 131.7h0M127.7 172.4h0M200.9 163.1h0M165.5 193.4h0M165.6 191.8h0M150.4 159.1h0M151.4 153.7h0M142.1 164.5h0M190.4 180.6h0M187.3 160h0M163.3 191.3h0M154.8 155.7h0M159 169.6h0M150.5 147.1h0M176.7 171h0M163.7 185.6h0M166.8 193.8h0M153.4 182.8h0M165.3 193.3h0M156.8 167.6h0M205 175.8h0M169.2 163.9h0M158.5 185.4h0M168.3 188.7h0M191.7 170h0M150.4 137.1h0M177.1 151.3h0M159 181.3h0M165.3 193h0M185.5 170.9h0M182.9 137.3h0M169.8 191.4h0M178.2 150.7h0M165.8 194.6h0M219.3 172.7h0M156.1 179.3h0M167.3 193.4h0M180.1 167.5h0M168.3 193.4h0M208.1 159.7h0M154.9 133.9h0M172.5 183.1h0M142.5 159.5h0M156.8 143h0M160.9 186.8h0M151.7 154.5h0M160.5 171.2h0M151.5 126.1h0M152.2 141.2h0M185.9 169.4h0M165.2 191.2h0M160.5 186.7h0M140.7 164.1h0M194 168.7h0M149.8 172.2h0M179.9 111.8h0M176.4 151h0M157.4 186.9h0M168.3 191.7h0M156.8 151.5h0M170.6 185.9h0M155.3 161.4h0M168.9 185.7h0M116.3 178.6h0M157.9 174.2h0M165.8 194.2h0M165.9 191.8h0M157.5 174.1h0M183.4 177h0M176 176.3h0M175.3 165.9h0M161.8 185.5h0M163.8 187.1h0M177 133.6h0M144.1 161.4h0M169.8 157h0M166 193.5h0M160.6 164.5h0M169.1 176.6h0M176.5 136.6h0M238.8 164.5h0M175.3 131.5h0M174.1 183.8h0M153.3 171.8h0M170.1 185.4h0M152.3 105.2h0M160.9 175.4h0M153.8 114.6h0M165.1 184.1h0M170.2 172.7h0M145 170.5h0M159.2 164.5h0M155.5 160.9h0M175.3 178h0M139.5 172h0M168.5 189.3h0M151.6 166.7h0M162.8 181.1h0M139.3 173.1h0M154.6 177.6h0M171.2 171.8h0M180.3 174.1h0M145.7 161.1h0M173.5 169.9h0M159.8 181.9h0M165.8 194.6h0M162.7 187.4h0M190.3 159.1h0M155.7 145.3h0M157.5 175.5h0M159.4 164.1h0M142.6 165.9h0M174.5 148h0M206.2 159.1h0M188.9 172.2h0M161 186.6h0M134.1 174.2h0M169.6 175.5h0M159.8 173h0M155.5 142.3h0M161.7 177.7h0M151.8 145.8h0M171.3 184.3h0M170.8 183.5h0M154 181.8h0M182.4 154h0M149.6 168.4h0M178.6 126.8h0M172.3 180.9h0M159.8 178.9h0M185.2 159.5h0M195.2 178.2h0M152.5 179.8h0M160.6 156.9h0M170.6 186.6h0M168.6 190.9h0M166.7 194.3h0M159.5 158.7h0M163.2 171.5h0M186.1 161.4h0M164.4 192.8h0M148.6 161.9h0M176.2 179.1h0M172.6 186.4h0M175.9 183.6h0M158.2 134.2h0M172.8 167.8h0M161.9 149.8h0M163.1 182.5h0M156.5 174.4h0M178 177.5h0M168.8 180h0M170.3 153.8h0M182.3 148.3h0M170.8 184.7h0M175 150.6h0M165 191.8h0M157.2 148.8h0M159 183.7h0M160.2 186.6h0M142.8 171.5h0M154.4 134.2h0M150 130.5h0M162.4 190.9h0M180.3 156.9h0M154.6 153h0M150.7 125.9h0M163.2 186.6h0M175.8 156.6h0M179.2 179.4h0M170.3 190.5h0M170.4 186h0M162.9 189.7h0M178.9 137.2h0M164.7 192.4h0M158.3 127.7h0M158.3 173.2h0M159 151.8h0M200.3 170.3h0M176.1 174.5h0M169.2 180.4h0M147.1 172h0M160.5 172.9h0M176.5 174.4h0M153.5 147.8h0M151 131.3h0M168.8 194h0M168.7 191.9h0M171.8 172.4h0M158.5 182.7h0M155.7 152.1h0M180.5 173.2h0M173.1 183.4h0M154.2 174.7h0M175.9 179.5h0M180.4 177h0M161.8 190.3h0M180.3 138.4h0M189.6 168.4h0M167.7 193.4h0M187.5 182h0M176.7 152.9h0M160.6 162.9h0M195.8 167.1h0M176.7 137.5h0M114.8 160.9h0M166.9 192.6h0M191.6 172h0M150.9 146.4h0M178.4 174.8h0M180.6 139.8h0M146.3 163h0M169.3 187.1h0M190.6 167.2h0M166.6 194.9h0M111.6 174.6h0M166.1 194.9h0M158.5 123.7h0M126.1 168.4h0M171 185h0M173.4 189.2h0M122.7 164.7h0M180.8 144.7h0M195.9 172.4h0M148.2 160.4h0M165.1 189.1h0M158.6 182.5h0M194.6 177.3h0M166 194.1h0M153.8 180.6h0M153.7 154.4h0M158.7 156.8h0M158.5 156.5h0M133.2 167.1h0M164.2 190.9h0M150.3 149.3h0M177.1 168.6h0M158.7 179.6h0M171.3 164.2h0M151.9 146.1h0M174.2 128.6h0M154.5 119.4h0M155 166h0M164.3 182.8h0M152.9 176.9h0M160.3 185.2h0M132.2 169.7h0M203.1 169.8h0M185 163.8h0M183.2 177.4h0M187.4 169.9h0M183.2 161.7h0M188.1 163.7h0M198.9 165.6h0M189.3 160.9h0M185.3 164.3h0M189.8 168h0M187.1 168.2h0M186.5 164.4h0M188.9 167.3h0M185.9 160.8h0M187 168.8h0M183.9 159.7h0M190.7 166.4h0M187.8 167.2h0M191.6 159.9h0M189.3 173.5h0M186.3 159.9h0M183.2 160.5h0M183.7 173.6h0M184.8 163.1h0M183.6 165.5h0M188.8 166.3h0M184 182.7h0M185.6 161.1h0M184.5 160.2h0M184.3 165.7h0M187.7 161.6h0M197.3 166h0M183.8 159.7h0M192.9 170.8h0M188.7 161.5h0M186.3 165.5h0M199.8 169.8h0M186.9 159.8h0M189.4 173.5h0M184 169.5h0M184.9 165.6h0M189 161.3h0M195.6 163.3h0M190.1 165.5h0M183.2 160.9h0M183.5 161.8h0M120.6 161.7h0M145.6 167.7h0M141.5 162h0M131.9 162.6h0M121.9 167.9h0M146.5 171h0M144.6 168.3h0M136.9 160.1h0M144.9 161.3h0M138.9 168.3h0M143.5 158.6h0M137.3 160.2h0M150.2 52.5h0M150.8 61.7h0M153.3 76.3h0M157.6 82.4h0M155.1 89.7h0M159.6 101.2h0M174.8 100.1h0M180.8 94.2h0M179.4 85.8h0" stroke="#000" stroke-width="0.95" stroke-linecap="round" fill="none"/>
<path d="M144.5 127h0M138.6 122.9h0M134.6 138.2h0M148.6 146.5h0M139.7 153.3h0M128.4 138.5h0M140 157.6h0M120.8 145.6h0M142.7 139.1h0M145.5 136.4h0M127.3 151.9h0M142.4 157.4h0M136.5 122.5h0M132.6 153h0M125.9 151h0M139.6 138.7h0M145 128.1h0M142.6 99.3h0M126.2 121.6h0M148.1 157.4h0M126.8 138.4h0M121.4 136.1h0M143.2 150.7h0M145.5 144h0M143.2 105.5h0M149.8 147.7h0M117.5 132.5h0M142.1 123.8h0M147.4 118.6h0M129.2 158.2h0M143.8 157.3h0M145.4 141.6h0M137.8 158.6h0M137.9 155.6h0M146.6 145.6h0M142.9 157.6h0M146.6 146.8h0M138.2 134.4h0M139 129.7h0M145.8 143.7h0M138.9 152.6h0M119.8 149.3h0M147.2 158.5h0M145.4 142.9h0M142.2 147.4h0M147.3 137.5h0M128.9 140.7h0M143 144h0M147.5 118.2h0M134 158.4h0M143.2 150.4h0M141.5 154.6h0M147.1 122.7h0M145.7 147.4h0M146.1 144.9h0M133.8 131.1h0M136.1 113.3h0M147.4 134.1h0M141.6 149.9h0M148.9 137.8h0M147.4 118.9h0M143.2 147.6h0M138.4 144.6h0M137.2 115.1h0M145.7 148.9h0M134.7 156.7h0M137.2 157.1h0M144.2 156.9h0M139.5 153.9h0M146.6 141.5h0M145.5 113.6h0M142.7 146.4h0M147.4 144.2h0M143.1 150.3h0M140.5 150.1h0M146.4 121.6h0M137.8 125.1h0M147.7 130.2h0M144.5 121.5h0M149.7 153.7h0M127.7 154.7h0M140.2 143.5h0M102.5 145.9h0M144.2 147.9h0M109.6 153.1h0M148.6 133.4h0M139.9 133.6h0M134.8 142.2h0M149.7 135.1h0M114.8 138.5h0M148.5 146.5h0M148.8 121.3h0M135.5 142.8h0M141.5 151.3h0M138.5 143.4h0M143 134.7h0M145.4 126.6h0M99.3 151.7h0M126 157.6h0M137.6 133.5h0M144.3 153.8h0M115.2 151.8h0M125.3 142.5h0M128.7 158h0M149.5 156.1h0M137 149.4h0M138.7 138.3h0M124.2 127.7h0M133.1 147.5h0M143.5 124.6h0M118.9 131.3h0M137.3 131.1h0M139.6 136.9h0M126.4 146.3h0M148.2 146.6h0M139.6 141.5h0M141 138.1h0M134.2 136.7h0M145.6 145.8h0M148.1 134.9h0M131 115.9h0M139.7 141.8h0M130.2 129.5h0M129.4 150.7h0M145.5 152.1h0M146.4 152.1h0M135.2 135.2h0M144.9 157.8h0M142.1 139.8h0M145 150.2h0M137.5 146.8h0M134.6 126.8h0M148.6 132h0M142.4 124.8h0M148.4 138.4h0M138.7 125.8h0M137.4 145.4h0M142.4 146.8h0M149.3 152.6h0M123.7 154h0M130.8 136.6h0M149.6 140.2h0M147.2 134.9h0M140.1 137.6h0M114.2 136.8h0M149.7 130.4h0M140.6 145.6h0M142.2 144.9h0M124.2 156.6h0M142.8 148.2h0M148.9 151.1h0M124.5 151.3h0M146.3 152.2h0M148 140.7h0M145.7 156.6h0M149.2 157.1h0M138.5 152.1h0M120.8 151.2h0M146.6 154.9h0M130.4 157.8h0M138.6 155.3h0M120.6 127.5h0M125.8 158.5h0M140.5 150.5h0M131.8 149h0M146.3 109.7h0M141.8 132.9h0M147.2 152.9h0M143.1 146.3h0M135.3 148.5h0M124 136h0M145.8 143.2h0M125.2 130h0M147.5 143.8h0M145.9 157.9h0M111.8 132.4h0M112.1 158.3h0M144.2 146.5h0M135.2 136.4h0M145.6 137.6h0M147.2 150.1h0M136.6 152.2h0M149.4 123.7h0M149.6 122.7h0M149.7 128.5h0M148.7 150.6h0M149.9 151.6h0M122.4 140h0M110.5 149.4h0M137 147.1h0M134.8 151h0M141.4 147.5h0M143.6 112.2h0M144 155.3h0M131.5 141.7h0M138.2 120.3h0M141.1 138h0M146.5 136.2h0M144.6 120.7h0M137.8 158.5h0M143.2 145.3h0M143.5 149.6h0M130 146.5h0M119.6 145.4h0M123.5 147.9h0M134.1 154h0M134.6 150.1h0M147.7 148.2h0M146.2 154.9h0M144.6 144.6h0M136 156.4h0M149.7 150.4h0M143.3 136.5h0M148.3 139.2h0M147.4 130.6h0M134.7 142.5h0M147.5 146.6h0M149.5 117h0M146.8 147.8h0M140.5 135.3h0M139.6 150.2h0M148.2 146.6h0M146.8 158.5h0M140.7 121.2h0M147 145.7h0M132.7 154.9h0M106.5 146.6h0M124.7 144.6h0M148.2 139.4h0M149.8 155.8h0M149.9 119.7h0M147.3 157.9h0M149.7 152.6h0M142.2 155.8h0M142.3 138.1h0M136.5 134.4h0M145.2 154h0M138.1 139.2h0M119.3 132.2h0M145 146.5h0M133.4 151.9h0M111.3 151.4h0M147.4 139.9h0M124.1 154.7h0M142.2 146.4h0M148.8 134.9h0M143.9 147.3h0M143.8 154.6h0M141.7 145.7h0M143.5 132.3h0M146.3 132.3h0M131 136.5h0M145.4 120.8h0M148.1 135.7h0M138.6 136.8h0M136 151.3h0M144.5 147.4h0M135 145.8h0M147.8 155.8h0M132.1 115.4h0M138.9 122.7h0M138.1 148.3h0M145.5 149.4h0M144.4 136.9h0M135.1 137.8h0M119.7 145.9h0M142.8 136.7h0M141.9 146.6h0M141.1 130.4h0M133.3 150.5h0M146.7 145h0M136.8 154.9h0M141.8 148h0M142.7 155.5h0M148.4 142.4h0M147.1 135.6h0M146.4 131.6h0M140 149.4h0M145.6 155.5h0M143.5 140h0M134.4 135.9h0M143.8 124.4h0M148.4 143.6h0M149.4 134.4h0M149.2 141.4h0M149.4 123.3h0M134.8 153.8h0M139.1 156.1h0M148 155.5h0M130.2 157.3h0M131.2 133.6h0M145.2 124.2h0M145.6 123h0M140.5 153.1h0M139.9 152.7h0M142.4 135.8h0M144.9 135.6h0M145.6 141.6h0M144.3 158.2h0M132.7 128.7h0M123.2 146.3h0M143.4 156.9h0M131.5 119.9h0M145.8 124h0M149 139.9h0M139.7 142.8h0M146.4 144.5h0M118.3 137.6h0M134 136.7h0M127.4 130.9h0M87.9 135.3h0M147.2 116.3h0M132.5 157.1h0M137.8 139.4h0M137.9 153.4h0M118.2 150.3h0M149.4 152.4h0M115.9 140.7h0M148.3 152.4h0M136 157.2h0M147.1 121.5h0M147.5 139.3h0M147.4 149.7h0M145.9 148.8h0M131.6 141.8h0M140.9 156.3h0M147 156.5h0M149.1 142.5h0M129.6 151.1h0M146.6 127.9h0M140.5 148.7h0M137.4 156.5h0M148.7 156.6h0M145.4 143h0M142 151.3h0M146.2 109.2h0M146.3 123.6h0M115.4 157.2h0M146.8 149.6h0M143 145.6h0M133.2 148.9h0M149.4 143.2h0M138.5 157.5h0M149.5 131.5h0M120.4 154.8h0M138.7 136.3h0M140 120.1h0M144.3 130.4h0M147.4 141.5h0M149.6 155h0M147.6 145.7h0M146.3 135h0M93.8 141.5h0M142.3 132.9h0M149.7 138.3h0M121.4 153.9h0M136.9 142.2h0M144.6 136.1h0M129.2 132.2h0M117.5 156.1h0M149.1 151.5h0M135 132.9h0M148.5 152.2h0M125.1 146.8h0M145.6 138.2h0M127.2 156.1h0M148.3 156.6h0M146.3 149.3h0M114.7 152.9h0M134 150.4h0M139.5 157.1h0M131 154.2h0M144 123.1h0M124.5 148.8h0M135.2 131.8h0M148.9 145.2h0M142.9 156.7h0M148 146.7h0M144.5 141.5h0M144.9 139.3h0M143.6 145.5h0M146.7 133.2h0M146.2 157.8h0M125.2 151.5h0M136 156.2h0M121.6 157.8h0M139.7 157.6h0M148.9 147.2h0M111.3 151.4h0M140.8 120.2h0M141 152.5h0M136.4 112.6h0M142 144.5h0M145 138.8h0M147 150.3h0M149.6 152.4h0M143.8 148.7h0M125.9 156.4h0M139.3 124h0M131.8 137.4h0M122 151.6h0M144.5 124.7h0M103.8 158h0M134 154.6h0M147.3 147.9h0M147.8 148.8h0M133.7 132.9h0M147 141.1h0M138.4 149.5h0M141.2 158.2h0M140.3 158.6h0M145.5 145.2h0M142.7 150.7h0M149.1 146.1h0M148.9 115.4h0M132.2 145.4h0M148.1 149.7h0M134.7 156.3h0M147.5 150.1h0M139.9 143.1h0M140.3 111.5h0M140.8 128.2h0M144.1 125.3h0M136.5 144.6h0M133.9 144.7h0M116.3 144h0M146.9 152h0M149.5 137.7h0M133 152.7h0M148.8 154.1h0M136.5 130.7h0M140.8 143.4h0M125.1 131.9h0M148.1 155.4h0M129.4 145.7h0M141 154.1h0M101.4 155.8h0M148.4 123.2h0M148.3 149.5h0M146.9 141.7h0M116.3 153.3h0M145.3 153.5h0M148.2 153.9h0M124.4 135.2h0M143.5 138.4h0M139.3 133.4h0M148.5 129.7h0M141 152.4h0M146.9 131.8h0M147.2 118.9h0M133.9 150.1h0M149.4 151.2h0M137.4 148.2h0M142 136.4h0M139.2 154.2h0M134.5 142.2h0M140.6 156.9h0M142.2 136h0M138.2 155.3h0M138.2 148.3h0M137.2 150h0M140.6 136.9h0M132.3 142.6h0M113.2 143.8h0M125 156.3h0M113.8 148.5h0M118.2 156.2h0M149.1 132.6h0M140.1 121.3h0M139 153.5h0M142.1 146.1h0M148.3 157.3h0M132.3 128.5h0M143 142.1h0M106 150.1h0M148.2 134.4h0M135.7 148h0M145.9 125.1h0M142.1 130.6h0M142.2 135h0M134.2 153.7h0M143 149.1h0M149.4 138.8h0M144.1 138.2h0M145.1 133.9h0M118.7 158.4h0M149.1 136.2h0M137.9 134.3h0M136.5 128.7h0M130.3 141.9h0M132 136.9h0M122.3 140.3h0M148.1 122.2h0M147.8 137.9h0M143.8 156.3h0M125.4 142.2h0M147.1 124.7h0M146.6 113h0M110.4 153.4h0M146.3 144.8h0M135.5 145.3h0M145.1 148.9h0M149 133.5h0M145.5 156.8h0M137.5 124.4h0M147 141.9h0M129.3 157.7h0M122.3 156.2h0M148.3 152.8h0M147.6 153.3h0M137.5 152.5h0M140.6 137.8h0M149.3 156.8h0M129.9 147.7h0M140.8 138.6h0M141.8 136.3h0M131.1 149.2h0M126 138h0M122.8 136.6h0M141.2 153.5h0M137.4 146.7h0M149.5 150.6h0M146.8 152.5h0M149.7 138h0M138.8 130.2h0M144.3 147.4h0M141.9 146.5h0M131.7 152.1h0M142.6 117.3h0M110.1 155.3h0M129.2 153.8h0M146.7 156.9h0M145.8 151.1h0M113.9 153.8h0M145.2 129.7h0M139.3 151.7h0M141 136.5h0M146.1 129.4h0M135.3 150.6h0M142.7 140.7h0M141 156.9h0M141.2 142.3h0M148.2 138.7h0M139 152.4h0M145.5 142.7h0M143.7 140.1h0M138 140.1h0M143.4 157.4h0M141.7 142.9h0M136.2 147.6h0M122 137.8h0M134.7 150.6h0M142.1 143.8h0M118.9 142.7h0M145.9 141.8h0M148.4 150.7h0M142.9 140.5h0M142.3 119.7h0M138.4 141h0M130.2 149.8h0M147.8 149.8h0M139.9 126.2h0M142 141.3h0M128.6 146.7h0M147.9 150.5h0M145.9 148.8h0M144.4 153h0M138.8 155.4h0M141.2 145h0M144.4 122.1h0M146.4 140.7h0M143.7 151.4h0M132.9 157.2h0M142.5 156.5h0M149.3 153.1h0M146 121.3h0M146.9 141.5h0M137.9 153.8h0M100.1 142.2h0M136.7 126.1h0M122.1 146.5h0M115 154.7h0M147.8 140h0M140.1 147.3h0M130.3 152.7h0M142 157.2h0M112 158.4h0M132.6 154.9h0M139.6 151.8h0M138.5 146h0M142.7 132.9h0M149.9 148.9h0M136.9 145.5h0M119.3 147.4h0M147.4 123.3h0M144.8 153.9h0M146.7 148.6h0M148.6 153.8h0M136 131.4h0M131.3 153.7h0M120.1 154.8h0M128.5 145.9h0M113.5 144.2h0M149.7 138.9h0M122.8 149.2h0M115.9 144.5h0M140.5 113.3h0M149.6 134.7h0M149.7 150.9h0M143.2 129.2h0M137.7 148h0M131.7 151.4h0M147.2 153.8h0M140.3 138h0M136 157.7h0M142.6 136.3h0M146.6 131.1h0M143.6 148.1h0M103.7 155.9h0M149.7 147.3h0M136.2 149h0M142.7 142.1h0M148.3 145.4h0M118.8 130.1h0M141.4 116.7h0M144.5 154.1h0M148.7 154h0M145.3 133.4h0M147 132.6h0M138.1 151.1h0M120.4 136h0M122.2 152.7h0M140.3 153.8h0M132 152.1h0M125.7 149.1h0M145.1 147.5h0M140.1 151.8h0M130.8 157.6h0M144.6 150.2h0M137.5 152.4h0M123.8 140.4h0M128.7 132.4h0M140.3 140.4h0M124 141.5h0M140.9 142.1h0M117.1 145.8h0M131.1 156.4h0M131.5 128.1h0M133.8 156.1h0M146.8 127.4h0M149.2 135.6h0M122.4 158h0M125.5 153.2h0M140.4 156.4h0M143.8 144.3h0M123.4 148.1h0M145.9 156.5h0M134.2 155.1h0M136.7 137.2h0M143.5 132.9h0M145.3 130.2h0M137.5 133.8h0M128.6 145.5h0M141.6 145.8h0M149.3 144.9h0M90.7 147.9h0M136.9 157h0M138.7 149h0M136.4 154.8h0M128.6 144.8h0M143.4 126h0M145.2 134.9h0M140.1 154h0M135.5 140.5h0M147.2 137.5h0M137.6 137.9h0M146.4 108.9h0M142.4 126.1h0M138.1 146.8h0M145.3 154.3h0M149.6 125.3h0M149.7 138.1h0M142.5 152.5h0M130.2 133.1h0M145 117.5h0M145.2 109.3h0M146.7 129.2h0M145.6 113.4h0M149.1 157.5h0M142.4 107.5h0M136.9 117.5h0M144.3 128.7h0M133.6 152.8h0M139.9 143.6h0M141.2 129.9h0M142.7 141.4h0M149.5 117.2h0M145.5 148.2h0M148.1 130.6h0M145.5 117.1h0M149.1 109.9h0M136.9 139.2h0M147.7 137.9h0M145.7 127.5h0M146.9 141.7h0M146.9 155.2h0M143.4 148.8h0M137.6 118.6h0M136.6 134.6h0M129.1 153.8h0M145.7 140.4h0M137 141.2h0M145.7 124.2h0M142.3 157h0M140.1 126.1h0M146.5 132.9h0M144.8 109.4h0M145.9 158.3h0M148.2 125.9h0M136.8 114.9h0M140.3 136.3h0M136.8 108.2h0M137.5 149.7h0M139.6 137.1h0M133.5 137.4h0M148.6 124.6h0M142.3 134h0M137.1 129.2h0M148.6 133.5h0M148.2 107.9h0M140 153.5h0M145.5 144h0M122.6 136.5h0M144.1 152h0M126.8 152.7h0M140.2 122.3h0M142.4 144.8h0M136.3 142.5h0M127.9 133.2h0M135.8 144.6h0M117.1 132.5h0M132.7 134.5h0M134.6 118.2h0M141.7 147.2h0M126.5 136.2h0M140.7 157.3h0M138.4 136.1h0M149 126.6h0M131.8 137h0M144.8 146.5h0M141.6 142.4h0M143.1 126.2h0M138.5 121.4h0M149.6 127.4h0M125.5 141h0M134.5 115h0M147 151.2h0M133.9 126.6h0M124.1 151.2h0M148.4 157.7h0M147.7 150.7h0M131.1 139.4h0M142.3 156.3h0M138.9 144.5h0M143.9 132.1h0M146.4 113.3h0M136.5 153.9h0M146.8 145.8h0M138.2 128.8h0M141.8 139.2h0M135.2 158.3h0M148.7 145.7h0M137.4 147.6h0M139.5 130.1h0M147.1 114.6h0M146.4 124h0M142.2 127.1h0M148.1 133.8h0M147.7 126.9h0M134 155.1h0M148.7 144.6h0M146 127.8h0M130.8 131.5h0M146.4 136.7h0M144.8 138.7h0M131.6 157.4h0M149 125.5h0M114.4 69h0M93.5 83h0M103 84.1h0M113.3 84.1h0M131 88.9h0M93.5 96.4h0M106.1 97h0M98.1 101.8h0M117 100.6h0M123.3 97.8h0M82.9 107.4h0" stroke="#7db0da" stroke-width="0.95" stroke-linecap="round" fill="none"/>
<path d="M194.8 140.8h0M190.6 119.2h0M190 151.3h0M205.8 150.9h0M188.5 154.7h0M205.3 155.4h0M221.1 156.9h0M183.8 132.1h0M211 157.9h0M203.3 137.4h0M187.1 148.8h0M184.3 143.6h0M216.7 132.5h0M185.2 118.6h0M194.1 155.5h0M187 141.9h0M202.4 142.6h0M196.4 143.9h0M198.2 115.8h0M194.9 148.5h0M187.8 151.6h0M189.7 152.1h0M199.4 143.9h0M194.4 154.3h0M190.6 150h0M183.8 140h0M196.1 147.1h0M206.3 142.4h0M202 106h0M191.7 155.1h0M194.8 131.8h0M201.5 148.1h0M189.6 132.1h0M194.9 142.7h0M241 137.4h0M210 149.3h0M184.6 122.4h0M198 146.9h0M210.8 149.6h0M186.7 110.6h0M186.3 119.9h0M192.2 142.2h0M184.7 147.4h0M198.5 147.4h0M194.2 136.6h0M204.5 153.6h0M189.8 147.8h0M191.4 129.2h0M191.4 139.1h0M188.9 146.2h0M185.2 142.9h0M189 150.5h0M183.2 144.1h0M183.5 115.2h0M191.6 142.5h0M201.5 149.9h0M191.2 157.5h0M192 144.8h0M189.4 155.1h0M195 128.2h0M189.9 155h0M195.2 129.6h0M204.9 155.6h0M186 150.6h0M205.4 132.3h0M189.7 130.4h0M187.2 147h0M187.5 140h0M187 121.1h0M185.1 153.8h0M185.2 120.3h0M191.1 153h0M191.8 137.3h0M185.2 156.4h0M186.6 145.5h0M187.4 157.4h0M186.1 148.7h0M184.6 143.5h0M208 134.6h0M190.3 128.4h0M183.3 147.5h0M186.3 117.4h0M187.7 143.4h0M226.6 150.1h0M192 153.8h0M186.2 126.8h0M196.4 158.1h0M187 147.6h0M199.6 147h0M184.4 143.8h0M191.2 134.6h0M190.3 143.8h0M185.6 152h0M198.6 146.3h0M184 150.7h0M191.7 156h0M184.1 128.6h0M201.2 154.7h0M186.2 154.4h0M186.4 147.8h0M198.7 151.6h0M196.8 126.3h0M211.1 143.3h0M185.7 157.6h0M189.7 148.7h0M202.4 151.9h0M194.1 143.2h0M192 138.2h0M201.2 140.6h0M193.7 144.5h0M195.9 157.3h0M200.8 141.7h0M198.9 145.5h0M188.7 153h0M184.9 136.2h0M199.6 155.3h0M185.5 152.4h0M183.8 153.7h0M191 147.8h0M192.3 153.5h0M206.2 127.1h0M183.4 149.6h0M186.5 136.3h0M192.8 150.7h0M189.2 125.9h0M190.2 154.9h0M197 152.8h0M194.9 151.6h0M183.8 144h0M185 139.8h0M185 124.2h0M198.5 127.4h0M189.5 124.3h0M189.6 141.9h0M204.5 150.5h0M203.8 152.8h0M191.9 152.7h0M200.9 144.9h0M188.2 144h0M191.3 123.7h0M191.5 138.4h0M192 156.4h0M183.5 147.6h0M186.3 158.4h0M191.3 134.5h0M184.9 143.3h0M195.9 157.2h0M186.8 147.9h0M191.1 140.4h0M189.1 157.4h0M186.3 146.4h0M183.2 147.4h0M201.5 140.8h0M199.8 156.3h0M195.9 148.2h0M198.3 145h0M186 146.3h0M189 157.8h0M194.8 132.1h0M185.5 152h0M207.4 138.3h0M190 106.3h0M196.9 133.6h0M203 129.7h0M194.2 138.1h0M195.7 148.1h0M187.2 148.7h0M188.9 153.9h0M184.6 158.4h0M187.9 154.6h0M184.3 152.9h0M199.4 136.5h0M201.2 129.5h0M225.6 154.9h0M184.5 139.7h0M199.5 128.3h0M200.6 151.4h0M211.6 156.8h0M186.2 118.7h0M187.4 149.3h0M188.7 152.6h0M196 138.4h0M195.6 125.2h0M186.2 145.7h0M188.1 157.7h0M199.4 157.4h0M187.2 122h0M199.1 146h0M187.5 145.6h0M186.9 120.4h0M202.8 144.8h0M196.1 138.4h0M201.7 155.5h0M202.9 143.9h0M201.1 153.2h0M197.4 155.7h0M192.9 142.3h0M183.5 128.4h0M202.4 153.7h0M198 145h0M204.7 132.1h0M197 139.9h0M184.4 142.2h0M187.4 152.9h0M197.7 143.4h0M195.8 153h0M183.3 157.2h0M189.3 131.2h0M186.8 152.4h0M183.9 150.9h0M193.5 149.7h0M184.4 145.1h0M191.9 135.8h0M190.9 152.1h0M187 149.2h0M185.6 128.4h0M190.9 148.2h0M193.8 133.2h0M185.7 122.3h0M189.8 151.7h0M184.8 138.9h0M188.1 147.4h0M188.6 139.5h0M193.6 140.8h0M199.8 147.7h0M191.6 157.7h0M219.1 155.9h0M192.5 125.2h0M189.4 134.3h0M187.1 131.8h0M196.6 144.8h0M186.4 130h0M201.2 138.1h0M186.3 153.1h0M187 157.6h0M188.6 153.7h0M186 153h0M227.9 156.2h0M202.5 150.5h0M187.4 155.4h0M185.2 134.9h0M218.3 154h0M187.4 157.2h0M192.8 153.3h0M186.7 151.7h0M198.4 135.9h0M183.2 149.8h0M183.2 119h0M227 138.8h0M195.7 122.2h0M184.3 118.9h0M203.9 152.4h0M191.9 148.9h0M184.9 137.6h0M193.1 125.5h0M183.2 120.2h0M208.8 149.1h0M192 131.9h0M200.5 148.2h0M205.2 151.8h0M193.2 134.8h0M190.6 139.1h0M192.5 148.6h0M187.8 155h0M224.3 146.3h0M186.8 154.6h0M184.8 120h0M185.8 128.9h0M195 144.4h0M196.7 153.3h0M198 158.5h0M191 135.2h0M197 155.5h0M220.4 144.6h0M185 137.7h0M185.6 131.1h0M190.8 138.3h0M221.3 149.5h0M183.4 122.9h0M185.7 118.5h0M189.9 147.1h0M202.6 142.8h0M200.2 156.9h0M194.1 155.9h0M185.1 137.5h0M184.9 150.4h0M199.3 138.1h0M185.6 105.9h0M196 134.1h0M201.2 142.6h0M205.9 128.5h0M188.3 135.7h0M194.1 148.3h0M189.9 134.4h0M187.6 130.3h0M195.8 148.2h0M193.3 153.9h0M188.5 132.8h0M199.9 142.7h0M186 158.6h0M193.7 140.3h0M207.1 153.7h0M190.4 144.8h0M193.5 119.7h0M199.2 143.5h0M191.1 157.6h0M184.7 157.6h0M199.5 154.5h0M193.2 154.6h0M188.9 141.2h0M185.9 154.5h0M196.4 147.4h0M187 108.4h0M196.3 129.8h0M236 146.7h0M187.6 116.1h0M185.5 151.9h0M199.7 151.3h0M188.5 135.1h0M193.8 154.1h0M190.3 110.6h0M192.1 127.2h0M196.3 143.9h0M184.5 145.3h0M191.3 134.5h0M194 152.9h0M198.9 153.7h0M200.8 129.6h0M207 114h0M189.2 128.8h0M189.9 143.3h0M188.1 130.8h0M194.8 155.1h0M197.5 145.9h0M201.6 132.7h0M186.9 128.5h0M188.7 134.9h0M183.7 155.4h0M184 147h0M207.3 154.4h0M189.3 137.5h0M187.7 155.8h0M188.1 156.7h0M196.4 156.2h0M188.6 135h0M183.9 157.2h0M187.3 139.4h0M192.3 127.8h0M200.8 155.2h0M183.8 131.5h0M185.9 136.4h0M189.3 156.2h0M185.3 148.2h0M193.3 135.8h0M188 150.2h0M199.6 132.7h0M190.5 141.6h0M196.4 154.6h0M195.2 120.8h0M186.1 112h0M183.2 129.4h0M210.9 154.1h0M203.2 150h0M189.9 136.7h0M186.4 143.4h0M204.2 141.8h0M189.3 148.4h0M184.2 142.2h0M191 122.2h0M226.2 153.2h0M211 144.4h0M185.5 154.2h0M183.3 129.5h0M185.2 152.8h0M183.9 114.6h0M192.5 150.2h0M196.4 150.2h0M195.9 157.1h0M203.4 154.9h0M189.5 158.4h0M184.3 148.1h0M189 131.5h0M189.9 103h0M206.3 137.9h0M200.3 154.4h0M187.6 146.8h0M191.9 149.7h0M198.5 145.6h0M202.8 147.9h0M192.5 146.2h0M185.8 155.5h0M188 119.1h0M193.9 154.9h0M198.5 148.6h0M185.6 156.3h0M217.8 152.8h0M188.1 154.4h0M189.5 140.6h0M194.4 111.9h0M210.1 154.7h0M183.2 157.6h0M191.9 139.8h0M190.7 130.6h0M213.7 158.3h0M206.8 152.8h0M192 154.7h0M192.5 147.7h0M188.1 133.2h0M201.5 151.9h0M183.5 138.4h0M210.6 154.1h0M188.4 122.5h0M205.4 143h0M201.6 138.7h0M192 115h0M183.7 140.1h0M196.1 151h0M191.2 156.5h0M185.4 140.1h0M185.7 151.2h0M194 149.2h0M195.4 154.4h0M190.6 129.2h0M183.5 144.9h0M190 148.6h0M184.1 146.2h0M191.2 130.8h0M209.4 150.3h0M186.4 141.2h0M188.7 154.7h0M215.1 150.3h0M211.5 143.5h0M185.1 116.3h0M194.3 145.8h0M225.2 154.6h0M185.1 120.8h0M188.4 151.2h0M186.5 113.9h0M207.2 151.6h0M185.9 144.8h0M198.8 130.1h0M196.6 156.4h0M191.7 150.9h0M226 152.2h0M220 133.9h0M198 130.3h0M200.2 140.8h0M220 155.4h0M195.1 156h0M203 138.7h0M203.4 152.3h0M209 144.1h0M206.3 131.9h0M213.9 142.1h0M183.2 110.5h0M190 149.5h0M197.1 150.4h0M187.2 140.2h0M183.7 144.9h0M190.5 157.1h0M197 153.6h0M194.5 147.8h0M185.8 153.6h0M187.2 152.1h0M203.1 146.4h0M185.8 153.5h0M184.8 154.4h0M209.9 156.4h0M211.4 152.7h0M188.7 158.2h0M205.7 154.1h0M186.7 134.6h0M189.7 157.3h0M185.5 139.9h0M191.6 142.3h0M229.4 156h0M206.6 139.5h0M204.6 153h0M184.5 124.9h0M186.9 127.9h0M223.5 150.9h0M187.6 142.6h0M186.6 156.5h0M185 144.9h0M186.5 137.1h0M193.9 156.3h0M188.3 144.3h0M200.3 125.2h0M191.9 136.7h0M185.4 125.3h0M190.9 129h0M187.4 153.5h0M189.9 128.8h0M215.4 150.8h0M190.1 141.1h0M193.3 155.9h0M210.8 139.5h0M185.1 155.9h0M202.2 143.9h0M190.3 132.9h0M210.9 143.5h0M200.5 140.5h0M188 150h0M187.3 136.5h0M207.2 145.7h0M205.7 152.2h0M199.5 139.3h0M191.1 133.5h0M188.2 158.2h0M204.4 138.9h0M190.8 144h0M189.1 142.3h0M187.8 152h0M184.3 133.8h0M185.4 132.1h0M185.7 124.5h0M205.8 135.8h0M203.8 157.4h0M184.8 140.5h0M190.3 142.8h0M194.3 146.7h0M186 147.7h0M200.3 145.3h0M189.2 118.7h0M194.2 154.4h0M217.2 149.1h0M195.6 125.9h0M203 152h0M188 152.3h0M202.3 156.5h0M189.1 158.4h0M206 150h0M188.1 157.3h0M193.1 143.1h0M265 140.9h0M184.4 137.4h0M199.9 158.1h0M191.8 148.5h0M188.7 144.4h0M189.9 155.6h0M183.2 125.1h0M189 153.3h0M189.1 156h0M193.2 156.1h0M201.2 121h0M183.8 145.6h0M188.6 158.4h0M195.5 135.3h0M206.1 130.2h0M191.9 116.5h0M198.3 152.7h0M186.2 130.9h0M188.2 144.4h0M193.9 141.2h0M197.3 152h0M193.4 152h0M191.7 156.1h0M185.5 133.4h0M187.5 149.8h0M199.1 133.8h0M186.7 132.4h0M203.9 149.7h0M184 156.7h0M185.8 135.7h0M186 147.7h0M214.1 156.8h0M185.8 136.1h0M193.5 151.4h0M199.7 132h0M194 115.9h0M189.7 149.6h0M191.3 133.9h0M194.9 138.4h0M223.4 135.4h0M184.2 154.6h0M195.2 156.3h0M185.9 138.8h0M214.9 130.7h0M184.8 152.4h0M188.5 147.8h0M187.2 150.1h0M217.4 139.9h0M196.3 157.7h0M207.7 148.5h0M187 158h0M188.1 146.2h0M185.5 121h0M191.7 148.5h0M188.4 140.5h0M190.4 133.7h0M183.8 128.5h0M191.2 139.6h0M202.3 156.9h0M184.7 108.6h0M189.5 145.2h0M194.6 152h0M218.8 153.9h0M183.7 153.3h0M187.8 147.5h0M187 146.1h0M216.7 153.3h0M183.4 150.8h0M192.8 146.7h0M202.2 126.9h0M183.2 155.1h0M185.3 144.5h0M187.3 142.1h0M190.4 148.5h0M196.4 155.6h0M183.8 132.8h0M194.6 150.3h0M207 158h0M187.1 125h0M208.2 155.6h0M189.8 146.9h0M202.8 157.3h0M186 141.4h0M202.9 142.9h0M187.6 150.8h0M188.4 150.4h0M184 152h0M191.1 113.9h0M186.3 126.8h0M198.5 156.8h0M187.9 149.8h0M193.6 149.9h0M191.3 119.3h0M183.3 139.3h0M187.6 136.4h0M197 148h0M188.6 139.4h0M187 148.2h0M183.4 150.4h0M189.4 158h0M183.7 137.4h0M183.2 146.5h0M185.9 148.9h0M188.2 138.4h0M212.9 152.2h0M186.3 133.7h0M186.9 158.6h0M186.5 147.9h0M198.1 138.6h0M184.2 110.5h0M187.1 152.5h0M197.6 155h0M185.1 139.2h0M199.5 136.4h0M197.8 132.2h0M190.2 123.5h0M192.6 142.7h0M186.8 145.8h0M199.5 155.8h0M192.9 139.1h0M192.8 137.5h0M187.3 139.6h0M201.7 155.2h0M188.1 152.2h0M187.8 129.5h0M186.4 141.5h0M207 153.8h0M197.2 156h0M197.8 144.7h0M191.3 153.5h0M186.3 119.9h0M184.4 136.7h0M193 158.5h0M190.3 150h0M198.9 134.9h0M186 136.9h0M199.5 134.9h0M191 139.7h0M192.9 138.1h0M206.9 126.9h0M224 151.7h0M187 153.9h0M193 120.7h0M203 156.3h0M189 132.9h0M185.4 128.5h0M186.9 135.9h0M196.5 156.5h0M188.4 134h0M192.1 152.4h0M194.3 150h0M188.7 153.9h0M186.7 142.7h0M189 137h0M190.3 142h0M200.3 142.3h0M186 155.1h0M188.6 120.5h0M196 156.8h0M215.2 144.7h0M188.5 155.9h0M186.4 133.9h0M192.1 150.5h0M186.3 153.2h0M196.3 140.7h0M183.6 121.1h0M189.3 152.6h0M191.2 156.9h0M203.7 120.2h0M186.8 150.6h0M194.2 146.1h0M187.1 130h0M195.9 149.4h0M202.4 158.2h0M195.4 152.1h0M184.9 149.5h0M191.1 158.6h0M190.8 156.1h0M189.7 136.5h0M189 146.4h0M202.5 157.7h0M192.9 155.5h0M184.1 149.5h0M187 139.5h0M200 152.5h0M189.4 146h0M186.6 153h0M203.6 152.7h0M185.7 140.1h0M184.7 138.6h0M186.7 143.5h0M185.2 157.2h0M187.4 127.4h0M193.6 148.3h0M184.2 153.3h0M188.2 141.7h0M186.6 129.4h0M184.6 115.7h0M191.2 157.9h0M184.1 142h0M194 108.1h0M186.7 132.6h0M188.9 143.1h0M193.5 154.2h0M186.9 156.5h0M184.2 122.1h0M186.6 126.4h0M184.1 134.5h0M185.5 139.6h0M186.8 119.4h0M190.3 114.6h0M183.2 137.7h0M183.2 154.4h0M198.3 149.5h0M189.9 114.1h0M184.9 131.7h0M185.4 140.1h0M187.9 118.2h0M190 135.3h0M191.5 118.9h0M190.8 88.5h0M190.7 152h0M199.5 138.8h0M190 132.4h0M184.8 146.5h0M187.5 152h0M187.9 148.1h0M183.9 129.4h0M183.6 141h0M185.9 140.1h0M185.2 148.6h0M191.4 137.6h0M184 111.5h0M186.3 118.3h0M188.6 153.3h0M187.3 97.7h0M187.7 145.8h0M185.8 137.9h0M191.3 149.6h0M184.5 130.3h0M190.5 135.2h0M198.6 150.8h0M186.6 137h0M187.5 143h0M188.2 152.7h0M185 138.7h0M195.1 132.8h0M186.2 116.3h0M185.6 123.9h0M188.1 127.1h0M188.5 146.4h0M184.3 151.5h0M184.6 125.5h0M193 138.4h0M184.7 129.4h0M184.1 135.9h0M184.3 149.7h0M193.2 121.5h0M186.2 109h0M191.7 155.1h0M183.9 151.3h0M197 136.4h0M190.2 138.6h0M184.7 143h0M196.4 119.3h0M193 155.2h0M191.5 140.5h0M183.2 109.3h0M185 110.9h0M189.8 143.6h0M193.8 132.6h0M192.7 144.8h0M186.7 124.3h0M186.3 147.8h0M187.9 139.1h0M191.4 119.5h0M191.8 134.5h0M187.1 133.7h0M185.2 118.3h0M185.8 156.9h0M187.3 111.2h0M187.2 153.8h0M191.3 145.3h0M194 124.5h0M195.7 121.1h0M193.9 148.6h0M194.3 129.6h0M192 115.8h0M183.2 100.7h0M185.3 125.3h0M189.1 126.6h0M188.9 126.3h0M187.4 136.6h0M186.6 141.5h0M187 136.3h0M188.5 116.9h0M189.6 150.8h0M187.9 124.4h0M185.5 139.4h0M183.1 152.4h0M189 124.6h0M188.3 130.9h0M190.2 138.8h0M184 137.3h0M187.6 153.2h0M184.9 150.5h0M186.5 157.8h0M185.9 141.9h0M188.4 132.2h0M184.7 149.2h0M196.4 119.3h0M190.6 155h0M184.7 146.9h0M191.4 138.3h0M190.9 135.9h0M187.5 110.2h0M184.1 116.1h0M185 156.3h0M193.1 124.9h0M192.6 128.5h0M183.8 138.7h0M184.5 157.6h0M191.5 132.7h0M188.2 137.1h0M188 158.1h0M185.9 123.4h0M186.7 117.5h0M193.5 118.2h0M185.2 158.5h0M186.9 144.9h0M192.2 148.9h0M190.1 132.9h0M183.3 132.4h0M192.4 132.8h0M189.2 106.4h0M187.1 129.5h0M186.4 137.8h0M185.1 138.5h0M184.7 151.5h0M183.1 146.2h0M195.5 135.7h0M190 128.7h0M186.1 150.6h0M197 145.1h0M188.2 129.3h0M187.6 132.6h0M189.7 132.8h0M188.7 122.7h0M190.9 121.9h0M199.6 146.7h0M189.9 130.4h0M184.8 121.3h0M183.4 127.1h0M185.6 128.1h0M187.9 130.6h0M187.3 153.3h0M187.4 126.3h0M190.6 132.9h0M185.3 147.3h0M188.4 141.5h0M185.4 120.3h0M183.8 138.6h0M187 109.9h0M188.4 133.2h0M190.8 149.8h0M193.1 130.3h0M187.5 136.8h0M192.9 136h0M195.1 142.7h0M183.4 123.4h0M187.2 119.9h0M194.7 155.4h0M189.1 131.8h0M189.8 121.1h0M189.3 128.2h0M184.5 134.9h0M183.3 142.2h0M191.2 143.2h0M184.3 148.4h0M187.2 145.5h0M189.7 143.3h0M183.5 142.5h0M187.4 138.4h0M185.9 114.1h0M186.8 115.6h0M191.4 122.4h0M185.3 111.7h0M188.2 144.4h0M189.9 134.4h0M190 142.4h0M184.3 115.9h0M188.3 133.4h0M186.9 131.8h0M190.7 146h0M186.7 134.6h0M190.3 131.9h0M189 127.2h0M187.3 150.1h0M187.8 132.1h0M183.4 124.5h0M183.3 136.1h0M189.5 143.7h0M200.8 128.2h0M185.7 100.3h0M192.2 136.3h0M185.1 142.4h0M186.5 133h0M185.9 127.9h0M191.5 123.7h0M185.9 127.9h0M185.8 149.5h0M188.2 150.2h0M193.8 155.4h0M187.3 138.1h0M183.3 125.1h0M187.2 152.4h0M192.3 152.7h0M189.9 125.5h0M185.9 132.8h0M192.8 126.1h0M187.1 131.8h0M188.4 113.2h0M183.8 131.1h0M190.7 146h0M188.9 152.1h0M183.5 109.1h0M184.8 137.6h0M188.8 125.8h0M184.9 139.4h0M191 137.4h0M183.2 138.2h0M196.7 131.1h0M183.6 133.6h0M184.4 97.8h0M184.6 143.6h0M186.2 140.1h0M191 149.9h0M184.9 151.2h0M192.2 136h0M198.4 146.3h0M187 122.2h0M185.5 136.7h0M187.3 152.5h0M192.5 135.4h0M186.3 108.2h0M195.1 111.9h0M185.7 145.5h0M193.2 149.6h0M187.8 133.6h0M188.3 121.8h0M197.4 119.8h0M186.2 131.2h0M184.3 136.5h0M187.1 155.3h0M186.1 135.5h0M192.2 134h0M190.5 131h0M189.6 113.7h0M190.1 137.5h0M184.8 102.3h0M183.4 158.2h0M188.5 131.9h0M183.1 122.2h0M183.2 123.4h0M188.5 134.6h0M187.1 137.3h0M190.5 147h0M193.4 152.5h0M183.8 139.5h0M186.6 152.4h0M189.1 144.4h0M189.8 157.5h0M189.6 136.7h0M184.2 66.2h0M188.3 74h0M201.4 76.8h0M202 80.2h0M190.3 88.3h0M196.6 90.8h0M216.3 89.7h0M191.4 95h0M197.4 95h0M194 99.5h0M186.5 97.8h0M190.3 107.1h0M208.3 108.2h0" stroke="#f0413c" stroke-width="0.95" stroke-linecap="round" fill="none"/>
<path d="M52 158.6H281 M149.9 27V209 M183.1 27V209" stroke="#9a9a9a" stroke-width="0.75" stroke-dasharray="1.7 1.5" fill="none"/>
<rect x="52" y="27" width="229" height="182" fill="none" stroke="#111" stroke-width="1.3"/>
<path d="M52 209v3M80.6 209v3M109.2 209v3M137.9 209v3M166.5 209v3M195.1 209v3M223.8 209v3M252.4 209v3M281 209v3M52 195h-3M52 167h-3M52 139h-3M52 111h-3M52 83h-3M52 55h-3M52 27h-3" stroke="#222" stroke-width="1" fill="none"/>
<g font-family='"Liberation Serif", serif' font-weight="bold" font-size="13.8" fill="#111"><text x="52" y="226.1" text-anchor="middle">-4</text><text x="80.6" y="226.1" text-anchor="middle">-3</text><text x="109.2" y="226.1" text-anchor="middle">-2</text><text x="137.9" y="226.1" text-anchor="middle">-1</text><text x="166.5" y="226.1" text-anchor="middle">0</text><text x="195.1" y="226.1" text-anchor="middle">1</text><text x="223.8" y="226.1" text-anchor="middle">2</text><text x="252.4" y="226.1" text-anchor="middle">3</text><text x="281" y="226.1" text-anchor="middle">4</text><text x="47" y="199.6" text-anchor="end">0</text><text x="47" y="171.6" text-anchor="end">1</text><text x="47" y="143.6" text-anchor="end">2</text><text x="47" y="115.6" text-anchor="end">3</text><text x="47" y="87.6" text-anchor="end">4</text><text x="47" y="59.6" text-anchor="end">5</text><text x="47" y="31.6" text-anchor="end">6</text></g>
<text transform="translate(114.5,249) scale(0.9,1)" font-family='"Liberation Serif", serif' font-weight="bold" font-size="15" fill="#111">log<tspan font-size="9.5" dy="3">2</tspan><tspan dy="-3">(Fold Change)</tspan></text>
<text transform="translate(27.5,167) rotate(-90)" font-family='"Liberation Serif", serif' font-weight="bold" font-size="15" fill="#111">-log<tspan font-size="10" dy="3">10</tspan><tspan dy="-3">(P-Value)</tspan></text>
<g font-family='"Liberation Serif", serif' font-weight="bold" font-size="10.6" fill="#111"><text x="302.5" y="37.6">Not</text><text x="302.5" y="51.8">Up</text><text x="302.5" y="66">Down</text></g>
<circle cx="290.8" cy="33.8" r="0.8" fill="#000"/><circle cx="290.8" cy="48" r="0.8" fill="#e33"/><circle cx="290.8" cy="62.3" r="0.8" fill="#6aa6d8"/>
<text x="16.8" y="26.3" font-family='"Liberation Serif", serif' font-weight="bold" font-size="16.5" fill="#111">A</text>
<rect x="405.8" y="43.6" width="39.4" height="165.4" fill="#f9ae69"/>
<rect x="461.6" y="164.7" width="39.4" height="44.3" fill="#f9ae69"/>
<rect x="517.4" y="183.6" width="39.4" height="25.4" fill="#f9ae69"/>
<rect x="573.2" y="190" width="39.4" height="19" fill="#f9ae69"/>
<path d="M397 29V209H621.5V29Z" fill="none" stroke="#111" stroke-width="1.3"/>
<path d="M397 209h-3.5M397 183.3h-3.5M397 157.6h-3.5M397 131.9h-3.5M397 106.1h-3.5M397 80.4h-3.5M397 54.7h-3.5M397 29h-3.5M425.5 209v3.5M481.3 209v3.5M537.1 209v3.5M592.9 209v3.5" stroke="#222" stroke-width="1" fill="none"/>
<g font-family='"Liberation Serif", serif' font-weight="bold" font-size="11.8" fill="#111"><text x="391.5" y="212.9" text-anchor="end">0</text><text x="391.5" y="187.2" text-anchor="end">1000</text><text x="391.5" y="161.5" text-anchor="end">2000</text><text x="391.5" y="135.8" text-anchor="end">3000</text><text x="391.5" y="110" text-anchor="end">4000</text><text x="391.5" y="84.3" text-anchor="end">5000</text><text x="391.5" y="58.6" text-anchor="end">6000</text><text x="391.5" y="32.9" text-anchor="end">7000</text></g>
<g font-family='"Liberation Serif", serif' font-weight="bold" font-size="11.3" fill="#111"><text x="425.5" y="40.1" text-anchor="middle">6433</text><text x="481.3" y="161.2" text-anchor="middle">1724</text><text x="537.1" y="180.1" text-anchor="middle">987</text><text x="592.9" y="186.5" text-anchor="middle">737</text></g>
<g font-family='"Liberation Serif", serif' font-weight="bold" font-size="12.8" fill="#111"><text x="425.5" y="225.5" text-anchor="middle">Total</text><text x="481.3" y="225.5" text-anchor="middle">Sig. DEPs</text><text x="537.1" y="225.5" text-anchor="middle">Up</text><text x="592.9" y="225.5" text-anchor="middle">Down</text></g>
<text transform="translate(355.5,183) rotate(-90)" font-family='"Liberation Serif", serif' font-weight="bold" font-size="15.4" fill="#111">Number of proteins</text>
<text x="343.8" y="25.7" font-family='"Liberation Serif", serif' font-weight="bold" font-size="16.5" fill="#111">B</text>
<text x="16.6" y="262.4" font-family='"Liberation Serif", serif' font-weight="bold" font-size="17.5" fill="#111">C</text>
<rect x="19.7" y="279.5" width="126.1" height="66.2" rx="3" fill="#e3e3e7" stroke="none" stroke-width="0.6"/>
<path d="M30 279.8H38.4A17 17 0 0 1 55.4 296.8V299.6A17 17 0 0 1 38.4 316.6H34A13 13 0 0 1 21 303.6V288.8A9 9 0 0 1 30 279.8Z" fill="#b1b1b5" stroke="#96969b" stroke-width="0.5"/>
<rect x="57.6" y="280.9" width="11.6" height="23.9" rx="2.5" fill="#b1b1b5" stroke="#96969b" stroke-width="0.6"/>
<rect x="70.2" y="280.9" width="11" height="23.9" rx="2.5" fill="#b1b1b5" stroke="#96969b" stroke-width="0.6"/>
<rect x="82.4" y="280.9" width="9.3" height="23.9" rx="2.5" fill="#b1b1b5" stroke="#96969b" stroke-width="0.6"/>
<rect x="92.4" y="280.9" width="12.1" height="23.9" rx="2.5" fill="#b1b1b5" stroke="#96969b" stroke-width="0.6"/>
<rect x="105.2" y="280.9" width="17.4" height="23.9" rx="2.5" fill="#b1b1b5" stroke="#96969b" stroke-width="0.6"/>
<rect x="123.2" y="280.9" width="9.1" height="23.9" rx="2.5" fill="#b1b1b5" stroke="#96969b" stroke-width="0.6"/>
<rect x="133" y="280.9" width="12.1" height="23.9" rx="2.5" fill="#b1b1b5" stroke="#96969b" stroke-width="0.6"/>
<polygon points="85.9,312.6 91.4,308 141.2,308 141.2,317.3 91.4,317.3" fill="#b1b1b5" stroke="#96969b" stroke-width="0.6" stroke-linejoin="round"/>
<rect x="51" y="310.4" width="34.4" height="34.3" rx="3" fill="#b1b1b5" stroke="#96969b" stroke-width="0.6"/>
<rect x="20.9" y="322.4" width="46" height="22.8" rx="3" fill="#b1b1b5" stroke="#96969b" stroke-width="0.6"/>
<polygon points="86.4,318.7 134.2,318.7 143,331.7 134.2,344.7 86.4,344.7" fill="#b1b1b5" stroke="#96969b" stroke-width="0.6" stroke-linejoin="round"/>
<text x="99.8" y="275.3" font-size="6.9" font-family='"Liberation Sans", sans-serif' font-weight="bold" text-anchor="middle" fill="#1a1a1a">minor CHO</text>
<text transform="translate(12.2,312.4) rotate(90)" font-size="6.8" font-family='"Liberation Sans", sans-serif' font-weight="bold" text-anchor="middle" fill="#1a1a1a">Cell wall</text>
<rect x="26.7" y="284.4" width="2.3" height="2.8" fill="#fbf8fa" stroke="#8a8a90" stroke-width="0.35"/><rect x="26.7" y="284.4" width="2.3" height="2.8" fill="none" stroke="#5e5e64" stroke-width="0.55"/>
<rect x="25" y="291.1" width="2.3" height="2.8" fill="#fbf8fa" stroke="#8a8a90" stroke-width="0.35"/><rect x="27.3" y="291.1" width="2.3" height="2.8" fill="#cdd0f0" stroke="#8a8a90" stroke-width="0.35"/><rect x="29.6" y="291.1" width="2.3" height="2.8" fill="#cdd0f0" stroke="#8a8a90" stroke-width="0.35"/><rect x="31.9" y="291.1" width="2.3" height="2.8" fill="#fbf8fa" stroke="#8a8a90" stroke-width="0.35"/><rect x="34.2" y="291.1" width="2.3" height="2.8" fill="#fbf8fa" stroke="#8a8a90" stroke-width="0.35"/><rect x="36.5" y="291.1" width="2.3" height="2.8" fill="#fbf8fa" stroke="#8a8a90" stroke-width="0.35"/><rect x="38.8" y="291.1" width="2.3" height="2.8" fill="#fbf8fa" stroke="#8a8a90" stroke-width="0.35"/><rect x="25" y="291.1" width="16.1" height="2.8" fill="none" stroke="#5e5e64" stroke-width="0.55"/>
<rect x="26.2" y="301.9" width="2.3" height="2.8" fill="#fbf8fa" stroke="#8a8a90" stroke-width="0.35"/><rect x="28.5" y="301.9" width="2.3" height="2.8" fill="#fbf8fa" stroke="#8a8a90" stroke-width="0.35"/><rect x="30.8" y="301.9" width="2.3" height="2.8" fill="#fbf8fa" stroke="#8a8a90" stroke-width="0.35"/><rect x="26.2" y="301.9" width="6.9" height="2.8" fill="none" stroke="#5e5e64" stroke-width="0.55"/>
<rect x="26.7" y="308.8" width="2.3" height="2.8" fill="#fbf8fa" stroke="#8a8a90" stroke-width="0.35"/><rect x="29" y="308.8" width="2.3" height="2.8" fill="#fbf8fa" stroke="#8a8a90" stroke-width="0.35"/><rect x="26.7" y="308.8" width="4.6" height="2.8" fill="none" stroke="#5e5e64" stroke-width="0.55"/>
<circle cx="40" cy="309.2" r="1.3" fill="#78787c"/>
<circle cx="60.3" cy="285.6" r="1.3" fill="#78787c"/>
<rect x="72.3" y="284.3" width="2.3" height="2.8" fill="#fbf8fa" stroke="#8a8a90" stroke-width="0.35"/><rect x="72.3" y="284.3" width="2.3" height="2.8" fill="none" stroke="#5e5e64" stroke-width="0.55"/><rect x="72.3" y="287.3" width="2.3" height="2.8" fill="#f0d0d6" stroke="#8a8a90" stroke-width="0.35"/><rect x="72.3" y="287.3" width="2.3" height="2.8" fill="none" stroke="#5e5e64" stroke-width="0.55"/>
<rect x="85" y="285.3" width="2.3" height="2.8" fill="#f0d0d6" stroke="#8a8a90" stroke-width="0.35"/><rect x="85" y="285.3" width="2.3" height="2.8" fill="none" stroke="#5e5e64" stroke-width="0.55"/>
<rect x="94.5" y="284.6" width="2.3" height="2.8" fill="#fbf8fa" stroke="#8a8a90" stroke-width="0.35"/><rect x="96.8" y="284.6" width="2.3" height="2.8" fill="#fbf8fa" stroke="#8a8a90" stroke-width="0.35"/><rect x="94.5" y="284.6" width="4.6" height="2.8" fill="none" stroke="#5e5e64" stroke-width="0.55"/>
<rect x="106" y="283.8" width="2.2" height="2.8" fill="#cdd0f0" stroke="#8a8a90" stroke-width="0.35"/><rect x="108.2" y="283.8" width="2.2" height="2.8" fill="#fbf8fa" stroke="#8a8a90" stroke-width="0.35"/><rect x="110.4" y="283.8" width="2.2" height="2.8" fill="#f0d0d6" stroke="#8a8a90" stroke-width="0.35"/><rect x="112.6" y="283.8" width="2.2" height="2.8" fill="#fbf8fa" stroke="#8a8a90" stroke-width="0.35"/><rect x="114.8" y="283.8" width="2.2" height="2.8" fill="#fbf8fa" stroke="#8a8a90" stroke-width="0.35"/><rect x="117" y="283.8" width="2.2" height="2.8" fill="#fbf8fa" stroke="#8a8a90" stroke-width="0.35"/><rect x="119.2" y="283.8" width="2.2" height="2.8" fill="#fbf8fa" stroke="#8a8a90" stroke-width="0.35"/><rect x="106" y="283.8" width="15.4" height="2.8" fill="none" stroke="#5e5e64" stroke-width="0.55"/><rect x="106" y="286.1" width="2.2" height="2.8" fill="#2224b8" stroke="#8a8a90" stroke-width="0.35"/><rect x="108.2" y="286.1" width="2.2" height="2.8" fill="#cdd0f0" stroke="#8a8a90" stroke-width="0.35"/><rect x="110.4" y="286.1" width="2.2" height="2.8" fill="#fbf8fa" stroke="#8a8a90" stroke-width="0.35"/><rect x="106" y="286.1" width="6.6" height="2.8" fill="none" stroke="#5e5e64" stroke-width="0.55"/>
<circle cx="126.5" cy="283.6" r="1.3" fill="#78787c"/>
<circle cx="136" cy="283.6" r="1.3" fill="#78787c"/>
<rect x="72.3" y="297.5" width="2.3" height="2.8" fill="#fbf8fa" stroke="#8a8a90" stroke-width="0.35"/><rect x="72.3" y="297.5" width="2.3" height="2.8" fill="none" stroke="#5e5e64" stroke-width="0.55"/>
<rect x="94.5" y="310.1" width="2.1" height="2.8" fill="#fbf8fa" stroke="#8a8a90" stroke-width="0.35"/><rect x="96.6" y="310.1" width="2.1" height="2.8" fill="#f0d0d6" stroke="#8a8a90" stroke-width="0.35"/><rect x="98.7" y="310.1" width="2.1" height="2.8" fill="#fbf8fa" stroke="#8a8a90" stroke-width="0.35"/><rect x="100.8" y="310.1" width="2.1" height="2.8" fill="#fbf8fa" stroke="#8a8a90" stroke-width="0.35"/><rect x="102.9" y="310.1" width="2.1" height="2.8" fill="#fbf8fa" stroke="#8a8a90" stroke-width="0.35"/><rect x="105" y="310.1" width="2.1" height="2.8" fill="#fbf8fa" stroke="#8a8a90" stroke-width="0.35"/><rect x="107.1" y="310.1" width="2.1" height="2.8" fill="#fbf8fa" stroke="#8a8a90" stroke-width="0.35"/><rect x="109.2" y="310.1" width="2.1" height="2.8" fill="#fbf8fa" stroke="#8a8a90" stroke-width="0.35"/><rect x="111.3" y="310.1" width="2.1" height="2.8" fill="#fbf8fa" stroke="#8a8a90" stroke-width="0.35"/><rect x="113.4" y="310.1" width="2.1" height="2.8" fill="#cdd0f0" stroke="#8a8a90" stroke-width="0.35"/><rect x="115.5" y="310.1" width="2.1" height="2.8" fill="#fbf8fa" stroke="#8a8a90" stroke-width="0.35"/><rect x="94.5" y="310.1" width="23.1" height="2.8" fill="none" stroke="#5e5e64" stroke-width="0.55"/>
<rect x="56.3" y="312" width="2.3" height="2.8" fill="#fbf8fa" stroke="#8a8a90" stroke-width="0.35"/><rect x="58.6" y="312" width="2.3" height="2.8" fill="#fbf8fa" stroke="#8a8a90" stroke-width="0.35"/><rect x="56.3" y="312" width="4.6" height="2.8" fill="none" stroke="#5e5e64" stroke-width="0.55"/>
<rect x="72.5" y="318.5" width="2.2" height="2.8" fill="#fbf8fa" stroke="#8a8a90" stroke-width="0.35"/><rect x="74.7" y="318.5" width="2.2" height="2.8" fill="#cdd0f0" stroke="#8a8a90" stroke-width="0.35"/><rect x="76.9" y="318.5" width="2.2" height="2.8" fill="#fbf8fa" stroke="#8a8a90" stroke-width="0.35"/><rect x="79.1" y="318.5" width="2.2" height="2.8" fill="#d9434a" stroke="#8a8a90" stroke-width="0.35"/><rect x="72.5" y="318.5" width="8.8" height="2.8" fill="none" stroke="#5e5e64" stroke-width="0.55"/>
<rect x="90" y="320.2" width="2.3" height="2.8" fill="#fbf8fa" stroke="#8a8a90" stroke-width="0.35"/><rect x="92.3" y="320.2" width="2.3" height="2.8" fill="#fbf8fa" stroke="#8a8a90" stroke-width="0.35"/><rect x="90" y="320.2" width="4.6" height="2.8" fill="none" stroke="#5e5e64" stroke-width="0.55"/>
<rect x="100" y="320.2" width="2.3" height="2.8" fill="#fbf8fa" stroke="#8a8a90" stroke-width="0.35"/><rect x="102.3" y="320.2" width="2.3" height="2.8" fill="#fbf8fa" stroke="#8a8a90" stroke-width="0.35"/><rect x="104.6" y="320.2" width="2.3" height="2.8" fill="#fbf8fa" stroke="#8a8a90" stroke-width="0.35"/><rect x="106.9" y="320.2" width="2.3" height="2.8" fill="#fbf8fa" stroke="#8a8a90" stroke-width="0.35"/><rect x="100" y="320.2" width="9.2" height="2.8" fill="none" stroke="#5e5e64" stroke-width="0.55"/>
<rect x="112.5" y="319.5" width="2.3" height="2.8" fill="#2224b8" stroke="#8a8a90" stroke-width="0.35"/><rect x="114.8" y="319.5" width="2.3" height="2.8" fill="#fbf8fa" stroke="#8a8a90" stroke-width="0.35"/><rect x="117.1" y="319.5" width="2.3" height="2.8" fill="#fbf8fa" stroke="#8a8a90" stroke-width="0.35"/><rect x="112.5" y="319.5" width="6.9" height="2.8" fill="none" stroke="#5e5e64" stroke-width="0.55"/>
<rect x="24.2" y="324.3" width="2.3" height="2.8" fill="#fbf8fa" stroke="#8a8a90" stroke-width="0.35"/><rect x="26.5" y="324.3" width="2.3" height="2.8" fill="#fbf8fa" stroke="#8a8a90" stroke-width="0.35"/><rect x="28.8" y="324.3" width="2.3" height="2.8" fill="#fbf8fa" stroke="#8a8a90" stroke-width="0.35"/><rect x="31.1" y="324.3" width="2.3" height="2.8" fill="#fbf8fa" stroke="#8a8a90" stroke-width="0.35"/><rect x="33.4" y="324.3" width="2.3" height="2.8" fill="#fbf8fa" stroke="#8a8a90" stroke-width="0.35"/><rect x="24.2" y="324.3" width="11.5" height="2.8" fill="none" stroke="#5e5e64" stroke-width="0.55"/>
<rect x="24.6" y="336.4" width="2.3" height="2.8" fill="#2224b8" stroke="#8a8a90" stroke-width="0.35"/><rect x="26.9" y="336.4" width="2.3" height="2.8" fill="#2224b8" stroke="#8a8a90" stroke-width="0.35"/><rect x="29.2" y="336.4" width="2.3" height="2.8" fill="#fbf8fa" stroke="#8a8a90" stroke-width="0.35"/><rect x="31.5" y="336.4" width="2.3" height="2.8" fill="#fbf8fa" stroke="#8a8a90" stroke-width="0.35"/><rect x="33.8" y="336.4" width="2.3" height="2.8" fill="#fbf8fa" stroke="#8a8a90" stroke-width="0.35"/><rect x="36.1" y="336.4" width="2.3" height="2.8" fill="#fbf8fa" stroke="#8a8a90" stroke-width="0.35"/><rect x="38.4" y="336.4" width="2.3" height="2.8" fill="#fbf8fa" stroke="#8a8a90" stroke-width="0.35"/><rect x="40.7" y="336.4" width="2.3" height="2.8" fill="#fbf8fa" stroke="#8a8a90" stroke-width="0.35"/><rect x="24.6" y="336.4" width="18.4" height="2.8" fill="none" stroke="#5e5e64" stroke-width="0.55"/>
<circle cx="72.4" cy="341.5" r="1.3" fill="#78787c"/>
<rect x="20.1" y="349.2" width="112.4" height="39.4" rx="3" fill="#e3e3e7" stroke="none" stroke-width="0.6"/>
<rect x="21.2" y="350.5" width="39.7" height="36.4" rx="3" fill="#b1b1b5" stroke="#96969b" stroke-width="0.6"/>
<polygon points="61.7,358.6 68.2,349.9 130.3,349.9 130.3,367.4 68.2,367.4" fill="#b1b1b5" stroke="#96969b" stroke-width="0.6" stroke-linejoin="round"/>
<polygon points="61.3,368 124.8,368 130.3,377.5 124.8,387 61.3,387" fill="#b1b1b5" stroke="#96969b" stroke-width="0.6" stroke-linejoin="round"/>
<text transform="translate(12.4,367.6) rotate(90)" font-size="6.8" font-family='"Liberation Sans", sans-serif' font-weight="bold" text-anchor="middle" fill="#1a1a1a">Lipids</text>
<circle cx="24.2" cy="355.3" r="1.3" fill="#78787c"/>
<circle cx="50.2" cy="355.6" r="1.3" fill="#78787c"/>
<circle cx="66.4" cy="355.3" r="1.3" fill="#78787c"/>
<rect x="90.8" y="350.5" width="2.2" height="2.8" fill="#fbf8fa" stroke="#8a8a90" stroke-width="0.35"/><rect x="93" y="350.5" width="2.2" height="2.8" fill="#fbf8fa" stroke="#8a8a90" stroke-width="0.35"/><rect x="95.2" y="350.5" width="2.2" height="2.8" fill="#f0d0d6" stroke="#8a8a90" stroke-width="0.35"/><rect x="97.4" y="350.5" width="2.2" height="2.8" fill="#f0d0d6" stroke="#8a8a90" stroke-width="0.35"/><rect x="99.6" y="350.5" width="2.2" height="2.8" fill="#f0d0d6" stroke="#8a8a90" stroke-width="0.35"/><rect x="101.8" y="350.5" width="2.2" height="2.8" fill="#a3141c" stroke="#8a8a90" stroke-width="0.35"/><rect x="104" y="350.5" width="2.2" height="2.8" fill="#f0d0d6" stroke="#8a8a90" stroke-width="0.35"/><rect x="106.2" y="350.5" width="2.2" height="2.8" fill="#f0d0d6" stroke="#8a8a90" stroke-width="0.35"/><rect x="108.4" y="350.5" width="2.2" height="2.8" fill="#fbf8fa" stroke="#8a8a90" stroke-width="0.35"/><rect x="110.6" y="350.5" width="2.2" height="2.8" fill="#fbf8fa" stroke="#8a8a90" stroke-width="0.35"/><rect x="112.8" y="350.5" width="2.2" height="2.8" fill="#cdd0f0" stroke="#8a8a90" stroke-width="0.35"/><rect x="115" y="350.5" width="2.2" height="2.8" fill="#fbf8fa" stroke="#8a8a90" stroke-width="0.35"/><rect x="117.2" y="350.5" width="2.2" height="2.8" fill="#cdd0f0" stroke="#8a8a90" stroke-width="0.35"/><rect x="119.4" y="350.5" width="2.2" height="2.8" fill="#fbf8fa" stroke="#8a8a90" stroke-width="0.35"/><rect x="121.6" y="350.5" width="2.2" height="2.8" fill="#cdd0f0" stroke="#8a8a90" stroke-width="0.35"/><rect x="123.8" y="350.5" width="2.2" height="2.8" fill="#cdd0f0" stroke="#8a8a90" stroke-width="0.35"/><rect x="126" y="350.5" width="2.2" height="2.8" fill="#fbf8fa" stroke="#8a8a90" stroke-width="0.35"/><rect x="128.2" y="350.5" width="2.2" height="2.8" fill="#fbf8fa" stroke="#8a8a90" stroke-width="0.35"/><rect x="90.8" y="350.5" width="39.6" height="2.8" fill="none" stroke="#5e5e64" stroke-width="0.55"/><rect x="90.8" y="352.7" width="2.2" height="2.8" fill="#fbf8fa" stroke="#8a8a90" stroke-width="0.35"/><rect x="93" y="352.7" width="2.2" height="2.8" fill="#fbf8fa" stroke="#8a8a90" stroke-width="0.35"/><rect x="95.2" y="352.7" width="2.2" height="2.8" fill="#fbf8fa" stroke="#8a8a90" stroke-width="0.35"/><rect x="90.8" y="352.7" width="6.6" height="2.8" fill="none" stroke="#5e5e64" stroke-width="0.55"/>
<rect x="23.5" y="366.8" width="2.3" height="2.8" fill="#fbf8fa" stroke="#8a8a90" stroke-width="0.35"/><rect x="25.8" y="366.8" width="2.3" height="2.8" fill="#fbf8fa" stroke="#8a8a90" stroke-width="0.35"/><rect x="23.5" y="366.8" width="4.6" height="2.8" fill="none" stroke="#5e5e64" stroke-width="0.55"/>
<rect x="23.5" y="372.3" width="2.3" height="2.8" fill="#fbf8fa" stroke="#8a8a90" stroke-width="0.35"/><rect x="25.8" y="372.3" width="2.3" height="2.8" fill="#fbf8fa" stroke="#8a8a90" stroke-width="0.35"/><rect x="23.5" y="372.3" width="4.6" height="2.8" fill="none" stroke="#5e5e64" stroke-width="0.55"/>
<rect x="63.4" y="370.8" width="2.3" height="2.8" fill="#fbf8fa" stroke="#8a8a90" stroke-width="0.35"/><rect x="63.4" y="370.8" width="2.3" height="2.8" fill="none" stroke="#5e5e64" stroke-width="0.55"/>
<rect x="80.5" y="368.4" width="2.3" height="2.8" fill="#fbf8fa" stroke="#8a8a90" stroke-width="0.35"/><rect x="82.8" y="368.4" width="2.3" height="2.8" fill="#f0d0d6" stroke="#8a8a90" stroke-width="0.35"/><rect x="85.1" y="368.4" width="2.3" height="2.8" fill="#fbf8fa" stroke="#8a8a90" stroke-width="0.35"/><rect x="87.4" y="368.4" width="2.3" height="2.8" fill="#f0d0d6" stroke="#8a8a90" stroke-width="0.35"/><rect x="80.5" y="368.4" width="9.2" height="2.8" fill="none" stroke="#5e5e64" stroke-width="0.55"/>
<rect x="102.3" y="370" width="2.3" height="2.8" fill="#fbf8fa" stroke="#8a8a90" stroke-width="0.35"/><rect x="104.6" y="370" width="2.3" height="2.8" fill="#f0d0d6" stroke="#8a8a90" stroke-width="0.35"/><rect x="106.9" y="370" width="2.3" height="2.8" fill="#fbf8fa" stroke="#8a8a90" stroke-width="0.35"/><rect x="109.2" y="370" width="2.3" height="2.8" fill="#fbf8fa" stroke="#8a8a90" stroke-width="0.35"/><rect x="111.5" y="370" width="2.3" height="2.8" fill="#fbf8fa" stroke="#8a8a90" stroke-width="0.35"/><rect x="102.3" y="370" width="11.5" height="2.8" fill="none" stroke="#5e5e64" stroke-width="0.55"/>
<rect x="19.9" y="405.7" width="57.5" height="85.9" rx="3" fill="#e3e3e7" stroke="none" stroke-width="0.6"/>
<rect x="20.4" y="406.3" width="16.3" height="22" rx="2.5" fill="#b1b1b5" stroke="#96969b" stroke-width="0.6"/>
<rect x="20.4" y="428.8" width="16.3" height="32.7" rx="2.5" fill="#b1b1b5" stroke="#96969b" stroke-width="0.6"/>
<rect x="20.4" y="462" width="16.3" height="18" rx="2.5" fill="#b1b1b5" stroke="#96969b" stroke-width="0.6"/>
<rect x="20.4" y="480.5" width="16.3" height="10.5" rx="2.5" fill="#b1b1b5" stroke="#96969b" stroke-width="0.6"/>
<rect x="37.3" y="406.3" width="39.2" height="24.9" rx="3" fill="#b1b1b5" stroke="#96969b" stroke-width="0.6"/>
<rect x="37.3" y="431.7" width="39.2" height="24.3" rx="3" fill="#b1b1b5" stroke="#96969b" stroke-width="0.6"/>
<rect x="37.3" y="456.5" width="39.2" height="34" rx="3" fill="#b1b1b5" stroke="#96969b" stroke-width="0.6"/>
<text transform="translate(12.4,445.8) rotate(90)" font-size="6.8" font-family='"Liberation Sans", sans-serif' font-weight="bold" text-anchor="middle" fill="#1a1a1a">2° Metabolism</text>
<text x="22.6" y="425.9" font-size="3.7" font-family='"Liberation Sans", sans-serif' font-weight="bold" text-anchor="start" fill="#1a1a1a">Waxes</text>
<text x="39.6" y="428.6" font-size="3.7" font-family='"Liberation Sans", sans-serif' font-weight="bold" text-anchor="start" fill="#1a1a1a">Terpenes</text>
<text x="38.9" y="454.8" font-size="3.7" font-family='"Liberation Sans", sans-serif' font-weight="bold" text-anchor="start" fill="#1a1a1a">Flavonoids</text>
<text x="21.9" y="460.3" font-size="3.7" font-family='"Liberation Sans", sans-serif' font-weight="bold" text-anchor="start" fill="#1a1a1a">N-misc</text>
<text x="22" y="478.6" font-size="3.7" font-family='"Liberation Sans", sans-serif' font-weight="bold" text-anchor="start" fill="#1a1a1a">S-misc</text>
<text x="22" y="489.7" font-size="3.7" font-family='"Liberation Sans", sans-serif' font-weight="bold" text-anchor="start" fill="#1a1a1a">misc</text>
<text x="55.4" y="482.9" font-size="3.7" font-family='"Liberation Sans", sans-serif' font-weight="bold" text-anchor="middle" fill="#1a1a1a">Phenylpropanoids &amp;</text>
<text x="55.4" y="487.4" font-size="3.7" font-family='"Liberation Sans", sans-serif' font-weight="bold" text-anchor="middle" fill="#1a1a1a">Phenolics</text>
<circle cx="22.3" cy="410.6" r="1.1" fill="#78787c"/>
<rect x="38.8" y="408.3" width="2.2" height="2.8" fill="#fbf8fa" stroke="#8a8a90" stroke-width="0.35"/><rect x="41" y="408.3" width="2.2" height="2.8" fill="#cdd0f0" stroke="#8a8a90" stroke-width="0.35"/><rect x="43.2" y="408.3" width="2.2" height="2.8" fill="#cdd0f0" stroke="#8a8a90" stroke-width="0.35"/><rect x="45.4" y="408.3" width="2.2" height="2.8" fill="#fbf8fa" stroke="#8a8a90" stroke-width="0.35"/><rect x="47.6" y="408.3" width="2.2" height="2.8" fill="#f0d0d6" stroke="#8a8a90" stroke-width="0.35"/><rect x="49.8" y="408.3" width="2.2" height="2.8" fill="#f0d0d6" stroke="#8a8a90" stroke-width="0.35"/><rect x="52" y="408.3" width="2.2" height="2.8" fill="#fbf8fa" stroke="#8a8a90" stroke-width="0.35"/><rect x="54.2" y="408.3" width="2.2" height="2.8" fill="#f0d0d6" stroke="#8a8a90" stroke-width="0.35"/><rect x="56.4" y="408.3" width="2.2" height="2.8" fill="#f0d0d6" stroke="#8a8a90" stroke-width="0.35"/><rect x="38.8" y="408.3" width="19.8" height="2.8" fill="none" stroke="#5e5e64" stroke-width="0.55"/>
<rect x="22" y="431.6" width="2.3" height="2.8" fill="#f0d0d6" stroke="#8a8a90" stroke-width="0.35"/><rect x="24.3" y="431.6" width="2.3" height="2.8" fill="#fbf8fa" stroke="#8a8a90" stroke-width="0.35"/><rect x="22" y="431.6" width="4.6" height="2.8" fill="none" stroke="#5e5e64" stroke-width="0.55"/>
<rect x="38.8" y="435.2" width="2.2" height="2.8" fill="#fbf8fa" stroke="#8a8a90" stroke-width="0.35"/><rect x="41" y="435.2" width="2.2" height="2.8" fill="#cdd0f0" stroke="#8a8a90" stroke-width="0.35"/><rect x="43.2" y="435.2" width="2.2" height="2.8" fill="#cdd0f0" stroke="#8a8a90" stroke-width="0.35"/><rect x="45.4" y="435.2" width="2.2" height="2.8" fill="#fbf8fa" stroke="#8a8a90" stroke-width="0.35"/><rect x="47.6" y="435.2" width="2.2" height="2.8" fill="#cdd0f0" stroke="#8a8a90" stroke-width="0.35"/><rect x="49.8" y="435.2" width="2.2" height="2.8" fill="#f0d0d6" stroke="#8a8a90" stroke-width="0.35"/><rect x="52" y="435.2" width="2.2" height="2.8" fill="#fbf8fa" stroke="#8a8a90" stroke-width="0.35"/><rect x="54.2" y="435.2" width="2.2" height="2.8" fill="#f0d0d6" stroke="#8a8a90" stroke-width="0.35"/><rect x="56.4" y="435.2" width="2.2" height="2.8" fill="#fbf8fa" stroke="#8a8a90" stroke-width="0.35"/><rect x="38.8" y="435.2" width="19.8" height="2.8" fill="none" stroke="#5e5e64" stroke-width="0.55"/>
<rect x="22.2" y="464" width="2.3" height="2.8" fill="#fbf8fa" stroke="#8a8a90" stroke-width="0.35"/><rect x="22.2" y="464" width="2.3" height="2.8" fill="none" stroke="#5e5e64" stroke-width="0.55"/>
<rect x="38.8" y="460.8" width="2.2" height="2.8" fill="#fbf8fa" stroke="#8a8a90" stroke-width="0.35"/><rect x="41" y="460.8" width="2.2" height="2.8" fill="#fbf8fa" stroke="#8a8a90" stroke-width="0.35"/><rect x="43.2" y="460.8" width="2.2" height="2.8" fill="#f0d0d6" stroke="#8a8a90" stroke-width="0.35"/><rect x="45.4" y="460.8" width="2.2" height="2.8" fill="#fbf8fa" stroke="#8a8a90" stroke-width="0.35"/><rect x="47.6" y="460.8" width="2.2" height="2.8" fill="#fbf8fa" stroke="#8a8a90" stroke-width="0.35"/><rect x="49.8" y="460.8" width="2.2" height="2.8" fill="#f0d0d6" stroke="#8a8a90" stroke-width="0.35"/><rect x="52" y="460.8" width="2.2" height="2.8" fill="#f0d0d6" stroke="#8a8a90" stroke-width="0.35"/><rect x="54.2" y="460.8" width="2.2" height="2.8" fill="#a3141c" stroke="#8a8a90" stroke-width="0.35"/><rect x="56.4" y="460.8" width="2.2" height="2.8" fill="#f0d0d6" stroke="#8a8a90" stroke-width="0.35"/><rect x="58.6" y="460.8" width="2.2" height="2.8" fill="#a3141c" stroke="#8a8a90" stroke-width="0.35"/><rect x="38.8" y="460.8" width="22" height="2.8" fill="none" stroke="#5e5e64" stroke-width="0.55"/>
<circle cx="22.3" cy="482.6" r="1.1" fill="#78787c"/>
<circle cx="54.5" cy="475.3" r="1.1" fill="#78787c"/>
<polygon points="165.4,270.1 174.7,275.4 174.7,319.7 156.1,319.7 156.1,275.4" fill="#b1b1b5" stroke="#96969b" stroke-width="0.6" stroke-linejoin="round"/>
<polygon points="176.3,275.9 194.7,275.9 194.7,312.2 185.5,318.3 176.3,312.2" fill="#b1b1b5" stroke="#96969b" stroke-width="0.6" stroke-linejoin="round"/>
<text x="196.4" y="282" font-size="6.1" font-family='"Liberation Sans", sans-serif' font-weight="bold" text-anchor="start" fill="#1a1a1a">Starch</text>
<text x="196.4" y="307.4" font-size="6.1" font-family='"Liberation Sans", sans-serif' font-weight="bold" text-anchor="start" fill="#1a1a1a">Sucrose</text>
<text x="196.4" y="321.4" font-size="6.0" font-family='"Liberation Sans", sans-serif' font-weight="bold" text-anchor="start" fill="#1a1a1a">OPP</text>
<rect x="158.3" y="280.7" width="2.2" height="2.8" fill="#f0d0d6" stroke="#8a8a90" stroke-width="0.35"/><rect x="160.5" y="280.7" width="2.2" height="2.8" fill="#fbf8fa" stroke="#8a8a90" stroke-width="0.35"/><rect x="162.7" y="280.7" width="2.2" height="2.8" fill="#cdd0f0" stroke="#8a8a90" stroke-width="0.35"/><rect x="164.9" y="280.7" width="2.2" height="2.8" fill="#cdd0f0" stroke="#8a8a90" stroke-width="0.35"/><rect x="167.1" y="280.7" width="2.2" height="2.8" fill="#fbf8fa" stroke="#8a8a90" stroke-width="0.35"/><rect x="169.3" y="280.7" width="2.2" height="2.8" fill="#fbf8fa" stroke="#8a8a90" stroke-width="0.35"/><rect x="158.3" y="280.7" width="13.2" height="2.8" fill="none" stroke="#5e5e64" stroke-width="0.55"/>
<rect x="178.6" y="278.6" width="2.2" height="2.8" fill="#fbf8fa" stroke="#8a8a90" stroke-width="0.35"/><rect x="180.8" y="278.6" width="2.2" height="2.8" fill="#2224b8" stroke="#8a8a90" stroke-width="0.35"/><rect x="183" y="278.6" width="2.2" height="2.8" fill="#fbf8fa" stroke="#8a8a90" stroke-width="0.35"/><rect x="185.2" y="278.6" width="2.2" height="2.8" fill="#2224b8" stroke="#8a8a90" stroke-width="0.35"/><rect x="178.6" y="278.6" width="8.8" height="2.8" fill="none" stroke="#5e5e64" stroke-width="0.55"/>
<rect x="158.6" y="297.7" width="2.3" height="2.8" fill="#fbf8fa" stroke="#8a8a90" stroke-width="0.35"/><rect x="158.6" y="297.7" width="2.3" height="2.8" fill="none" stroke="#5e5e64" stroke-width="0.55"/>
<rect x="178.8" y="293.6" width="2.2" height="2.8" fill="#fbf8fa" stroke="#8a8a90" stroke-width="0.35"/><rect x="181" y="293.6" width="2.2" height="2.8" fill="#f0d0d6" stroke="#8a8a90" stroke-width="0.35"/><rect x="183.2" y="293.6" width="2.2" height="2.8" fill="#f0d0d6" stroke="#8a8a90" stroke-width="0.35"/><rect x="185.4" y="293.6" width="2.2" height="2.8" fill="#fbf8fa" stroke="#8a8a90" stroke-width="0.35"/><rect x="178.8" y="293.6" width="8.8" height="2.8" fill="none" stroke="#5e5e64" stroke-width="0.55"/>
<text x="218.6" y="272.8" font-size="4.15" font-family='"Liberation Sans", sans-serif' font-weight="bold" text-anchor="start" fill="#1a1a1a">Ascorbate, Glutathione</text>
<rect x="218" y="277.9" width="36.5" height="13.5" rx="6.7" fill="#b1b1b5" stroke="#96969b" stroke-width="0.6"/>
<rect x="224.2" y="278.8" width="1.9" height="2.4" fill="#fbf8fa" stroke="#8a8a90" stroke-width="0.35"/><rect x="226.1" y="278.8" width="1.9" height="2.4" fill="#fbf8fa" stroke="#8a8a90" stroke-width="0.35"/><rect x="228.1" y="278.8" width="1.9" height="2.4" fill="#fbf8fa" stroke="#8a8a90" stroke-width="0.35"/><rect x="230" y="278.8" width="1.9" height="2.4" fill="#cdd0f0" stroke="#8a8a90" stroke-width="0.35"/><rect x="232" y="278.8" width="1.9" height="2.4" fill="#fbf8fa" stroke="#8a8a90" stroke-width="0.35"/><rect x="233.9" y="278.8" width="1.9" height="2.4" fill="#fbf8fa" stroke="#8a8a90" stroke-width="0.35"/><rect x="235.9" y="278.8" width="1.9" height="2.4" fill="#fbf8fa" stroke="#8a8a90" stroke-width="0.35"/><rect x="237.8" y="278.8" width="1.9" height="2.4" fill="#fbf8fa" stroke="#8a8a90" stroke-width="0.35"/><rect x="239.8" y="278.8" width="1.9" height="2.4" fill="#f0d0d6" stroke="#8a8a90" stroke-width="0.35"/><rect x="241.8" y="278.8" width="1.9" height="2.4" fill="#fbf8fa" stroke="#8a8a90" stroke-width="0.35"/><rect x="243.7" y="278.8" width="1.9" height="2.4" fill="#fbf8fa" stroke="#8a8a90" stroke-width="0.35"/><rect x="245.6" y="278.8" width="1.9" height="2.4" fill="#fbf8fa" stroke="#8a8a90" stroke-width="0.35"/><rect x="224.2" y="278.8" width="23.4" height="2.4" fill="none" stroke="#5e5e64" stroke-width="0.55"/>
<path d="M272 302.8L292.6 287.2" stroke="#b1b1b5" stroke-width="4.6" stroke-linecap="round"/><rect x="256.3" y="282.6" width="14.6" height="5.2" rx="2.6" transform="rotate(-30 263.6 285.2)" fill="#b1b1b5" stroke="#9a9a9e" stroke-width="0.45"/><rect x="259" y="286.4" width="14.6" height="5.2" rx="2.6" transform="rotate(-30 266.3 289)" fill="#b1b1b5" stroke="#9a9a9e" stroke-width="0.45"/><rect x="261.7" y="290.2" width="14.6" height="5.2" rx="2.6" transform="rotate(-30 269 292.8)" fill="#b1b1b5" stroke="#9a9a9e" stroke-width="0.45"/><rect x="264.4" y="294" width="14.6" height="5.2" rx="2.6" transform="rotate(-30 271.7 296.6)" fill="#b1b1b5" stroke="#9a9a9e" stroke-width="0.45"/><rect x="267.1" y="297.8" width="14.6" height="5.2" rx="2.6" transform="rotate(-30 274.4 300.4)" fill="#b1b1b5" stroke="#9a9a9e" stroke-width="0.45"/>
<text x="274.1" y="273.7" font-size="5.25" font-family='"Liberation Sans", sans-serif' font-weight="bold" text-anchor="start" fill="#1a1a1a">Light</text>
<text x="274.1" y="280" font-size="5.25" font-family='"Liberation Sans", sans-serif' font-weight="bold" text-anchor="start" fill="#1a1a1a">Reactions</text>
<rect x="288.2" y="290.8" width="2.6" height="2.6" fill="#fbf8fa" stroke="#8a8a90" stroke-width="0.35"/><rect x="290.8" y="290.8" width="2.6" height="2.6" fill="#fbf8fa" stroke="#8a8a90" stroke-width="0.35"/><rect x="293.4" y="290.8" width="2.6" height="2.6" fill="#f0d0d6" stroke="#8a8a90" stroke-width="0.35"/><rect x="296" y="290.8" width="2.6" height="2.6" fill="#fbf8fa" stroke="#8a8a90" stroke-width="0.35"/><rect x="298.6" y="290.8" width="2.6" height="2.6" fill="#f0d0d6" stroke="#8a8a90" stroke-width="0.35"/><rect x="301.2" y="290.8" width="2.6" height="2.6" fill="#f0d0d6" stroke="#8a8a90" stroke-width="0.35"/><rect x="303.8" y="290.8" width="2.6" height="2.6" fill="#e9a8ad" stroke="#8a8a90" stroke-width="0.35"/><rect x="306.4" y="290.8" width="2.6" height="2.6" fill="#d9434a" stroke="#8a8a90" stroke-width="0.35"/><rect x="309" y="290.8" width="2.6" height="2.6" fill="#fbf8fa" stroke="#8a8a90" stroke-width="0.35"/><rect x="311.6" y="290.8" width="2.6" height="2.6" fill="#fbf8fa" stroke="#8a8a90" stroke-width="0.35"/><rect x="314.2" y="290.8" width="2.6" height="2.6" fill="#fbf8fa" stroke="#8a8a90" stroke-width="0.35"/><rect x="288.2" y="290.8" width="28.6" height="2.6" fill="none" stroke="#5e5e64" stroke-width="0.55"/><rect x="288.2" y="293.4" width="2.6" height="2.6" fill="#cdd0f0" stroke="#8a8a90" stroke-width="0.35"/><rect x="290.8" y="293.4" width="2.6" height="2.6" fill="#cdd0f0" stroke="#8a8a90" stroke-width="0.35"/><rect x="293.4" y="293.4" width="2.6" height="2.6" fill="#fbf8fa" stroke="#8a8a90" stroke-width="0.35"/><rect x="296" y="293.4" width="2.6" height="2.6" fill="#fbf8fa" stroke="#8a8a90" stroke-width="0.35"/><rect x="298.6" y="293.4" width="2.6" height="2.6" fill="#fbf8fa" stroke="#8a8a90" stroke-width="0.35"/><rect x="301.2" y="293.4" width="2.6" height="2.6" fill="#fbf8fa" stroke="#8a8a90" stroke-width="0.35"/><rect x="303.8" y="293.4" width="2.6" height="2.6" fill="#fbf8fa" stroke="#8a8a90" stroke-width="0.35"/><rect x="306.4" y="293.4" width="2.6" height="2.6" fill="#fbf8fa" stroke="#8a8a90" stroke-width="0.35"/><rect x="309" y="293.4" width="2.6" height="2.6" fill="#fbf8fa" stroke="#8a8a90" stroke-width="0.35"/><rect x="311.6" y="293.4" width="2.6" height="2.6" fill="#fbf8fa" stroke="#8a8a90" stroke-width="0.35"/><rect x="314.2" y="293.4" width="2.6" height="2.6" fill="#fbf8fa" stroke="#8a8a90" stroke-width="0.35"/><rect x="288.2" y="293.4" width="28.6" height="2.6" fill="none" stroke="#5e5e64" stroke-width="0.55"/><rect x="288.2" y="296" width="2.6" height="2.6" fill="#cdd0f0" stroke="#8a8a90" stroke-width="0.35"/><rect x="290.8" y="296" width="2.6" height="2.6" fill="#cdd0f0" stroke="#8a8a90" stroke-width="0.35"/><rect x="293.4" y="296" width="2.6" height="2.6" fill="#fbf8fa" stroke="#8a8a90" stroke-width="0.35"/><rect x="288.2" y="296" width="7.8" height="2.6" fill="none" stroke="#5e5e64" stroke-width="0.55"/>
<rect x="325.8" y="271.3" width="11" height="43.2" rx="0" fill="#fafafa" stroke="#dddddd" stroke-width="0.6"/>
<defs><linearGradient id="lg1" x1="0" y1="0" x2="0" y2="1"><stop offset="0" stop-color="#d9b0a8"/><stop offset="0.5" stop-color="#ffffff"/><stop offset="1" stop-color="#b0b0b8"/></linearGradient></defs>
<rect x="327.2" y="273.5" width="1.6" height="39.5" fill="url(#lg1)"/>
<text x="333.2" y="276" font-size="4.2" font-family='"Liberation Sans", sans-serif' font-weight="normal" text-anchor="middle" fill="#555">-3</text>
<rect x="329" y="274.3" width="1.2" height="0.4" fill="#999"/>
<text x="333.2" y="282.4" font-size="4.2" font-family='"Liberation Sans", sans-serif' font-weight="normal" text-anchor="middle" fill="#555">-2</text>
<rect x="329" y="280.8" width="1.2" height="0.4" fill="#999"/>
<text x="333.2" y="288.9" font-size="4.2" font-family='"Liberation Sans", sans-serif' font-weight="normal" text-anchor="middle" fill="#555">-1</text>
<rect x="329" y="287.2" width="1.2" height="0.4" fill="#999"/>
<text x="333.2" y="295.4" font-size="4.2" font-family='"Liberation Sans", sans-serif' font-weight="normal" text-anchor="middle" fill="#555">0</text>
<rect x="329" y="293.7" width="1.2" height="0.4" fill="#999"/>
<text x="333.2" y="301.8" font-size="4.2" font-family='"Liberation Sans", sans-serif' font-weight="normal" text-anchor="middle" fill="#555">1</text>
<rect x="329" y="300.1" width="1.2" height="0.4" fill="#999"/>
<text x="333.2" y="308.2" font-size="4.2" font-family='"Liberation Sans", sans-serif' font-weight="normal" text-anchor="middle" fill="#555">2</text>
<rect x="329" y="306.6" width="1.2" height="0.4" fill="#999"/>
<text x="333.2" y="314.7" font-size="4.2" font-family='"Liberation Sans", sans-serif' font-weight="normal" text-anchor="middle" fill="#555">3</text>
<rect x="329" y="313" width="1.2" height="0.4" fill="#999"/>
<g transform="translate(1.2,0)"><path d="M228.5 322A17 17 0 1 1 236 330.5" fill="none" stroke="#b1b1b5" stroke-width="7.2"/>
<polygon points="223.4,327.5 227.8,315.5 240.3,319.4" fill="#b1b1b5" stroke="none" stroke-width="0.6" stroke-linejoin="round"/></g>
<rect x="236.6" y="310.3" width="2.6" height="2.8" fill="#fbf8fa" stroke="#8a8a90" stroke-width="0.35"/><rect x="239.2" y="310.3" width="2.6" height="2.8" fill="#cdd0f0" stroke="#8a8a90" stroke-width="0.35"/><rect x="241.8" y="310.3" width="2.6" height="2.8" fill="#fbf8fa" stroke="#8a8a90" stroke-width="0.35"/><rect x="244.4" y="310.3" width="2.6" height="2.8" fill="#cdd0f0" stroke="#8a8a90" stroke-width="0.35"/><rect x="236.6" y="310.3" width="10.4" height="2.8" fill="none" stroke="#5e5e64" stroke-width="0.55"/>
<path d="M276 317.8A8 8 0 1 1 268.6 329.8" fill="none" stroke="#b1b1b5" stroke-width="4.1"/>
<polygon points="270.6,317.8 276.6,313.4 276.6,322.2" fill="#b1b1b5" stroke="none" stroke-width="0.6" stroke-linejoin="round"/>
<rect x="280.6" y="325" width="2.5" height="2.4" fill="#f0d0d6" stroke="#8a8a90" stroke-width="0.35"/><rect x="283.1" y="325" width="2.5" height="2.4" fill="#f0d0d6" stroke="#8a8a90" stroke-width="0.35"/><rect x="285.6" y="325" width="2.5" height="2.4" fill="#f0d0d6" stroke="#8a8a90" stroke-width="0.35"/><rect x="288.1" y="325" width="2.5" height="2.4" fill="#f0d0d6" stroke="#8a8a90" stroke-width="0.35"/><rect x="280.6" y="325" width="10" height="2.4" fill="none" stroke="#5e5e64" stroke-width="0.55"/>
<text x="274.3" y="339.3" font-size="4.45" font-family='"Liberation Sans", sans-serif' font-weight="bold" text-anchor="start" fill="#1a1a1a">Photorespiration</text>
<rect x="257.5" y="341.2" width="58.3" height="11.3" rx="3" fill="#b1b1b5" stroke="#96969b" stroke-width="0.6"/>
<rect x="264.5" y="343.8" width="2.5" height="2.8" fill="#fbf8fa" stroke="#8a8a90" stroke-width="0.35"/><rect x="266.9" y="343.8" width="2.5" height="2.8" fill="#cdd0f0" stroke="#8a8a90" stroke-width="0.35"/><rect x="269.4" y="343.8" width="2.5" height="2.8" fill="#fbf8fa" stroke="#8a8a90" stroke-width="0.35"/><rect x="271.9" y="343.8" width="2.5" height="2.8" fill="#fbf8fa" stroke="#8a8a90" stroke-width="0.35"/><rect x="274.3" y="343.8" width="2.5" height="2.8" fill="#cdd0f0" stroke="#8a8a90" stroke-width="0.35"/><rect x="276.8" y="343.8" width="2.5" height="2.8" fill="#fbf8fa" stroke="#8a8a90" stroke-width="0.35"/><rect x="264.5" y="343.8" width="14.7" height="2.8" fill="none" stroke="#5e5e64" stroke-width="0.55"/>
<text x="270.5" y="358.8" font-size="6.0" font-family='"Liberation Sans", sans-serif' font-weight="bold" text-anchor="start" fill="#1a1a1a">Tetrapyrrole</text>
<rect x="253.5" y="362.3" width="2" height="2.4" fill="#fbf8fa" stroke="#8a8a90" stroke-width="0.35"/><rect x="255.5" y="362.3" width="2" height="2.4" fill="#fbf8fa" stroke="#8a8a90" stroke-width="0.35"/><rect x="257.6" y="362.3" width="2" height="2.4" fill="#cdd0f0" stroke="#8a8a90" stroke-width="0.35"/><rect x="259.6" y="362.3" width="2" height="2.4" fill="#fbf8fa" stroke="#8a8a90" stroke-width="0.35"/><rect x="261.6" y="362.3" width="2" height="2.4" fill="#fbf8fa" stroke="#8a8a90" stroke-width="0.35"/><rect x="263.6" y="362.3" width="2" height="2.4" fill="#fbf8fa" stroke="#8a8a90" stroke-width="0.35"/><rect x="265.7" y="362.3" width="2" height="2.4" fill="#fbf8fa" stroke="#8a8a90" stroke-width="0.35"/><rect x="267.7" y="362.3" width="2" height="2.4" fill="#cdd0f0" stroke="#8a8a90" stroke-width="0.35"/><rect x="269.7" y="362.3" width="2" height="2.4" fill="#fbf8fa" stroke="#8a8a90" stroke-width="0.35"/><rect x="271.8" y="362.3" width="2" height="2.4" fill="#f0d0d6" stroke="#8a8a90" stroke-width="0.35"/><rect x="273.8" y="362.3" width="2" height="2.4" fill="#a3141c" stroke="#8a8a90" stroke-width="0.35"/><rect x="275.8" y="362.3" width="2" height="2.4" fill="#a3141c" stroke="#8a8a90" stroke-width="0.35"/><rect x="277.9" y="362.3" width="2" height="2.4" fill="#fbf8fa" stroke="#8a8a90" stroke-width="0.35"/><rect x="279.9" y="362.3" width="2" height="2.4" fill="#cdd0f0" stroke="#8a8a90" stroke-width="0.35"/><rect x="281.9" y="362.3" width="2" height="2.4" fill="#fbf8fa" stroke="#8a8a90" stroke-width="0.35"/><rect x="283.9" y="362.3" width="2" height="2.4" fill="#cdd0f0" stroke="#8a8a90" stroke-width="0.35"/><rect x="286" y="362.3" width="2" height="2.4" fill="#fbf8fa" stroke="#8a8a90" stroke-width="0.35"/><rect x="288" y="362.3" width="2" height="2.4" fill="#fbf8fa" stroke="#8a8a90" stroke-width="0.35"/><rect x="290" y="362.3" width="2" height="2.4" fill="#fbf8fa" stroke="#8a8a90" stroke-width="0.35"/><rect x="292.1" y="362.3" width="2" height="2.4" fill="#fbf8fa" stroke="#8a8a90" stroke-width="0.35"/><rect x="253.5" y="362.3" width="40.6" height="2.4" fill="none" stroke="#5e5e64" stroke-width="0.55"/>
<text x="260.9" y="380" font-size="4.5" font-family='"Liberation Sans", sans-serif' font-weight="bold" text-anchor="start" fill="#1a1a1a">Mito. Electron Transport</text>
<text x="267" y="397.4" font-size="4.5" font-family='"Liberation Sans", sans-serif' font-weight="bold" text-anchor="start" fill="#1a1a1a">Carbonic anhydrases</text>
<polygon points="163.5,334.9 166.3,339 166.3,371.7 160.7,371.7 160.7,339" fill="#dcdce0" stroke="#c8c8cc" stroke-width="0.6" stroke-linejoin="round"/>
<polygon points="167.2,320.9 183.8,320.9 183.8,357.7 175.5,370.8 167.2,357.7" fill="#b1b1b5" stroke="#96969b" stroke-width="0.6" stroke-linejoin="round"/>
<polygon points="183.3,350.1 212,350.1 217,353.9 212,357.7 183.3,357.7" fill="#b1b1b5" stroke="#96969b" stroke-width="0.6" stroke-linejoin="round"/>
<text x="219.3" y="355.8" font-size="4.4" font-family='"Liberation Sans", sans-serif' font-weight="bold" text-anchor="start" fill="#1a1a1a">Fermentation</text>
<path d="M187.64 326.85A10 10 0 1 1 191.6 344.06" fill="none" stroke="#b1b1b5" stroke-width="4.6"/>
<polygon points="185.3,342.8 190.1,349.2 193.1,338.8" fill="#b1b1b5" stroke="none" stroke-width="0.6" stroke-linejoin="round"/>
<circle cx="197.4" cy="340.8" r="1.1" fill="#78787c"/>
<rect x="197" y="327" width="2.6" height="2.2" fill="#fbf8fa" stroke="#8a8a90" stroke-width="0.35"/><rect x="199.6" y="327" width="2.6" height="2.2" fill="#fbf8fa" stroke="#8a8a90" stroke-width="0.35"/><rect x="197" y="327" width="5.2" height="2.2" fill="none" stroke="#5e5e64" stroke-width="0.55"/>
<rect x="213.6" y="335.8" width="2.9" height="2.6" fill="#fbf8fa" stroke="#8a8a90" stroke-width="0.35"/><rect x="213.6" y="335.8" width="2.9" height="2.6" fill="none" stroke="#5e5e64" stroke-width="0.55"/>
<rect x="169.3" y="322.3" width="2.2" height="2.8" fill="#cdd0f0" stroke="#8a8a90" stroke-width="0.35"/><rect x="171.5" y="322.3" width="2.2" height="2.8" fill="#f0d0d6" stroke="#8a8a90" stroke-width="0.35"/><rect x="173.7" y="322.3" width="2.2" height="2.8" fill="#fbf8fa" stroke="#8a8a90" stroke-width="0.35"/><rect x="175.9" y="322.3" width="2.2" height="2.8" fill="#f0d0d6" stroke="#8a8a90" stroke-width="0.35"/><rect x="169.3" y="322.3" width="8.8" height="2.8" fill="none" stroke="#5e5e64" stroke-width="0.55"/><rect x="169.3" y="324.5" width="2.2" height="2.8" fill="#cdd0f0" stroke="#8a8a90" stroke-width="0.35"/><rect x="171.5" y="324.5" width="2.2" height="2.8" fill="#fbf8fa" stroke="#8a8a90" stroke-width="0.35"/><rect x="169.3" y="324.5" width="4.4" height="2.8" fill="none" stroke="#5e5e64" stroke-width="0.55"/>
<rect x="190.3" y="352.2" width="2.2" height="2.8" fill="#f0d0d6" stroke="#8a8a90" stroke-width="0.35"/><rect x="192.5" y="352.2" width="2.2" height="2.8" fill="#fbf8fa" stroke="#8a8a90" stroke-width="0.35"/><rect x="190.3" y="352.2" width="4.4" height="2.8" fill="none" stroke="#5e5e64" stroke-width="0.55"/>
<rect x="159.3" y="371.2" width="50.7" height="31.1" rx="3" fill="#e3e3e7" stroke="#d0d0d4" stroke-width="0.6"/>
<ellipse cx="172.4" cy="387.85" rx="23.6" ry="14.45" fill="#b1b1b5" stroke="#96969b" stroke-width="0.5"/>
<ellipse cx="172.85" cy="388.35" rx="13.55" ry="8.75" fill="#e3e3e7" stroke="#96969b" stroke-width="0.5"/>
<ellipse cx="148.8" cy="371.7" rx="7" ry="6.2" fill="none" stroke="#b1b1b5" stroke-width="3.8"/>
<rect x="147.9" y="363.8" width="2.4" height="2.2" fill="#fbf8fa" stroke="#8a8a90" stroke-width="0.35"/><rect x="150.3" y="363.8" width="2.4" height="2.2" fill="#fbf8fa" stroke="#8a8a90" stroke-width="0.35"/><rect x="152.7" y="363.8" width="2.4" height="2.2" fill="#fbf8fa" stroke="#8a8a90" stroke-width="0.35"/><rect x="155.1" y="363.8" width="2.4" height="2.2" fill="#f0d0d6" stroke="#8a8a90" stroke-width="0.35"/><rect x="147.9" y="363.8" width="9.6" height="2.2" fill="none" stroke="#5e5e64" stroke-width="0.55"/>
<rect x="164.2" y="384" width="1.9" height="2.2" fill="#fbf8fa" stroke="#8a8a90" stroke-width="0.35"/><rect x="166.1" y="384" width="1.9" height="2.2" fill="#fbf8fa" stroke="#8a8a90" stroke-width="0.35"/><rect x="168.1" y="384" width="1.9" height="2.2" fill="#f0d0d6" stroke="#8a8a90" stroke-width="0.35"/><rect x="170" y="384" width="1.9" height="2.2" fill="#f0d0d6" stroke="#8a8a90" stroke-width="0.35"/><rect x="172" y="384" width="1.9" height="2.2" fill="#fbf8fa" stroke="#8a8a90" stroke-width="0.35"/><rect x="173.9" y="384" width="1.9" height="2.2" fill="#fbf8fa" stroke="#8a8a90" stroke-width="0.35"/><rect x="175.9" y="384" width="1.9" height="2.2" fill="#fbf8fa" stroke="#8a8a90" stroke-width="0.35"/><rect x="177.8" y="384" width="1.9" height="2.2" fill="#fbf8fa" stroke="#8a8a90" stroke-width="0.35"/><rect x="179.8" y="384" width="1.9" height="2.2" fill="#fbf8fa" stroke="#8a8a90" stroke-width="0.35"/><rect x="181.8" y="384" width="1.9" height="2.2" fill="#2224b8" stroke="#8a8a90" stroke-width="0.35"/><rect x="183.7" y="384" width="1.9" height="2.2" fill="#fbf8fa" stroke="#8a8a90" stroke-width="0.35"/><rect x="185.6" y="384" width="1.9" height="2.2" fill="#fbf8fa" stroke="#8a8a90" stroke-width="0.35"/><rect x="164.2" y="384" width="23.4" height="2.2" fill="none" stroke="#5e5e64" stroke-width="0.55"/><rect x="164.2" y="386.2" width="2.1" height="2.1" fill="#fbf8fa" stroke="#8a8a90" stroke-width="0.35"/><rect x="164.2" y="386.2" width="2.1" height="2.1" fill="none" stroke="#5e5e64" stroke-width="0.55"/>
<rect x="197.8" y="381" width="2.5" height="2.4" fill="#fbf8fa" stroke="#8a8a90" stroke-width="0.35"/><rect x="200.3" y="381" width="2.5" height="2.4" fill="#fbf8fa" stroke="#8a8a90" stroke-width="0.35"/><rect x="202.8" y="381" width="2.5" height="2.4" fill="#f0d0d6" stroke="#8a8a90" stroke-width="0.35"/><rect x="205.3" y="381" width="2.5" height="2.4" fill="#fbf8fa" stroke="#8a8a90" stroke-width="0.35"/><rect x="197.8" y="381" width="10" height="2.4" fill="none" stroke="#5e5e64" stroke-width="0.55"/>
<text x="134.1" y="395" font-size="6.8" font-family='"Liberation Sans", sans-serif' font-weight="bold" text-anchor="start" fill="#1a1a1a">TCA</text>
<rect x="212.2" y="368.2" width="10.1" height="19.2" rx="4.8" fill="#b1b1b5" stroke="#8e8e92" stroke-width="0.6"/>
<rect x="225.8" y="365.2" width="9.7" height="22.2" rx="4.8" fill="#b1b1b5" stroke="#8e8e92" stroke-width="0.6"/>
<rect x="239" y="365.2" width="9.6" height="22.2" rx="4.8" fill="#b1b1b5" stroke="#8e8e92" stroke-width="0.6"/>
<rect x="218.8" y="376" width="9.7" height="11.4" rx="4.7" fill="#b1b1b5" stroke="#8e8e92" stroke-width="0.6"/>
<rect x="232.9" y="374.3" width="9.5" height="13.1" rx="4.7" fill="#b1b1b5" stroke="#8e8e92" stroke-width="0.6"/>
<rect x="213.6" y="389.7" width="18.4" height="10.5" rx="2.5" fill="#b1b1b5" stroke="#96969b" stroke-width="0.6"/>
<rect x="217" y="391" width="2.6" height="2.6" fill="#f0d0d6" stroke="#8a8a90" stroke-width="0.35"/><rect x="217" y="391" width="2.6" height="2.6" fill="none" stroke="#5e5e64" stroke-width="0.55"/>
<rect x="136.6" y="404.4" width="73.2" height="8.3" rx="2" fill="#b1b1b5" stroke="#96969b" stroke-width="0.6"/>
<rect x="146.5" y="407.3" width="2.6" height="2.8" fill="#fbf8fa" stroke="#8a8a90" stroke-width="0.35"/><rect x="146.5" y="407.3" width="2.6" height="2.8" fill="none" stroke="#5e5e64" stroke-width="0.55"/>
<rect x="170.3" y="406.8" width="2.2" height="2.8" fill="#fbf8fa" stroke="#8a8a90" stroke-width="0.35"/><rect x="172.5" y="406.8" width="2.2" height="2.8" fill="#fbf8fa" stroke="#8a8a90" stroke-width="0.35"/><rect x="174.7" y="406.8" width="2.2" height="2.8" fill="#fbf8fa" stroke="#8a8a90" stroke-width="0.35"/><rect x="170.3" y="406.8" width="6.6" height="2.8" fill="none" stroke="#5e5e64" stroke-width="0.55"/>
<rect x="193.5" y="407.3" width="2.3" height="2.8" fill="#fbf8fa" stroke="#8a8a90" stroke-width="0.35"/><rect x="193.5" y="407.3" width="2.3" height="2.8" fill="none" stroke="#5e5e64" stroke-width="0.55"/>
<circle cx="208.4" cy="408.4" r="1" fill="#78787c"/>
<text x="104.7" y="410.8" font-size="6.7" font-family='"Liberation Sans", sans-serif' font-weight="bold" text-anchor="middle" fill="#1a1a1a">Amino Acids</text>
<polygon points="80.9,414.3 91,414.3 91,482.3 86,492.2 80.9,482.3" fill="#b1b1b5" stroke="#96969b" stroke-width="0.6" stroke-linejoin="round"/>
<polygon points="92.7,414.3 102.8,414.3 102.8,482.3 97.8,492.2 92.7,482.3" fill="#b1b1b5" stroke="#96969b" stroke-width="0.6" stroke-linejoin="round"/>
<polygon points="104,414.3 114.4,414.3 114.4,482.3 109.2,492.2 104,482.3" fill="#b1b1b5" stroke="#96969b" stroke-width="0.6" stroke-linejoin="round"/>
<polygon points="115.8,414.3 125.7,414.3 125.7,482.3 120.8,492.2 115.8,482.3" fill="#b1b1b5" stroke="#96969b" stroke-width="0.6" stroke-linejoin="round"/>
<polygon points="126.9,414.3 145.3,414.3 145.3,482.3 136.1,492.2 126.9,482.3" fill="#b1b1b5" stroke="#96969b" stroke-width="0.6" stroke-linejoin="round"/>
<polygon points="146.9,414.3 159.4,414.3 159.4,482.3 153.2,492.2 146.9,482.3" fill="#b1b1b5" stroke="#96969b" stroke-width="0.6" stroke-linejoin="round"/>
<polygon points="172.1,415 177.2,424.5 177.2,492.3 167,492.3 167,424.5" fill="#dcdce0" stroke="#c8c8cc" stroke-width="0.6" stroke-linejoin="round"/>
<polygon points="185.5,415 192.6,424.5 192.6,492.3 178.4,492.3 178.4,424.5" fill="#dcdce0" stroke="#c8c8cc" stroke-width="0.6" stroke-linejoin="round"/>
<polygon points="201.1,415 208.6,424.5 208.6,492.3 193.7,492.3 193.7,424.5" fill="#dcdce0" stroke="#c8c8cc" stroke-width="0.6" stroke-linejoin="round"/>
<polygon points="215,415 220.2,424.5 220.2,492.3 209.8,492.3 209.8,424.5" fill="#dcdce0" stroke="#c8c8cc" stroke-width="0.6" stroke-linejoin="round"/>
<polygon points="226.4,415 231.5,424.5 231.5,492.3 221.4,492.3 221.4,424.5" fill="#dcdce0" stroke="#c8c8cc" stroke-width="0.6" stroke-linejoin="round"/>
<polygon points="237.7,415 242.7,424.5 242.7,492.3 232.7,492.3 232.7,424.5" fill="#dcdce0" stroke="#c8c8cc" stroke-width="0.6" stroke-linejoin="round"/>
<circle cx="84.2" cy="421.7" r="1.45" fill="#78787c"/>
<circle cx="82.9" cy="444.8" r="1.45" fill="#78787c"/>
<circle cx="94.2" cy="420.4" r="1.45" fill="#78787c"/>
<circle cx="94.7" cy="428.2" r="1.45" fill="#78787c"/>
<circle cx="94.2" cy="478.6" r="1.45" fill="#78787c"/>
<circle cx="106.1" cy="418.2" r="1.45" fill="#78787c"/>
<circle cx="107.6" cy="434.7" r="1.45" fill="#78787c"/>
<circle cx="111.8" cy="437.2" r="1.45" fill="#78787c"/>
<circle cx="107.2" cy="450.5" r="1.45" fill="#78787c"/>
<circle cx="106.4" cy="457.2" r="1.45" fill="#78787c"/>
<circle cx="107.2" cy="470.5" r="1.45" fill="#78787c"/>
<circle cx="118.1" cy="433.4" r="1.45" fill="#78787c"/>
<circle cx="118.1" cy="450.5" r="1.45" fill="#78787c"/>
<circle cx="128.9" cy="429.5" r="1.45" fill="#78787c"/>
<circle cx="135.3" cy="446.6" r="1.45" fill="#78787c"/>
<circle cx="169.4" cy="437.5" r="1.45" fill="#78787c"/>
<circle cx="171.8" cy="485.2" r="1.45" fill="#78787c"/>
<circle cx="197.3" cy="448.8" r="1.45" fill="#78787c"/>
<circle cx="197.8" cy="456.9" r="1.45" fill="#78787c"/>
<circle cx="198" cy="466.3" r="1.45" fill="#78787c"/>
<circle cx="212.6" cy="431.6" r="1.45" fill="#78787c"/>
<circle cx="215" cy="459.4" r="1.45" fill="#78787c"/>
<circle cx="226.3" cy="430.9" r="1.45" fill="#78787c"/>
<circle cx="224" cy="440.3" r="1.45" fill="#78787c"/>
<circle cx="226.3" cy="477.2" r="1.45" fill="#78787c"/>
<circle cx="226.8" cy="491.3" r="1.45" fill="#78787c"/>
<rect x="82.4" y="429.6" width="2.6" height="2.8" fill="#fbf8fa" stroke="#8a8a90" stroke-width="0.35"/><rect x="82.4" y="429.6" width="2.6" height="2.8" fill="none" stroke="#5e5e64" stroke-width="0.55"/>
<rect x="93.7" y="455.3" width="2.6" height="2.8" fill="#fbf8fa" stroke="#8a8a90" stroke-width="0.35"/><rect x="93.7" y="455.3" width="2.6" height="2.8" fill="none" stroke="#5e5e64" stroke-width="0.55"/>
<rect x="128.7" y="418.4" width="2.6" height="2.8" fill="#fbf8fa" stroke="#8a8a90" stroke-width="0.35"/><rect x="128.7" y="418.4" width="2.6" height="2.8" fill="none" stroke="#5e5e64" stroke-width="0.55"/>
<rect x="128.4" y="444.4" width="2.6" height="2.8" fill="#fbf8fa" stroke="#8a8a90" stroke-width="0.35"/><rect x="128.4" y="444.4" width="2.6" height="2.8" fill="none" stroke="#5e5e64" stroke-width="0.55"/>
<rect x="150.1" y="420.6" width="2.6" height="2.8" fill="#fbf8fa" stroke="#8a8a90" stroke-width="0.35"/><rect x="150.1" y="420.6" width="2.6" height="2.8" fill="none" stroke="#5e5e64" stroke-width="0.55"/>
<rect x="169.9" y="429.5" width="2.6" height="2.8" fill="#f0d0d6" stroke="#8a8a90" stroke-width="0.35"/><rect x="169.9" y="429.5" width="2.6" height="2.8" fill="none" stroke="#b8505a" stroke-width="0.55"/>
<rect x="168.8" y="453.3" width="2.6" height="2.8" fill="#fbf8fa" stroke="#8a8a90" stroke-width="0.35"/><rect x="168.8" y="453.3" width="2.6" height="2.8" fill="none" stroke="#5e5e64" stroke-width="0.55"/>
<rect x="181.8" y="430.9" width="2.6" height="2.8" fill="#fbf8fa" stroke="#8a8a90" stroke-width="0.35"/><rect x="181.8" y="430.9" width="2.6" height="2.8" fill="none" stroke="#5e5e64" stroke-width="0.55"/>
<rect x="180.6" y="438.9" width="2.6" height="2.8" fill="#fbf8fa" stroke="#8a8a90" stroke-width="0.35"/><rect x="180.6" y="438.9" width="2.6" height="2.8" fill="none" stroke="#5e5e64" stroke-width="0.55"/>
<rect x="180.6" y="458.5" width="2.6" height="2.8" fill="#fbf8fa" stroke="#8a8a90" stroke-width="0.35"/><rect x="180.6" y="458.5" width="2.6" height="2.8" fill="none" stroke="#5e5e64" stroke-width="0.55"/>
<rect x="180.6" y="467.5" width="2.6" height="2.8" fill="#fbf8fa" stroke="#8a8a90" stroke-width="0.35"/><rect x="180.6" y="467.5" width="2.6" height="2.8" fill="none" stroke="#5e5e64" stroke-width="0.55"/>
<rect x="196" y="430.2" width="2.6" height="2.8" fill="#f0d0d6" stroke="#8a8a90" stroke-width="0.35"/><rect x="196" y="430.2" width="2.6" height="2.8" fill="none" stroke="#b8505a" stroke-width="0.55"/>
<rect x="203.8" y="447.4" width="2.6" height="2.8" fill="#f0d0d6" stroke="#8a8a90" stroke-width="0.35"/><rect x="203.8" y="447.4" width="2.6" height="2.8" fill="none" stroke="#b8505a" stroke-width="0.55"/>
<rect x="212.5" y="438" width="2.6" height="2.8" fill="#fbf8fa" stroke="#8a8a90" stroke-width="0.35"/><rect x="212.5" y="438" width="2.6" height="2.8" fill="none" stroke="#5e5e64" stroke-width="0.55"/>
<rect x="213" y="451.4" width="2.6" height="2.8" fill="#fbf8fa" stroke="#8a8a90" stroke-width="0.35"/><rect x="213" y="451.4" width="2.6" height="2.8" fill="none" stroke="#5e5e64" stroke-width="0.55"/>
<rect x="223.9" y="453.3" width="2.6" height="2.8" fill="#f0d0d6" stroke="#8a8a90" stroke-width="0.35"/><rect x="226.5" y="453.3" width="2.6" height="2.8" fill="#f0d0d6" stroke="#8a8a90" stroke-width="0.35"/><rect x="223.9" y="453.3" width="5.2" height="2.8" fill="none" stroke="#5e5e64" stroke-width="0.55"/>
<rect x="237.3" y="430.2" width="2.6" height="2.8" fill="#f0d0d6" stroke="#8a8a90" stroke-width="0.35"/><rect x="237.3" y="430.2" width="2.6" height="2.8" fill="none" stroke="#b8505a" stroke-width="0.55"/>
<rect x="93.7" y="466.6" width="2.6" height="1.9" fill="#fbf8fa" stroke="#8a8a90" stroke-width="0.35"/><rect x="93.7" y="466.6" width="2.6" height="1.9" fill="none" stroke="#5e5e64" stroke-width="0.55"/><rect x="93.7" y="468.5" width="2.6" height="1.9" fill="#fbf8fa" stroke="#8a8a90" stroke-width="0.35"/><rect x="93.7" y="468.5" width="2.6" height="1.9" fill="none" stroke="#5e5e64" stroke-width="0.55"/>
<rect x="117.6" y="420.2" width="2.6" height="2" fill="#fbf8fa" stroke="#8a8a90" stroke-width="0.35"/><rect x="117.6" y="420.2" width="2.6" height="2" fill="none" stroke="#5e5e64" stroke-width="0.55"/><rect x="117.6" y="422.2" width="2.6" height="2" fill="#fbf8fa" stroke="#8a8a90" stroke-width="0.35"/><rect x="117.6" y="422.2" width="2.6" height="2" fill="none" stroke="#5e5e64" stroke-width="0.55"/>
<rect x="94.2" y="438.6" width="2.3" height="2.2" fill="#fbf8fa" stroke="#8a8a90" stroke-width="0.35"/><rect x="96.5" y="438.6" width="2.3" height="2.2" fill="#f0d0d6" stroke="#8a8a90" stroke-width="0.35"/><rect x="98.8" y="438.6" width="2.3" height="2.2" fill="#fbf8fa" stroke="#8a8a90" stroke-width="0.35"/><rect x="94.2" y="438.6" width="6.9" height="2.2" fill="none" stroke="#5e5e64" stroke-width="0.55"/><rect x="94.2" y="440.8" width="2.3" height="2.2" fill="#f0d0d6" stroke="#8a8a90" stroke-width="0.35"/><rect x="96.5" y="440.8" width="2.3" height="2.2" fill="#fbf8fa" stroke="#8a8a90" stroke-width="0.35"/><rect x="94.2" y="440.8" width="4.6" height="2.2" fill="none" stroke="#5e5e64" stroke-width="0.55"/>
<rect x="139.9" y="430.4" width="2.3" height="2.2" fill="#fbf8fa" stroke="#8a8a90" stroke-width="0.35"/><rect x="142.2" y="430.4" width="2.3" height="2.2" fill="#fbf8fa" stroke="#8a8a90" stroke-width="0.35"/><rect x="139.9" y="430.4" width="4.6" height="2.2" fill="none" stroke="#5e5e64" stroke-width="0.55"/><rect x="139.9" y="432.6" width="2.3" height="2.2" fill="#fbf8fa" stroke="#8a8a90" stroke-width="0.35"/><rect x="139.9" y="432.6" width="2.3" height="2.2" fill="none" stroke="#5e5e64" stroke-width="0.55"/>
<text x="86" y="499.3" font-size="3.3" font-family='"Liberation Sans", sans-serif' font-weight="normal" text-anchor="middle" fill="#444">Glu</text>
<text x="86" y="502.9" font-size="3.3" font-family='"Liberation Sans", sans-serif' font-weight="normal" text-anchor="middle" fill="#444">Pro</text>
<text x="86" y="506.5" font-size="3.3" font-family='"Liberation Sans", sans-serif' font-weight="normal" text-anchor="middle" fill="#444">Arg</text>
<text x="86" y="510.1" font-size="3.3" font-family='"Liberation Sans", sans-serif' font-weight="normal" text-anchor="middle" fill="#444">Hyd</text>
<text x="86" y="513.7" font-size="3.3" font-family='"Liberation Sans", sans-serif' font-weight="normal" text-anchor="middle" fill="#444">misc</text>
<text x="97.8" y="499.3" font-size="3.3" font-family='"Liberation Sans", sans-serif' font-weight="normal" text-anchor="middle" fill="#444">Asn</text>
<text x="97.8" y="502.9" font-size="3.3" font-family='"Liberation Sans", sans-serif' font-weight="normal" text-anchor="middle" fill="#444">Thr</text>
<text x="97.8" y="506.5" font-size="3.3" font-family='"Liberation Sans", sans-serif' font-weight="normal" text-anchor="middle" fill="#444">Met</text>
<text x="97.8" y="510.1" font-size="3.3" font-family='"Liberation Sans", sans-serif' font-weight="normal" text-anchor="middle" fill="#444">Lys</text>
<text x="97.8" y="513.7" font-size="3.3" font-family='"Liberation Sans", sans-serif' font-weight="normal" text-anchor="middle" fill="#444">misc</text>
<text x="109.2" y="499.3" font-size="3.3" font-family='"Liberation Sans", sans-serif' font-weight="normal" text-anchor="middle" fill="#444">Val</text>
<text x="109.2" y="502.9" font-size="3.3" font-family='"Liberation Sans", sans-serif' font-weight="normal" text-anchor="middle" fill="#444">Leu</text>
<text x="109.2" y="506.5" font-size="3.3" font-family='"Liberation Sans", sans-serif' font-weight="normal" text-anchor="middle" fill="#444">Ile</text>
<text x="120.8" y="499.3" font-size="3.3" font-family='"Liberation Sans", sans-serif' font-weight="normal" text-anchor="middle" fill="#444">Ser</text>
<text x="120.8" y="502.9" font-size="3.3" font-family='"Liberation Sans", sans-serif' font-weight="normal" text-anchor="middle" fill="#444">Gly</text>
<text x="120.8" y="506.5" font-size="3.3" font-family='"Liberation Sans", sans-serif' font-weight="normal" text-anchor="middle" fill="#444">Cys</text>
<text x="120.8" y="510.1" font-size="3.3" font-family='"Liberation Sans", sans-serif' font-weight="normal" text-anchor="middle" fill="#444">misc</text>
<text x="136.1" y="499.3" font-size="3.3" font-family='"Liberation Sans", sans-serif' font-weight="normal" text-anchor="middle" fill="#444">Phe</text>
<text x="136.1" y="502.9" font-size="3.3" font-family='"Liberation Sans", sans-serif' font-weight="normal" text-anchor="middle" fill="#444">Tyr</text>
<text x="136.1" y="506.5" font-size="3.3" font-family='"Liberation Sans", sans-serif' font-weight="normal" text-anchor="middle" fill="#444">Trp</text>
<text x="136.1" y="510.1" font-size="3.3" font-family='"Liberation Sans", sans-serif' font-weight="normal" text-anchor="middle" fill="#444">misc</text>
<text x="153.2" y="499.3" font-size="3.3" font-family='"Liberation Sans", sans-serif' font-weight="normal" text-anchor="middle" fill="#444">His</text>
<text x="172.1" y="499.3" font-size="3.3" font-family='"Liberation Sans", sans-serif' font-weight="normal" text-anchor="middle" fill="#444">Gln</text>
<text x="172.1" y="502.9" font-size="3.3" font-family='"Liberation Sans", sans-serif' font-weight="normal" text-anchor="middle" fill="#444">Pro</text>
<text x="172.1" y="506.5" font-size="3.3" font-family='"Liberation Sans", sans-serif' font-weight="normal" text-anchor="middle" fill="#444">Arg</text>
<text x="172.1" y="510.1" font-size="3.3" font-family='"Liberation Sans", sans-serif' font-weight="normal" text-anchor="middle" fill="#444">Hyd</text>
<text x="172.1" y="513.7" font-size="3.3" font-family='"Liberation Sans", sans-serif' font-weight="normal" text-anchor="middle" fill="#444">misc</text>
<text x="185.5" y="499.3" font-size="3.3" font-family='"Liberation Sans", sans-serif' font-weight="normal" text-anchor="middle" fill="#444">Asn</text>
<text x="185.5" y="502.9" font-size="3.3" font-family='"Liberation Sans", sans-serif' font-weight="normal" text-anchor="middle" fill="#444">Thr</text>
<text x="185.5" y="506.5" font-size="3.3" font-family='"Liberation Sans", sans-serif' font-weight="normal" text-anchor="middle" fill="#444">Met</text>
<text x="185.5" y="510.1" font-size="3.3" font-family='"Liberation Sans", sans-serif' font-weight="normal" text-anchor="middle" fill="#444">Lys</text>
<text x="185.5" y="513.7" font-size="3.3" font-family='"Liberation Sans", sans-serif' font-weight="normal" text-anchor="middle" fill="#444">misc</text>
<text x="201.2" y="499.3" font-size="3.3" font-family='"Liberation Sans", sans-serif' font-weight="normal" text-anchor="middle" fill="#444">Val</text>
<text x="201.2" y="502.9" font-size="3.3" font-family='"Liberation Sans", sans-serif' font-weight="normal" text-anchor="middle" fill="#444">Leu</text>
<text x="201.2" y="506.5" font-size="3.3" font-family='"Liberation Sans", sans-serif' font-weight="normal" text-anchor="middle" fill="#444">Ile</text>
<text x="215" y="499.3" font-size="3.3" font-family='"Liberation Sans", sans-serif' font-weight="normal" text-anchor="middle" fill="#444">Ser</text>
<text x="215" y="502.9" font-size="3.3" font-family='"Liberation Sans", sans-serif' font-weight="normal" text-anchor="middle" fill="#444">Gly</text>
<text x="215" y="506.5" font-size="3.3" font-family='"Liberation Sans", sans-serif' font-weight="normal" text-anchor="middle" fill="#444">Cys</text>
<text x="215" y="510.1" font-size="3.3" font-family='"Liberation Sans", sans-serif' font-weight="normal" text-anchor="middle" fill="#444">misc</text>
<text x="226.5" y="499.3" font-size="3.3" font-family='"Liberation Sans", sans-serif' font-weight="normal" text-anchor="middle" fill="#444">Phe</text>
<text x="226.5" y="502.9" font-size="3.3" font-family='"Liberation Sans", sans-serif' font-weight="normal" text-anchor="middle" fill="#444">Tyr</text>
<text x="226.5" y="506.5" font-size="3.3" font-family='"Liberation Sans", sans-serif' font-weight="normal" text-anchor="middle" fill="#444">Trp</text>
<text x="226.5" y="510.1" font-size="3.3" font-family='"Liberation Sans", sans-serif' font-weight="normal" text-anchor="middle" fill="#444">misc</text>
<text x="237.7" y="499.3" font-size="3.3" font-family='"Liberation Sans", sans-serif' font-weight="normal" text-anchor="middle" fill="#444">His</text>
<polygon points="229.7,409.2 237.2,405.2 293.5,405.2 293.5,413.2 237.2,413.2" fill="#b1b1b5" stroke="#96969b" stroke-width="0.6" stroke-linejoin="round"/>
<rect x="244" y="407.6" width="2.4" height="2.4" fill="#fbf8fa" stroke="#8a8a90" stroke-width="0.35"/><rect x="246.4" y="407.6" width="2.4" height="2.4" fill="#f0d0d6" stroke="#8a8a90" stroke-width="0.35"/><rect x="244" y="407.6" width="4.8" height="2.4" fill="none" stroke="#5e5e64" stroke-width="0.55"/>
<circle cx="277.4" cy="408.7" r="1.2" fill="#78787c"/>
<polygon points="256.4,414.4 280,414.4 284.5,418.3 280,422.2 256.4,422.2" fill="#dcdce0" stroke="#c8c8cc" stroke-width="0.6" stroke-linejoin="round"/>
<circle cx="264.9" cy="418.3" r="1.2" fill="#78787c"/>
<polygon points="251,428.9 258,425 293.5,425 293.5,432.8 258,432.8" fill="#b1b1b5" stroke="#96969b" stroke-width="0.6" stroke-linejoin="round"/>
<rect x="259.3" y="427.8" width="2.4" height="2.4" fill="#cdd0f0" stroke="#8a8a90" stroke-width="0.35"/><rect x="261.7" y="427.8" width="2.4" height="2.4" fill="#fbf8fa" stroke="#8a8a90" stroke-width="0.35"/><rect x="259.3" y="427.8" width="4.8" height="2.4" fill="none" stroke="#5e5e64" stroke-width="0.55"/>
<rect x="248.1" y="435.1" width="45.4" height="9" rx="2" fill="#b1b1b5" stroke="#96969b" stroke-width="0.6"/>
<rect x="252.4" y="436.9" width="2.3" height="2.4" fill="#fbf8fa" stroke="#8a8a90" stroke-width="0.35"/><rect x="254.7" y="436.9" width="2.3" height="2.4" fill="#cdd0f0" stroke="#8a8a90" stroke-width="0.35"/><rect x="257" y="436.9" width="2.3" height="2.4" fill="#fbf8fa" stroke="#8a8a90" stroke-width="0.35"/><rect x="259.3" y="436.9" width="2.3" height="2.4" fill="#fbf8fa" stroke="#8a8a90" stroke-width="0.35"/><rect x="261.6" y="436.9" width="2.3" height="2.4" fill="#fbf8fa" stroke="#8a8a90" stroke-width="0.35"/><rect x="252.4" y="436.9" width="11.5" height="2.4" fill="none" stroke="#5e5e64" stroke-width="0.55"/>
<rect x="248.1" y="445.8" width="47.3" height="44.8" rx="7" fill="#b1b1b5" stroke="#96969b" stroke-width="0.6"/>
<polygon points="250.3,448.8 258.8,448.8 258.8,480 254.6,485.9 250.3,480" fill="#b1b1b5" stroke="#909094" stroke-width="0.6" stroke-linejoin="round"/>
<rect x="260.4" y="448.1" width="23.2" height="11.4" rx="2.5" fill="#b1b1b5" stroke="#909094" stroke-width="0.6"/>
<rect x="260.4" y="473.6" width="23.2" height="13" rx="2.5" fill="#b1b1b5" stroke="#909094" stroke-width="0.6"/>
<polygon points="288.5,451 292.3,455.2 292.3,479 284.7,479 284.7,455.2" fill="#e6e6ea" stroke="#c8c8cc" stroke-width="0.6" stroke-linejoin="round"/>
<rect x="252.2" y="452.6" width="2.4" height="2.2" fill="#f0d0d6" stroke="#8a8a90" stroke-width="0.35"/><rect x="254.6" y="452.6" width="2.4" height="2.2" fill="#fbf8fa" stroke="#8a8a90" stroke-width="0.35"/><rect x="252.2" y="452.6" width="4.8" height="2.2" fill="none" stroke="#5e5e64" stroke-width="0.55"/>
<rect x="252.2" y="465.8" width="2.4" height="2.2" fill="#fbf8fa" stroke="#8a8a90" stroke-width="0.35"/><rect x="254.6" y="465.8" width="2.4" height="2.2" fill="#fbf8fa" stroke="#8a8a90" stroke-width="0.35"/><rect x="252.2" y="465.8" width="4.8" height="2.2" fill="none" stroke="#5e5e64" stroke-width="0.55"/>
<rect x="262.3" y="450.5" width="2.4" height="2.4" fill="#fbf8fa" stroke="#8a8a90" stroke-width="0.35"/><rect x="264.7" y="450.5" width="2.4" height="2.4" fill="#f0d0d6" stroke="#8a8a90" stroke-width="0.35"/><rect x="267.1" y="450.5" width="2.4" height="2.4" fill="#fbf8fa" stroke="#8a8a90" stroke-width="0.35"/><rect x="269.5" y="450.5" width="2.4" height="2.4" fill="#f0d0d6" stroke="#8a8a90" stroke-width="0.35"/><rect x="271.9" y="450.5" width="2.4" height="2.4" fill="#f0d0d6" stroke="#8a8a90" stroke-width="0.35"/><rect x="274.3" y="450.5" width="2.4" height="2.4" fill="#a3141c" stroke="#8a8a90" stroke-width="0.35"/><rect x="276.7" y="450.5" width="2.4" height="2.4" fill="#cdd0f0" stroke="#8a8a90" stroke-width="0.35"/><rect x="279.1" y="450.5" width="2.4" height="2.4" fill="#fbf8fa" stroke="#8a8a90" stroke-width="0.35"/><rect x="262.3" y="450.5" width="19.2" height="2.4" fill="none" stroke="#5e5e64" stroke-width="0.55"/>
<rect x="262.8" y="462.8" width="2.4" height="2.4" fill="#cdd0f0" stroke="#8a8a90" stroke-width="0.35"/><rect x="265.2" y="462.8" width="2.4" height="2.4" fill="#fbf8fa" stroke="#8a8a90" stroke-width="0.35"/><rect x="267.6" y="462.8" width="2.4" height="2.4" fill="#cdd0f0" stroke="#8a8a90" stroke-width="0.35"/><rect x="270" y="462.8" width="2.4" height="2.4" fill="#fbf8fa" stroke="#8a8a90" stroke-width="0.35"/><rect x="272.4" y="462.8" width="2.4" height="2.4" fill="#cdd0f0" stroke="#8a8a90" stroke-width="0.35"/><rect x="274.8" y="462.8" width="2.4" height="2.4" fill="#fbf8fa" stroke="#8a8a90" stroke-width="0.35"/><rect x="277.2" y="462.8" width="2.4" height="2.4" fill="#fbf8fa" stroke="#8a8a90" stroke-width="0.35"/><rect x="279.6" y="462.8" width="2.4" height="2.4" fill="#cdd0f0" stroke="#8a8a90" stroke-width="0.35"/><rect x="262.8" y="462.8" width="19.2" height="2.4" fill="none" stroke="#5e5e64" stroke-width="0.55"/>
<rect x="262.3" y="475.8" width="2.6" height="2.3" fill="#fbf8fa" stroke="#8a8a90" stroke-width="0.35"/><rect x="262.3" y="475.8" width="2.6" height="2.3" fill="none" stroke="#5e5e64" stroke-width="0.55"/>
<rect x="285.2" y="456.9" width="2.4" height="2.3" fill="#cdd0f0" stroke="#8a8a90" stroke-width="0.35"/><rect x="287.6" y="456.9" width="2.4" height="2.3" fill="#fbf8fa" stroke="#8a8a90" stroke-width="0.35"/><rect x="290" y="456.9" width="2.4" height="2.3" fill="#fbf8fa" stroke="#8a8a90" stroke-width="0.35"/><rect x="285.2" y="456.9" width="7.2" height="2.3" fill="none" stroke="#5e5e64" stroke-width="0.55"/>
<text x="300.6" y="412.2" font-size="7.1" font-family='"Liberation Sans", sans-serif' font-weight="bold" text-anchor="start" fill="#1a1a1a">NO<tspan font-size="5" dy="1.6">3</tspan></text>
<text x="306.5" y="420" font-size="4" font-family='"Liberation Sans", sans-serif' font-weight="bold" text-anchor="start" fill="#1a1a1a">NH<tspan font-size="2.5" dy="1">4</tspan></text>
<text x="300.6" y="431.4" font-size="7.1" font-family='"Liberation Sans", sans-serif' font-weight="bold" text-anchor="start" fill="#1a1a1a">SO<tspan font-size="5" dy="1.6">4</tspan></text>
<text x="313.9" y="439.8" font-size="4.7" font-family='"Liberation Sans", sans-serif' font-weight="bold" text-anchor="end" fill="#1a1a1a">C-1</text>
<text x="314.2" y="444.4" font-size="5.0" font-family='"Liberation Sans", sans-serif' font-weight="bold" text-anchor="end" fill="#1a1a1a">Metab</text>
<text x="314.4" y="459.6" font-size="5.3" font-family='"Liberation Sans", sans-serif' font-weight="bold" text-anchor="end" fill="#1a1a1a">Nucleo-</text>
<text x="314.4" y="466.1" font-size="5.2" font-family='"Liberation Sans", sans-serif' font-weight="bold" text-anchor="end" fill="#1a1a1a">tides</text>
<rect x="9.4" y="266.7" width="1.5" height="3" rx="0.5" fill="#9cc4b6"/>
<rect x="9.4" y="513.8" width="1.6" height="3.5" rx="0.5" fill="#a6cabd"/>
<text x="343.3" y="262.4" font-family='"Liberation Serif", serif' font-weight="bold" font-size="17" fill="#111">D</text>
<rect x="353.8" y="268.2" width="330" height="236.2" rx="11" fill="#ebebeb" stroke="#1e1e1e" stroke-width="1.4"/>
<rect x="530" y="270.6" width="150.6" height="108" rx="12" fill="#bdbdbd" stroke="#1e1e1e" stroke-width="1.35"/>
<path d="M471.4 381.2H670.7A10 10 0 0 1 680.7 391.2V493.2A10 10 0 0 1 670.7 503.2H427.8A11 11 0 0 1 416.8 492.2V446.4A11 11 0 0 1 427.8 435.4H454.4A5 5 0 0 0 459.4 430.4V393.2A12 12 0 0 1 471.4 381.2Z" fill="#e9e9e9" stroke="#1e1e1e" stroke-width="1.35"/>
<rect x="363.4" y="269.9" width="40.1" height="15.6" rx="2" fill="#fff" stroke="#4a4a4a" stroke-width="0.6"/><text transform="translate(383.4,276.4) scale(1,1.1)" font-size="5.45" font-family='"Liberation Serif", serif' text-anchor="middle" fill="#1a1a1a" stroke="#1a1a1a" stroke-width="0.12">Transcription-</text><text transform="translate(383.4,282.9) scale(1,1.1)" font-size="5.45" font-family='"Liberation Serif", serif' text-anchor="middle" fill="#1a1a1a" stroke="#1a1a1a" stroke-width="0.12">factor</text>
<rect x="410.8" y="269.9" width="40.2" height="15.6" rx="2" fill="#fff" stroke="#4a4a4a" stroke-width="0.6"/><text transform="translate(430.9,276.4) scale(1,1.1)" font-size="5.45" font-family='"Liberation Serif", serif' text-anchor="middle" fill="#1a1a1a" stroke="#1a1a1a" stroke-width="0.12">Protein</text><text transform="translate(430.9,282.9) scale(1,1.1)" font-size="5.45" font-family='"Liberation Serif", serif' text-anchor="middle" fill="#1a1a1a" stroke="#1a1a1a" stroke-width="0.12">modification</text>
<rect x="462.6" y="269.9" width="40.4" height="15.6" rx="2" fill="#fff" stroke="#4a4a4a" stroke-width="0.6"/><text transform="translate(482.8,276.4) scale(1,1.1)" font-size="5.45" font-family='"Liberation Serif", serif' text-anchor="middle" fill="#1a1a1a" stroke="#1a1a1a" stroke-width="0.12">Protein</text><text transform="translate(482.8,282.9) scale(1,1.1)" font-size="5.45" font-family='"Liberation Serif", serif' text-anchor="middle" fill="#1a1a1a" stroke="#1a1a1a" stroke-width="0.12">degradation</text>
<rect x="364.4" y="287.3" width="1.6" height="1.7" fill="#e8aab6" stroke="#c0c0dc" stroke-width="0.3"/><rect x="366" y="287.3" width="1.6" height="1.7" fill="#e8aab6" stroke="#c0c0dc" stroke-width="0.3"/><rect x="367.6" y="287.3" width="1.6" height="1.7" fill="#ffffff" stroke="#c0c0dc" stroke-width="0.3"/><rect x="369.2" y="287.3" width="1.6" height="1.7" fill="#ffffff" stroke="#c0c0dc" stroke-width="0.3"/><rect x="370.8" y="287.3" width="1.6" height="1.7" fill="#ffffff" stroke="#c0c0dc" stroke-width="0.3"/><rect x="372.4" y="287.3" width="1.6" height="1.7" fill="#ffffff" stroke="#c0c0dc" stroke-width="0.3"/><rect x="374" y="287.3" width="1.6" height="1.7" fill="#ffffff" stroke="#c0c0dc" stroke-width="0.3"/><rect x="375.6" y="287.3" width="1.6" height="1.7" fill="#ffffff" stroke="#c0c0dc" stroke-width="0.3"/><rect x="377.2" y="287.3" width="1.6" height="1.7" fill="#e8aab6" stroke="#c0c0dc" stroke-width="0.3"/><rect x="378.8" y="287.3" width="1.6" height="1.7" fill="#ffffff" stroke="#c0c0dc" stroke-width="0.3"/><rect x="380.4" y="287.3" width="1.6" height="1.7" fill="#ffffff" stroke="#c0c0dc" stroke-width="0.3"/><rect x="382" y="287.3" width="1.6" height="1.7" fill="#ffffff" stroke="#c0c0dc" stroke-width="0.3"/><rect x="383.6" y="287.3" width="1.6" height="1.7" fill="#ffffff" stroke="#c0c0dc" stroke-width="0.3"/><rect x="385.2" y="287.3" width="1.6" height="1.7" fill="#e8aab6" stroke="#c0c0dc" stroke-width="0.3"/><rect x="386.8" y="287.3" width="1.6" height="1.7" fill="#e8aab6" stroke="#c0c0dc" stroke-width="0.3"/><rect x="388.4" y="287.3" width="1.6" height="1.7" fill="#ffffff" stroke="#c0c0dc" stroke-width="0.3"/><rect x="390" y="287.3" width="1.6" height="1.7" fill="#c0202c" stroke="#c0c0dc" stroke-width="0.3"/><rect x="391.6" y="287.3" width="1.6" height="1.7" fill="#ffffff" stroke="#c0c0dc" stroke-width="0.3"/><rect x="393.2" y="287.3" width="1.6" height="1.7" fill="#e8aab6" stroke="#c0c0dc" stroke-width="0.3"/><rect x="394.8" y="287.3" width="1.6" height="1.7" fill="#f0cdd6" stroke="#c0c0dc" stroke-width="0.3"/><rect x="396.4" y="287.3" width="1.6" height="1.7" fill="#ffffff" stroke="#c0c0dc" stroke-width="0.3"/><rect x="398" y="287.3" width="1.6" height="1.7" fill="#aeb6ea" stroke="#c0c0dc" stroke-width="0.3"/><rect x="399.6" y="287.3" width="1.6" height="1.7" fill="#ffffff" stroke="#c0c0dc" stroke-width="0.3"/><rect x="401.2" y="287.3" width="1.6" height="1.7" fill="#ffffff" stroke="#c0c0dc" stroke-width="0.3"/><rect x="364.4" y="289" width="1.6" height="1.7" fill="#ffffff" stroke="#c0c0dc" stroke-width="0.3"/><rect x="366" y="289" width="1.6" height="1.7" fill="#ffffff" stroke="#c0c0dc" stroke-width="0.3"/><rect x="367.6" y="289" width="1.6" height="1.7" fill="#ffffff" stroke="#c0c0dc" stroke-width="0.3"/><rect x="369.2" y="289" width="1.6" height="1.7" fill="#ffffff" stroke="#c0c0dc" stroke-width="0.3"/><rect x="370.8" y="289" width="1.6" height="1.7" fill="#ffffff" stroke="#c0c0dc" stroke-width="0.3"/><rect x="372.4" y="289" width="1.6" height="1.7" fill="#ffffff" stroke="#c0c0dc" stroke-width="0.3"/><rect x="374" y="289" width="1.6" height="1.7" fill="#ffffff" stroke="#c0c0dc" stroke-width="0.3"/><rect x="375.6" y="289" width="1.6" height="1.7" fill="#f0cdd6" stroke="#c0c0dc" stroke-width="0.3"/><rect x="377.2" y="289" width="1.6" height="1.7" fill="#ffffff" stroke="#c0c0dc" stroke-width="0.3"/><rect x="378.8" y="289" width="1.6" height="1.7" fill="#2a2ab8" stroke="#c0c0dc" stroke-width="0.3"/><rect x="380.4" y="289" width="1.6" height="1.7" fill="#ffffff" stroke="#c0c0dc" stroke-width="0.3"/><rect x="382" y="289" width="1.6" height="1.7" fill="#ffffff" stroke="#c0c0dc" stroke-width="0.3"/><rect x="383.6" y="289" width="1.6" height="1.7" fill="#ffffff" stroke="#c0c0dc" stroke-width="0.3"/><rect x="385.2" y="289" width="1.6" height="1.7" fill="#ffffff" stroke="#c0c0dc" stroke-width="0.3"/><rect x="386.8" y="289" width="1.6" height="1.7" fill="#ffffff" stroke="#c0c0dc" stroke-width="0.3"/><rect x="388.4" y="289" width="1.6" height="1.7" fill="#ffffff" stroke="#c0c0dc" stroke-width="0.3"/><rect x="390" y="289" width="1.6" height="1.7" fill="#ffffff" stroke="#c0c0dc" stroke-width="0.3"/><rect x="391.6" y="289" width="1.6" height="1.7" fill="#ffffff" stroke="#c0c0dc" stroke-width="0.3"/><rect x="393.2" y="289" width="1.6" height="1.7" fill="#f0cdd6" stroke="#c0c0dc" stroke-width="0.3"/><rect x="394.8" y="289" width="1.6" height="1.7" fill="#ffffff" stroke="#c0c0dc" stroke-width="0.3"/><rect x="396.4" y="289" width="1.6" height="1.7" fill="#ffffff" stroke="#c0c0dc" stroke-width="0.3"/><rect x="398" y="289" width="1.6" height="1.7" fill="#ffffff" stroke="#c0c0dc" stroke-width="0.3"/><rect x="399.6" y="289" width="1.6" height="1.7" fill="#ffffff" stroke="#c0c0dc" stroke-width="0.3"/><rect x="401.2" y="289" width="1.6" height="1.7" fill="#ffffff" stroke="#c0c0dc" stroke-width="0.3"/><rect x="364.4" y="290.7" width="1.6" height="1.7" fill="#f0cdd6" stroke="#c0c0dc" stroke-width="0.3"/><rect x="366" y="290.7" width="1.6" height="1.7" fill="#ffffff" stroke="#c0c0dc" stroke-width="0.3"/><rect x="367.6" y="290.7" width="1.6" height="1.7" fill="#ffffff" stroke="#c0c0dc" stroke-width="0.3"/><rect x="369.2" y="290.7" width="1.6" height="1.7" fill="#ffffff" stroke="#c0c0dc" stroke-width="0.3"/><rect x="370.8" y="290.7" width="1.6" height="1.7" fill="#ffffff" stroke="#c0c0dc" stroke-width="0.3"/><rect x="372.4" y="290.7" width="1.6" height="1.7" fill="#e8aab6" stroke="#c0c0dc" stroke-width="0.3"/><rect x="374" y="290.7" width="1.6" height="1.7" fill="#d2d6f2" stroke="#c0c0dc" stroke-width="0.3"/><rect x="375.6" y="290.7" width="1.6" height="1.7" fill="#e8aab6" stroke="#c0c0dc" stroke-width="0.3"/><rect x="377.2" y="290.7" width="1.6" height="1.7" fill="#ffffff" stroke="#c0c0dc" stroke-width="0.3"/><rect x="378.8" y="290.7" width="1.6" height="1.7" fill="#f0cdd6" stroke="#c0c0dc" stroke-width="0.3"/><rect x="380.4" y="290.7" width="1.6" height="1.7" fill="#ffffff" stroke="#c0c0dc" stroke-width="0.3"/><rect x="382" y="290.7" width="1.6" height="1.7" fill="#f0cdd6" stroke="#c0c0dc" stroke-width="0.3"/><rect x="383.6" y="290.7" width="1.6" height="1.7" fill="#ffffff" stroke="#c0c0dc" stroke-width="0.3"/><rect x="385.2" y="290.7" width="1.6" height="1.7" fill="#ffffff" stroke="#c0c0dc" stroke-width="0.3"/><rect x="386.8" y="290.7" width="1.6" height="1.7" fill="#e8aab6" stroke="#c0c0dc" stroke-width="0.3"/><rect x="388.4" y="290.7" width="1.6" height="1.7" fill="#ffffff" stroke="#c0c0dc" stroke-width="0.3"/><rect x="390" y="290.7" width="1.6" height="1.7" fill="#e8aab6" stroke="#c0c0dc" stroke-width="0.3"/><rect x="391.6" y="290.7" width="1.6" height="1.7" fill="#ffffff" stroke="#c0c0dc" stroke-width="0.3"/><rect x="393.2" y="290.7" width="1.6" height="1.7" fill="#ffffff" stroke="#c0c0dc" stroke-width="0.3"/><rect x="394.8" y="290.7" width="1.6" height="1.7" fill="#ffffff" stroke="#c0c0dc" stroke-width="0.3"/><rect x="396.4" y="290.7" width="1.6" height="1.7" fill="#d2d6f2" stroke="#c0c0dc" stroke-width="0.3"/><rect x="398" y="290.7" width="1.6" height="1.7" fill="#ffffff" stroke="#c0c0dc" stroke-width="0.3"/><rect x="399.6" y="290.7" width="1.6" height="1.7" fill="#d2d6f2" stroke="#c0c0dc" stroke-width="0.3"/><rect x="401.2" y="290.7" width="1.6" height="1.7" fill="#e8aab6" stroke="#c0c0dc" stroke-width="0.3"/><rect x="364.4" y="292.4" width="1.6" height="1.7" fill="#c0202c" stroke="#c0c0dc" stroke-width="0.3"/><rect x="366" y="292.4" width="1.6" height="1.7" fill="#f0cdd6" stroke="#c0c0dc" stroke-width="0.3"/><rect x="367.6" y="292.4" width="1.6" height="1.7" fill="#d2d6f2" stroke="#c0c0dc" stroke-width="0.3"/><rect x="369.2" y="292.4" width="1.6" height="1.7" fill="#f0cdd6" stroke="#c0c0dc" stroke-width="0.3"/><rect x="370.8" y="292.4" width="1.6" height="1.7" fill="#ffffff" stroke="#c0c0dc" stroke-width="0.3"/><rect x="372.4" y="292.4" width="1.6" height="1.7" fill="#d2d6f2" stroke="#c0c0dc" stroke-width="0.3"/><rect x="374" y="292.4" width="1.6" height="1.7" fill="#ffffff" stroke="#c0c0dc" stroke-width="0.3"/><rect x="375.6" y="292.4" width="1.6" height="1.7" fill="#ffffff" stroke="#c0c0dc" stroke-width="0.3"/><rect x="377.2" y="292.4" width="1.6" height="1.7" fill="#d2d6f2" stroke="#c0c0dc" stroke-width="0.3"/><rect x="378.8" y="292.4" width="1.6" height="1.7" fill="#ffffff" stroke="#c0c0dc" stroke-width="0.3"/><rect x="380.4" y="292.4" width="1.6" height="1.7" fill="#ffffff" stroke="#c0c0dc" stroke-width="0.3"/><rect x="382" y="292.4" width="1.6" height="1.7" fill="#ffffff" stroke="#c0c0dc" stroke-width="0.3"/><rect x="383.6" y="292.4" width="1.6" height="1.7" fill="#ffffff" stroke="#c0c0dc" stroke-width="0.3"/><rect x="385.2" y="292.4" width="1.6" height="1.7" fill="#e8aab6" stroke="#c0c0dc" stroke-width="0.3"/><rect x="386.8" y="292.4" width="1.6" height="1.7" fill="#aeb6ea" stroke="#c0c0dc" stroke-width="0.3"/><rect x="388.4" y="292.4" width="1.6" height="1.7" fill="#ffffff" stroke="#c0c0dc" stroke-width="0.3"/><rect x="390" y="292.4" width="1.6" height="1.7" fill="#f0cdd6" stroke="#c0c0dc" stroke-width="0.3"/><rect x="391.6" y="292.4" width="1.6" height="1.7" fill="#ffffff" stroke="#c0c0dc" stroke-width="0.3"/><rect x="393.2" y="292.4" width="1.6" height="1.7" fill="#2a2ab8" stroke="#c0c0dc" stroke-width="0.3"/><rect x="394.8" y="292.4" width="1.6" height="1.7" fill="#d2d6f2" stroke="#c0c0dc" stroke-width="0.3"/><rect x="396.4" y="292.4" width="1.6" height="1.7" fill="#c0202c" stroke="#c0c0dc" stroke-width="0.3"/><rect x="398" y="292.4" width="1.6" height="1.7" fill="#ffffff" stroke="#c0c0dc" stroke-width="0.3"/><rect x="399.6" y="292.4" width="1.6" height="1.7" fill="#ffffff" stroke="#c0c0dc" stroke-width="0.3"/><rect x="401.2" y="292.4" width="1.6" height="1.7" fill="#c0202c" stroke="#c0c0dc" stroke-width="0.3"/><rect x="364.4" y="294.1" width="1.6" height="1.7" fill="#ffffff" stroke="#c0c0dc" stroke-width="0.3"/><rect x="366" y="294.1" width="1.6" height="1.7" fill="#ffffff" stroke="#c0c0dc" stroke-width="0.3"/><rect x="367.6" y="294.1" width="1.6" height="1.7" fill="#e8aab6" stroke="#c0c0dc" stroke-width="0.3"/><rect x="369.2" y="294.1" width="1.6" height="1.7" fill="#d2d6f2" stroke="#c0c0dc" stroke-width="0.3"/><rect x="370.8" y="294.1" width="1.6" height="1.7" fill="#ffffff" stroke="#c0c0dc" stroke-width="0.3"/><rect x="372.4" y="294.1" width="1.6" height="1.7" fill="#aeb6ea" stroke="#c0c0dc" stroke-width="0.3"/><rect x="374" y="294.1" width="1.6" height="1.7" fill="#d2d6f2" stroke="#c0c0dc" stroke-width="0.3"/><rect x="375.6" y="294.1" width="1.6" height="1.7" fill="#c0202c" stroke="#c0c0dc" stroke-width="0.3"/><rect x="377.2" y="294.1" width="1.6" height="1.7" fill="#e8aab6" stroke="#c0c0dc" stroke-width="0.3"/><rect x="378.8" y="294.1" width="1.6" height="1.7" fill="#c0202c" stroke="#c0c0dc" stroke-width="0.3"/><rect x="380.4" y="294.1" width="1.6" height="1.7" fill="#aeb6ea" stroke="#c0c0dc" stroke-width="0.3"/><rect x="382" y="294.1" width="1.6" height="1.7" fill="#ffffff" stroke="#c0c0dc" stroke-width="0.3"/><rect x="383.6" y="294.1" width="1.6" height="1.7" fill="#ffffff" stroke="#c0c0dc" stroke-width="0.3"/><rect x="385.2" y="294.1" width="1.6" height="1.7" fill="#d2d6f2" stroke="#c0c0dc" stroke-width="0.3"/><rect x="386.8" y="294.1" width="1.6" height="1.7" fill="#f0cdd6" stroke="#c0c0dc" stroke-width="0.3"/><rect x="388.4" y="294.1" width="1.6" height="1.7" fill="#ffffff" stroke="#c0c0dc" stroke-width="0.3"/><rect x="390" y="294.1" width="1.6" height="1.7" fill="#2a2ab8" stroke="#c0c0dc" stroke-width="0.3"/><rect x="391.6" y="294.1" width="1.6" height="1.7" fill="#ffffff" stroke="#c0c0dc" stroke-width="0.3"/><rect x="393.2" y="294.1" width="1.6" height="1.7" fill="#f0cdd6" stroke="#c0c0dc" stroke-width="0.3"/><rect x="394.8" y="294.1" width="1.6" height="1.7" fill="#ffffff" stroke="#c0c0dc" stroke-width="0.3"/><rect x="396.4" y="294.1" width="1.6" height="1.7" fill="#ffffff" stroke="#c0c0dc" stroke-width="0.3"/><rect x="398" y="294.1" width="1.6" height="1.7" fill="#e8aab6" stroke="#c0c0dc" stroke-width="0.3"/><rect x="399.6" y="294.1" width="1.6" height="1.7" fill="#f0cdd6" stroke="#c0c0dc" stroke-width="0.3"/><rect x="401.2" y="294.1" width="1.6" height="1.7" fill="#f0cdd6" stroke="#c0c0dc" stroke-width="0.3"/><rect x="364.4" y="295.8" width="1.6" height="1.7" fill="#ffffff" stroke="#c0c0dc" stroke-width="0.3"/><rect x="366" y="295.8" width="1.6" height="1.7" fill="#ffffff" stroke="#c0c0dc" stroke-width="0.3"/><rect x="367.6" y="295.8" width="1.6" height="1.7" fill="#e8aab6" stroke="#c0c0dc" stroke-width="0.3"/><rect x="369.2" y="295.8" width="1.6" height="1.7" fill="#d2d6f2" stroke="#c0c0dc" stroke-width="0.3"/><rect x="370.8" y="295.8" width="1.6" height="1.7" fill="#ffffff" stroke="#c0c0dc" stroke-width="0.3"/><rect x="372.4" y="295.8" width="1.6" height="1.7" fill="#f0cdd6" stroke="#c0c0dc" stroke-width="0.3"/><rect x="374" y="295.8" width="1.6" height="1.7" fill="#e8aab6" stroke="#c0c0dc" stroke-width="0.3"/><rect x="375.6" y="295.8" width="1.6" height="1.7" fill="#ffffff" stroke="#c0c0dc" stroke-width="0.3"/><rect x="377.2" y="295.8" width="1.6" height="1.7" fill="#ffffff" stroke="#c0c0dc" stroke-width="0.3"/><rect x="378.8" y="295.8" width="1.6" height="1.7" fill="#ffffff" stroke="#c0c0dc" stroke-width="0.3"/><rect x="380.4" y="295.8" width="1.6" height="1.7" fill="#f0cdd6" stroke="#c0c0dc" stroke-width="0.3"/><rect x="382" y="295.8" width="1.6" height="1.7" fill="#c0202c" stroke="#c0c0dc" stroke-width="0.3"/><rect x="383.6" y="295.8" width="1.6" height="1.7" fill="#ffffff" stroke="#c0c0dc" stroke-width="0.3"/><rect x="385.2" y="295.8" width="1.6" height="1.7" fill="#aeb6ea" stroke="#c0c0dc" stroke-width="0.3"/><rect x="386.8" y="295.8" width="1.6" height="1.7" fill="#f0cdd6" stroke="#c0c0dc" stroke-width="0.3"/><rect x="388.4" y="295.8" width="1.6" height="1.7" fill="#aeb6ea" stroke="#c0c0dc" stroke-width="0.3"/><rect x="390" y="295.8" width="1.6" height="1.7" fill="#e8aab6" stroke="#c0c0dc" stroke-width="0.3"/><rect x="391.6" y="295.8" width="1.6" height="1.7" fill="#d2d6f2" stroke="#c0c0dc" stroke-width="0.3"/><rect x="393.2" y="295.8" width="1.6" height="1.7" fill="#ffffff" stroke="#c0c0dc" stroke-width="0.3"/>
<rect x="411.2" y="287.2" width="1.6" height="1.7" fill="#ffffff" stroke="#c0c0dc" stroke-width="0.3"/><rect x="412.8" y="287.2" width="1.6" height="1.7" fill="#ffffff" stroke="#c0c0dc" stroke-width="0.3"/><rect x="414.4" y="287.2" width="1.6" height="1.7" fill="#aeb6ea" stroke="#c0c0dc" stroke-width="0.3"/><rect x="416" y="287.2" width="1.6" height="1.7" fill="#d2d6f2" stroke="#c0c0dc" stroke-width="0.3"/><rect x="417.6" y="287.2" width="1.6" height="1.7" fill="#ffffff" stroke="#c0c0dc" stroke-width="0.3"/><rect x="419.2" y="287.2" width="1.6" height="1.7" fill="#c0202c" stroke="#c0c0dc" stroke-width="0.3"/><rect x="420.8" y="287.2" width="1.6" height="1.7" fill="#d2d6f2" stroke="#c0c0dc" stroke-width="0.3"/><rect x="422.4" y="287.2" width="1.6" height="1.7" fill="#c0202c" stroke="#c0c0dc" stroke-width="0.3"/><rect x="424" y="287.2" width="1.6" height="1.7" fill="#ffffff" stroke="#c0c0dc" stroke-width="0.3"/><rect x="425.6" y="287.2" width="1.6" height="1.7" fill="#ffffff" stroke="#c0c0dc" stroke-width="0.3"/><rect x="427.2" y="287.2" width="1.6" height="1.7" fill="#ffffff" stroke="#c0c0dc" stroke-width="0.3"/><rect x="428.8" y="287.2" width="1.6" height="1.7" fill="#aeb6ea" stroke="#c0c0dc" stroke-width="0.3"/><rect x="430.4" y="287.2" width="1.6" height="1.7" fill="#e8aab6" stroke="#c0c0dc" stroke-width="0.3"/><rect x="432" y="287.2" width="1.6" height="1.7" fill="#aeb6ea" stroke="#c0c0dc" stroke-width="0.3"/><rect x="433.6" y="287.2" width="1.6" height="1.7" fill="#ffffff" stroke="#c0c0dc" stroke-width="0.3"/><rect x="435.2" y="287.2" width="1.6" height="1.7" fill="#ffffff" stroke="#c0c0dc" stroke-width="0.3"/><rect x="436.8" y="287.2" width="1.6" height="1.7" fill="#ffffff" stroke="#c0c0dc" stroke-width="0.3"/><rect x="438.4" y="287.2" width="1.6" height="1.7" fill="#ffffff" stroke="#c0c0dc" stroke-width="0.3"/><rect x="440" y="287.2" width="1.6" height="1.7" fill="#ffffff" stroke="#c0c0dc" stroke-width="0.3"/><rect x="441.6" y="287.2" width="1.6" height="1.7" fill="#ffffff" stroke="#c0c0dc" stroke-width="0.3"/><rect x="443.2" y="287.2" width="1.6" height="1.7" fill="#ffffff" stroke="#c0c0dc" stroke-width="0.3"/><rect x="444.8" y="287.2" width="1.6" height="1.7" fill="#f0cdd6" stroke="#c0c0dc" stroke-width="0.3"/><rect x="446.4" y="287.2" width="1.6" height="1.7" fill="#e8aab6" stroke="#c0c0dc" stroke-width="0.3"/><rect x="411.2" y="288.9" width="1.6" height="1.7" fill="#d2d6f2" stroke="#c0c0dc" stroke-width="0.3"/><rect x="412.8" y="288.9" width="1.6" height="1.7" fill="#ffffff" stroke="#c0c0dc" stroke-width="0.3"/><rect x="414.4" y="288.9" width="1.6" height="1.7" fill="#ffffff" stroke="#c0c0dc" stroke-width="0.3"/><rect x="416" y="288.9" width="1.6" height="1.7" fill="#ffffff" stroke="#c0c0dc" stroke-width="0.3"/><rect x="417.6" y="288.9" width="1.6" height="1.7" fill="#c0202c" stroke="#c0c0dc" stroke-width="0.3"/><rect x="419.2" y="288.9" width="1.6" height="1.7" fill="#ffffff" stroke="#c0c0dc" stroke-width="0.3"/><rect x="420.8" y="288.9" width="1.6" height="1.7" fill="#f0cdd6" stroke="#c0c0dc" stroke-width="0.3"/><rect x="422.4" y="288.9" width="1.6" height="1.7" fill="#f0cdd6" stroke="#c0c0dc" stroke-width="0.3"/><rect x="424" y="288.9" width="1.6" height="1.7" fill="#ffffff" stroke="#c0c0dc" stroke-width="0.3"/><rect x="425.6" y="288.9" width="1.6" height="1.7" fill="#aeb6ea" stroke="#c0c0dc" stroke-width="0.3"/><rect x="427.2" y="288.9" width="1.6" height="1.7" fill="#f0cdd6" stroke="#c0c0dc" stroke-width="0.3"/><rect x="428.8" y="288.9" width="1.6" height="1.7" fill="#2a2ab8" stroke="#c0c0dc" stroke-width="0.3"/><rect x="430.4" y="288.9" width="1.6" height="1.7" fill="#ffffff" stroke="#c0c0dc" stroke-width="0.3"/><rect x="432" y="288.9" width="1.6" height="1.7" fill="#d2d6f2" stroke="#c0c0dc" stroke-width="0.3"/><rect x="433.6" y="288.9" width="1.6" height="1.7" fill="#d2d6f2" stroke="#c0c0dc" stroke-width="0.3"/><rect x="435.2" y="288.9" width="1.6" height="1.7" fill="#f0cdd6" stroke="#c0c0dc" stroke-width="0.3"/><rect x="436.8" y="288.9" width="1.6" height="1.7" fill="#f0cdd6" stroke="#c0c0dc" stroke-width="0.3"/><rect x="438.4" y="288.9" width="1.6" height="1.7" fill="#ffffff" stroke="#c0c0dc" stroke-width="0.3"/><rect x="440" y="288.9" width="1.6" height="1.7" fill="#ffffff" stroke="#c0c0dc" stroke-width="0.3"/><rect x="441.6" y="288.9" width="1.6" height="1.7" fill="#ffffff" stroke="#c0c0dc" stroke-width="0.3"/><rect x="443.2" y="288.9" width="1.6" height="1.7" fill="#c0202c" stroke="#c0c0dc" stroke-width="0.3"/><rect x="444.8" y="288.9" width="1.6" height="1.7" fill="#ffffff" stroke="#c0c0dc" stroke-width="0.3"/><rect x="446.4" y="288.9" width="1.6" height="1.7" fill="#ffffff" stroke="#c0c0dc" stroke-width="0.3"/>
<rect x="463.3" y="287" width="1.6" height="1.8" fill="#f0cdd6" stroke="#c0c0dc" stroke-width="0.3"/><rect x="464.9" y="287" width="1.6" height="1.8" fill="#e8aab6" stroke="#c0c0dc" stroke-width="0.3"/><rect x="466.6" y="287" width="1.6" height="1.8" fill="#f0cdd6" stroke="#c0c0dc" stroke-width="0.3"/><rect x="468.2" y="287" width="1.6" height="1.8" fill="#f0cdd6" stroke="#c0c0dc" stroke-width="0.3"/><rect x="469.9" y="287" width="1.6" height="1.8" fill="#ffffff" stroke="#c0c0dc" stroke-width="0.3"/><rect x="471.6" y="287" width="1.6" height="1.8" fill="#c0202c" stroke="#c0c0dc" stroke-width="0.3"/><rect x="473.2" y="287" width="1.6" height="1.8" fill="#f0cdd6" stroke="#c0c0dc" stroke-width="0.3"/><rect x="474.9" y="287" width="1.6" height="1.8" fill="#f0cdd6" stroke="#c0c0dc" stroke-width="0.3"/><rect x="476.5" y="287" width="1.6" height="1.8" fill="#f0cdd6" stroke="#c0c0dc" stroke-width="0.3"/><rect x="478.2" y="287" width="1.6" height="1.8" fill="#ffffff" stroke="#c0c0dc" stroke-width="0.3"/><rect x="479.8" y="287" width="1.6" height="1.8" fill="#e8aab6" stroke="#c0c0dc" stroke-width="0.3"/><rect x="481.4" y="287" width="1.6" height="1.8" fill="#f0cdd6" stroke="#c0c0dc" stroke-width="0.3"/><rect x="483.1" y="287" width="1.6" height="1.8" fill="#f0cdd6" stroke="#c0c0dc" stroke-width="0.3"/><rect x="484.8" y="287" width="1.6" height="1.8" fill="#f0cdd6" stroke="#c0c0dc" stroke-width="0.3"/><rect x="486.4" y="287" width="1.6" height="1.8" fill="#d2d6f2" stroke="#c0c0dc" stroke-width="0.3"/><rect x="488.1" y="287" width="1.6" height="1.8" fill="#f0cdd6" stroke="#c0c0dc" stroke-width="0.3"/><rect x="489.7" y="287" width="1.6" height="1.8" fill="#f0cdd6" stroke="#c0c0dc" stroke-width="0.3"/><rect x="491.4" y="287" width="1.6" height="1.8" fill="#2a2ab8" stroke="#c0c0dc" stroke-width="0.3"/><rect x="493" y="287" width="1.6" height="1.8" fill="#ffffff" stroke="#c0c0dc" stroke-width="0.3"/><rect x="494.7" y="287" width="1.6" height="1.8" fill="#f0cdd6" stroke="#c0c0dc" stroke-width="0.3"/><rect x="496.3" y="287" width="1.6" height="1.8" fill="#d2d6f2" stroke="#c0c0dc" stroke-width="0.3"/><rect x="497.9" y="287" width="1.6" height="1.8" fill="#e8aab6" stroke="#c0c0dc" stroke-width="0.3"/><rect x="463.3" y="288.8" width="1.6" height="1.8" fill="#aeb6ea" stroke="#c0c0dc" stroke-width="0.3"/><rect x="464.9" y="288.8" width="1.6" height="1.8" fill="#f0cdd6" stroke="#c0c0dc" stroke-width="0.3"/><rect x="466.6" y="288.8" width="1.6" height="1.8" fill="#d2d6f2" stroke="#c0c0dc" stroke-width="0.3"/><rect x="468.2" y="288.8" width="1.6" height="1.8" fill="#e8aab6" stroke="#c0c0dc" stroke-width="0.3"/><rect x="469.9" y="288.8" width="1.6" height="1.8" fill="#e8aab6" stroke="#c0c0dc" stroke-width="0.3"/><rect x="471.6" y="288.8" width="1.6" height="1.8" fill="#e8aab6" stroke="#c0c0dc" stroke-width="0.3"/><rect x="473.2" y="288.8" width="1.6" height="1.8" fill="#f0cdd6" stroke="#c0c0dc" stroke-width="0.3"/><rect x="474.9" y="288.8" width="1.6" height="1.8" fill="#e8aab6" stroke="#c0c0dc" stroke-width="0.3"/><rect x="476.5" y="288.8" width="1.6" height="1.8" fill="#e8aab6" stroke="#c0c0dc" stroke-width="0.3"/><rect x="478.2" y="288.8" width="1.6" height="1.8" fill="#f0cdd6" stroke="#c0c0dc" stroke-width="0.3"/><rect x="479.8" y="288.8" width="1.6" height="1.8" fill="#f0cdd6" stroke="#c0c0dc" stroke-width="0.3"/><rect x="481.4" y="288.8" width="1.6" height="1.8" fill="#ffffff" stroke="#c0c0dc" stroke-width="0.3"/><rect x="483.1" y="288.8" width="1.6" height="1.8" fill="#ffffff" stroke="#c0c0dc" stroke-width="0.3"/><rect x="484.8" y="288.8" width="1.6" height="1.8" fill="#e8aab6" stroke="#c0c0dc" stroke-width="0.3"/><rect x="486.4" y="288.8" width="1.6" height="1.8" fill="#ffffff" stroke="#c0c0dc" stroke-width="0.3"/><rect x="488.1" y="288.8" width="1.6" height="1.8" fill="#f0cdd6" stroke="#c0c0dc" stroke-width="0.3"/><rect x="489.7" y="288.8" width="1.6" height="1.8" fill="#aeb6ea" stroke="#c0c0dc" stroke-width="0.3"/><rect x="491.4" y="288.8" width="1.6" height="1.8" fill="#aeb6ea" stroke="#c0c0dc" stroke-width="0.3"/><rect x="493" y="288.8" width="1.6" height="1.8" fill="#ffffff" stroke="#c0c0dc" stroke-width="0.3"/><rect x="494.7" y="288.8" width="1.6" height="1.8" fill="#aeb6ea" stroke="#c0c0dc" stroke-width="0.3"/><rect x="496.3" y="288.8" width="1.6" height="1.8" fill="#e8aab6" stroke="#c0c0dc" stroke-width="0.3"/><rect x="497.9" y="288.8" width="1.6" height="1.8" fill="#e8aab6" stroke="#c0c0dc" stroke-width="0.3"/><rect x="463.3" y="290.6" width="1.6" height="1.8" fill="#ffffff" stroke="#c0c0dc" stroke-width="0.3"/><rect x="464.9" y="290.6" width="1.6" height="1.8" fill="#f0cdd6" stroke="#c0c0dc" stroke-width="0.3"/><rect x="466.6" y="290.6" width="1.6" height="1.8" fill="#ffffff" stroke="#c0c0dc" stroke-width="0.3"/><rect x="468.2" y="290.6" width="1.6" height="1.8" fill="#f0cdd6" stroke="#c0c0dc" stroke-width="0.3"/><rect x="469.9" y="290.6" width="1.6" height="1.8" fill="#2a2ab8" stroke="#c0c0dc" stroke-width="0.3"/><rect x="471.6" y="290.6" width="1.6" height="1.8" fill="#d2d6f2" stroke="#c0c0dc" stroke-width="0.3"/><rect x="473.2" y="290.6" width="1.6" height="1.8" fill="#f0cdd6" stroke="#c0c0dc" stroke-width="0.3"/><rect x="474.9" y="290.6" width="1.6" height="1.8" fill="#f0cdd6" stroke="#c0c0dc" stroke-width="0.3"/><rect x="476.5" y="290.6" width="1.6" height="1.8" fill="#c0202c" stroke="#c0c0dc" stroke-width="0.3"/><rect x="478.2" y="290.6" width="1.6" height="1.8" fill="#f0cdd6" stroke="#c0c0dc" stroke-width="0.3"/><rect x="479.8" y="290.6" width="1.6" height="1.8" fill="#ffffff" stroke="#c0c0dc" stroke-width="0.3"/><rect x="481.4" y="290.6" width="1.6" height="1.8" fill="#ffffff" stroke="#c0c0dc" stroke-width="0.3"/><rect x="483.1" y="290.6" width="1.6" height="1.8" fill="#d2d6f2" stroke="#c0c0dc" stroke-width="0.3"/><rect x="484.8" y="290.6" width="1.6" height="1.8" fill="#c0202c" stroke="#c0c0dc" stroke-width="0.3"/><rect x="486.4" y="290.6" width="1.6" height="1.8" fill="#ffffff" stroke="#c0c0dc" stroke-width="0.3"/><rect x="488.1" y="290.6" width="1.6" height="1.8" fill="#e8aab6" stroke="#c0c0dc" stroke-width="0.3"/><rect x="489.7" y="290.6" width="1.6" height="1.8" fill="#e8aab6" stroke="#c0c0dc" stroke-width="0.3"/><rect x="491.4" y="290.6" width="1.6" height="1.8" fill="#ffffff" stroke="#c0c0dc" stroke-width="0.3"/><rect x="493" y="290.6" width="1.6" height="1.8" fill="#ffffff" stroke="#c0c0dc" stroke-width="0.3"/><rect x="494.7" y="290.6" width="1.6" height="1.8" fill="#f0cdd6" stroke="#c0c0dc" stroke-width="0.3"/><rect x="496.3" y="290.6" width="1.6" height="1.8" fill="#ffffff" stroke="#c0c0dc" stroke-width="0.3"/><rect x="497.9" y="290.6" width="1.6" height="1.8" fill="#f0cdd6" stroke="#c0c0dc" stroke-width="0.3"/><rect x="463.3" y="292.4" width="1.6" height="1.8" fill="#f0cdd6" stroke="#c0c0dc" stroke-width="0.3"/><rect x="464.9" y="292.4" width="1.6" height="1.8" fill="#d2d6f2" stroke="#c0c0dc" stroke-width="0.3"/><rect x="466.6" y="292.4" width="1.6" height="1.8" fill="#d2d6f2" stroke="#c0c0dc" stroke-width="0.3"/><rect x="468.2" y="292.4" width="1.6" height="1.8" fill="#e8aab6" stroke="#c0c0dc" stroke-width="0.3"/><rect x="469.9" y="292.4" width="1.6" height="1.8" fill="#f0cdd6" stroke="#c0c0dc" stroke-width="0.3"/><rect x="471.6" y="292.4" width="1.6" height="1.8" fill="#2a2ab8" stroke="#c0c0dc" stroke-width="0.3"/><rect x="473.2" y="292.4" width="1.6" height="1.8" fill="#ffffff" stroke="#c0c0dc" stroke-width="0.3"/><rect x="474.9" y="292.4" width="1.6" height="1.8" fill="#f0cdd6" stroke="#c0c0dc" stroke-width="0.3"/><rect x="476.5" y="292.4" width="1.6" height="1.8" fill="#ffffff" stroke="#c0c0dc" stroke-width="0.3"/><rect x="478.2" y="292.4" width="1.6" height="1.8" fill="#e8aab6" stroke="#c0c0dc" stroke-width="0.3"/><rect x="479.8" y="292.4" width="1.6" height="1.8" fill="#ffffff" stroke="#c0c0dc" stroke-width="0.3"/><rect x="481.4" y="292.4" width="1.6" height="1.8" fill="#e8aab6" stroke="#c0c0dc" stroke-width="0.3"/><rect x="483.1" y="292.4" width="1.6" height="1.8" fill="#ffffff" stroke="#c0c0dc" stroke-width="0.3"/><rect x="484.8" y="292.4" width="1.6" height="1.8" fill="#aeb6ea" stroke="#c0c0dc" stroke-width="0.3"/><rect x="486.4" y="292.4" width="1.6" height="1.8" fill="#d2d6f2" stroke="#c0c0dc" stroke-width="0.3"/><rect x="488.1" y="292.4" width="1.6" height="1.8" fill="#d2d6f2" stroke="#c0c0dc" stroke-width="0.3"/><rect x="489.7" y="292.4" width="1.6" height="1.8" fill="#f0cdd6" stroke="#c0c0dc" stroke-width="0.3"/><rect x="491.4" y="292.4" width="1.6" height="1.8" fill="#ffffff" stroke="#c0c0dc" stroke-width="0.3"/><rect x="493" y="292.4" width="1.6" height="1.8" fill="#ffffff" stroke="#c0c0dc" stroke-width="0.3"/><rect x="494.7" y="292.4" width="1.6" height="1.8" fill="#f0cdd6" stroke="#c0c0dc" stroke-width="0.3"/><rect x="496.3" y="292.4" width="1.6" height="1.8" fill="#d2d6f2" stroke="#c0c0dc" stroke-width="0.3"/><rect x="497.9" y="292.4" width="1.6" height="1.8" fill="#f0cdd6" stroke="#c0c0dc" stroke-width="0.3"/><rect x="463.3" y="294.2" width="1.6" height="1.8" fill="#e8aab6" stroke="#c0c0dc" stroke-width="0.3"/><rect x="464.9" y="294.2" width="1.6" height="1.8" fill="#f0cdd6" stroke="#c0c0dc" stroke-width="0.3"/><rect x="466.6" y="294.2" width="1.6" height="1.8" fill="#ffffff" stroke="#c0c0dc" stroke-width="0.3"/><rect x="468.2" y="294.2" width="1.6" height="1.8" fill="#f0cdd6" stroke="#c0c0dc" stroke-width="0.3"/><rect x="469.9" y="294.2" width="1.6" height="1.8" fill="#d2d6f2" stroke="#c0c0dc" stroke-width="0.3"/><rect x="471.6" y="294.2" width="1.6" height="1.8" fill="#aeb6ea" stroke="#c0c0dc" stroke-width="0.3"/><rect x="473.2" y="294.2" width="1.6" height="1.8" fill="#d2d6f2" stroke="#c0c0dc" stroke-width="0.3"/><rect x="474.9" y="294.2" width="1.6" height="1.8" fill="#ffffff" stroke="#c0c0dc" stroke-width="0.3"/><rect x="476.5" y="294.2" width="1.6" height="1.8" fill="#f0cdd6" stroke="#c0c0dc" stroke-width="0.3"/><rect x="478.2" y="294.2" width="1.6" height="1.8" fill="#f0cdd6" stroke="#c0c0dc" stroke-width="0.3"/><rect x="479.8" y="294.2" width="1.6" height="1.8" fill="#e8aab6" stroke="#c0c0dc" stroke-width="0.3"/><rect x="481.4" y="294.2" width="1.6" height="1.8" fill="#f0cdd6" stroke="#c0c0dc" stroke-width="0.3"/><rect x="483.1" y="294.2" width="1.6" height="1.8" fill="#f0cdd6" stroke="#c0c0dc" stroke-width="0.3"/><rect x="484.8" y="294.2" width="1.6" height="1.8" fill="#e8aab6" stroke="#c0c0dc" stroke-width="0.3"/><rect x="486.4" y="294.2" width="1.6" height="1.8" fill="#e8aab6" stroke="#c0c0dc" stroke-width="0.3"/><rect x="488.1" y="294.2" width="1.6" height="1.8" fill="#e8aab6" stroke="#c0c0dc" stroke-width="0.3"/><rect x="489.7" y="294.2" width="1.6" height="1.8" fill="#ffffff" stroke="#c0c0dc" stroke-width="0.3"/><rect x="491.4" y="294.2" width="1.6" height="1.8" fill="#ffffff" stroke="#c0c0dc" stroke-width="0.3"/><rect x="493" y="294.2" width="1.6" height="1.8" fill="#2a2ab8" stroke="#c0c0dc" stroke-width="0.3"/><rect x="494.7" y="294.2" width="1.6" height="1.8" fill="#e8aab6" stroke="#c0c0dc" stroke-width="0.3"/><rect x="496.3" y="294.2" width="1.6" height="1.8" fill="#f0cdd6" stroke="#c0c0dc" stroke-width="0.3"/><rect x="497.9" y="294.2" width="1.6" height="1.8" fill="#ffffff" stroke="#c0c0dc" stroke-width="0.3"/><rect x="463.3" y="296" width="1.6" height="1.8" fill="#ffffff" stroke="#c0c0dc" stroke-width="0.3"/><rect x="464.9" y="296" width="1.6" height="1.8" fill="#f0cdd6" stroke="#c0c0dc" stroke-width="0.3"/><rect x="466.6" y="296" width="1.6" height="1.8" fill="#ffffff" stroke="#c0c0dc" stroke-width="0.3"/><rect x="468.2" y="296" width="1.6" height="1.8" fill="#aeb6ea" stroke="#c0c0dc" stroke-width="0.3"/><rect x="469.9" y="296" width="1.6" height="1.8" fill="#f0cdd6" stroke="#c0c0dc" stroke-width="0.3"/><rect x="471.6" y="296" width="1.6" height="1.8" fill="#ffffff" stroke="#c0c0dc" stroke-width="0.3"/><rect x="473.2" y="296" width="1.6" height="1.8" fill="#f0cdd6" stroke="#c0c0dc" stroke-width="0.3"/><rect x="474.9" y="296" width="1.6" height="1.8" fill="#ffffff" stroke="#c0c0dc" stroke-width="0.3"/><rect x="476.5" y="296" width="1.6" height="1.8" fill="#e8aab6" stroke="#c0c0dc" stroke-width="0.3"/><rect x="478.2" y="296" width="1.6" height="1.8" fill="#d2d6f2" stroke="#c0c0dc" stroke-width="0.3"/><rect x="479.8" y="296" width="1.6" height="1.8" fill="#ffffff" stroke="#c0c0dc" stroke-width="0.3"/><rect x="481.4" y="296" width="1.6" height="1.8" fill="#f0cdd6" stroke="#c0c0dc" stroke-width="0.3"/><rect x="483.1" y="296" width="1.6" height="1.8" fill="#f0cdd6" stroke="#c0c0dc" stroke-width="0.3"/><rect x="484.8" y="296" width="1.6" height="1.8" fill="#f0cdd6" stroke="#c0c0dc" stroke-width="0.3"/><rect x="486.4" y="296" width="1.6" height="1.8" fill="#f0cdd6" stroke="#c0c0dc" stroke-width="0.3"/><rect x="488.1" y="296" width="1.6" height="1.8" fill="#ffffff" stroke="#c0c0dc" stroke-width="0.3"/><rect x="489.7" y="296" width="1.6" height="1.8" fill="#f0cdd6" stroke="#c0c0dc" stroke-width="0.3"/><rect x="491.4" y="296" width="1.6" height="1.8" fill="#e8aab6" stroke="#c0c0dc" stroke-width="0.3"/><rect x="493" y="296" width="1.6" height="1.8" fill="#d2d6f2" stroke="#c0c0dc" stroke-width="0.3"/><rect x="494.7" y="296" width="1.6" height="1.8" fill="#c0202c" stroke="#c0c0dc" stroke-width="0.3"/><rect x="496.3" y="296" width="1.6" height="1.8" fill="#f0cdd6" stroke="#c0c0dc" stroke-width="0.3"/><rect x="497.9" y="296" width="1.6" height="1.8" fill="#f0cdd6" stroke="#c0c0dc" stroke-width="0.3"/><rect x="463.3" y="297.8" width="1.6" height="1.8" fill="#aeb6ea" stroke="#c0c0dc" stroke-width="0.3"/><rect x="464.9" y="297.8" width="1.6" height="1.8" fill="#ffffff" stroke="#c0c0dc" stroke-width="0.3"/><rect x="466.6" y="297.8" width="1.6" height="1.8" fill="#e8aab6" stroke="#c0c0dc" stroke-width="0.3"/><rect x="468.2" y="297.8" width="1.6" height="1.8" fill="#f0cdd6" stroke="#c0c0dc" stroke-width="0.3"/><rect x="469.9" y="297.8" width="1.6" height="1.8" fill="#f0cdd6" stroke="#c0c0dc" stroke-width="0.3"/><rect x="471.6" y="297.8" width="1.6" height="1.8" fill="#e8aab6" stroke="#c0c0dc" stroke-width="0.3"/><rect x="473.2" y="297.8" width="1.6" height="1.8" fill="#ffffff" stroke="#c0c0dc" stroke-width="0.3"/><rect x="474.9" y="297.8" width="1.6" height="1.8" fill="#e8aab6" stroke="#c0c0dc" stroke-width="0.3"/><rect x="476.5" y="297.8" width="1.6" height="1.8" fill="#f0cdd6" stroke="#c0c0dc" stroke-width="0.3"/><rect x="478.2" y="297.8" width="1.6" height="1.8" fill="#ffffff" stroke="#c0c0dc" stroke-width="0.3"/><rect x="479.8" y="297.8" width="1.6" height="1.8" fill="#e8aab6" stroke="#c0c0dc" stroke-width="0.3"/><rect x="481.4" y="297.8" width="1.6" height="1.8" fill="#d2d6f2" stroke="#c0c0dc" stroke-width="0.3"/><rect x="483.1" y="297.8" width="1.6" height="1.8" fill="#f0cdd6" stroke="#c0c0dc" stroke-width="0.3"/><rect x="484.8" y="297.8" width="1.6" height="1.8" fill="#aeb6ea" stroke="#c0c0dc" stroke-width="0.3"/><rect x="486.4" y="297.8" width="1.6" height="1.8" fill="#e8aab6" stroke="#c0c0dc" stroke-width="0.3"/><rect x="488.1" y="297.8" width="1.6" height="1.8" fill="#f0cdd6" stroke="#c0c0dc" stroke-width="0.3"/><rect x="489.7" y="297.8" width="1.6" height="1.8" fill="#f0cdd6" stroke="#c0c0dc" stroke-width="0.3"/><rect x="491.4" y="297.8" width="1.6" height="1.8" fill="#aeb6ea" stroke="#c0c0dc" stroke-width="0.3"/>
<rect x="364" y="306.1" width="9.9" height="37.9" fill="#fff" stroke="#d0d0d0" stroke-width="0.5"/>
<defs><linearGradient id="lg2" x1="0" y1="0" x2="0" y2="1"><stop offset="0" stop-color="#c0202a"/><stop offset="0.5" stop-color="#ffffff"/><stop offset="1" stop-color="#2020b0"/></linearGradient></defs>
<rect x="365.3" y="307.8" width="1.5" height="34.5" fill="url(#lg2)"/>
<text transform="translate(369.6,309.2) rotate(90)" font-size="3.4" font-family='"Liberation Sans", sans-serif' text-anchor="middle" fill="#555">-3</text>
<text transform="translate(369.6,314.7) rotate(90)" font-size="3.4" font-family='"Liberation Sans", sans-serif' text-anchor="middle" fill="#555">-2</text>
<text transform="translate(369.6,320.2) rotate(90)" font-size="3.4" font-family='"Liberation Sans", sans-serif' text-anchor="middle" fill="#555">-1</text>
<text transform="translate(369.6,325.6) rotate(90)" font-size="3.4" font-family='"Liberation Sans", sans-serif' text-anchor="middle" fill="#555">0</text>
<text transform="translate(369.6,331.1) rotate(90)" font-size="3.4" font-family='"Liberation Sans", sans-serif' text-anchor="middle" fill="#555">1</text>
<text transform="translate(369.6,336.6) rotate(90)" font-size="3.4" font-family='"Liberation Sans", sans-serif' text-anchor="middle" fill="#555">2</text>
<text transform="translate(369.6,342.1) rotate(90)" font-size="3.4" font-family='"Liberation Sans", sans-serif' text-anchor="middle" fill="#555">3</text>
<rect x="543.2" y="282.2" width="18" height="9.9" rx="2" fill="#fff" stroke="#4a4a4a" stroke-width="0.6"/><text transform="translate(552.2,289.1) scale(1,1.1)" font-size="5.45" font-family='"Liberation Serif", serif' text-anchor="middle" fill="#1a1a1a" stroke="#1a1a1a" stroke-width="0.12">IAA</text>
<rect x="584.5" y="282.2" width="17.4" height="9.9" rx="2" fill="#fff" stroke="#4a4a4a" stroke-width="0.6"/><text transform="translate(593.2,289.1) scale(1,1.1)" font-size="5.45" font-family='"Liberation Serif", serif' text-anchor="middle" fill="#1a1a1a" stroke="#1a1a1a" stroke-width="0.12">ABA</text>
<rect x="613" y="282.2" width="14.8" height="9.9" rx="2" fill="#fff" stroke="#4a4a4a" stroke-width="0.6"/><text transform="translate(620.4,289.1) scale(1,1.1)" font-size="5.45" font-family='"Liberation Serif", serif' text-anchor="middle" fill="#1a1a1a" stroke="#1a1a1a" stroke-width="0.12">BA</text>
<rect x="641.7" y="282.2" width="29.6" height="9.9" rx="2" fill="#fff" stroke="#4a4a4a" stroke-width="0.6"/><text transform="translate(656.5,289.1) scale(1,1.1)" font-size="5.45" font-family='"Liberation Serif", serif' text-anchor="middle" fill="#1a1a1a" stroke="#1a1a1a" stroke-width="0.12">Ethylene</text>
<rect x="536.4" y="336.3" width="31" height="10.5" rx="2" fill="#fff" stroke="#4a4a4a" stroke-width="0.6"/><text transform="translate(551.9,343.5) scale(1,1.1)" font-size="5.45" font-family='"Liberation Serif", serif' text-anchor="middle" fill="#1a1a1a" stroke="#1a1a1a" stroke-width="0.12">Cytokinin</text>
<rect x="581" y="336.3" width="33.4" height="10.5" rx="2" fill="#fff" stroke="#4a4a4a" stroke-width="0.6"/><text transform="translate(597.7,343.5) scale(1,1.1)" font-size="5.45" font-family='"Liberation Serif", serif' text-anchor="middle" fill="#1a1a1a" stroke="#1a1a1a" stroke-width="0.12">Jasmonate</text>
<rect x="627.8" y="336.3" width="14.5" height="10.5" rx="2" fill="#fff" stroke="#4a4a4a" stroke-width="0.6"/><text transform="translate(635,343.5) scale(1,1.1)" font-size="5.45" font-family='"Liberation Serif", serif' text-anchor="middle" fill="#1a1a1a" stroke="#1a1a1a" stroke-width="0.12">SA</text>
<rect x="657.1" y="336.3" width="14.5" height="10.5" rx="2" fill="#fff" stroke="#4a4a4a" stroke-width="0.6"/><text transform="translate(664.4,343.5) scale(1,1.1)" font-size="5.45" font-family='"Liberation Serif", serif' text-anchor="middle" fill="#1a1a1a" stroke="#1a1a1a" stroke-width="0.12">GA</text>
<rect x="545" y="294.3" width="1.9" height="1.9" fill="#ffffff" stroke="#c0c0dc" stroke-width="0.3"/><rect x="546.9" y="294.3" width="1.9" height="1.9" fill="#ffffff" stroke="#c0c0dc" stroke-width="0.3"/><rect x="548.8" y="294.3" width="1.9" height="1.9" fill="#f0cdd6" stroke="#c0c0dc" stroke-width="0.3"/><rect x="550.7" y="294.3" width="1.9" height="1.9" fill="#c0202c" stroke="#c0c0dc" stroke-width="0.3"/><rect x="552.6" y="294.3" width="1.9" height="1.9" fill="#ffffff" stroke="#c0c0dc" stroke-width="0.3"/>
<rect x="586" y="294.3" width="1.9" height="1.9" fill="#c0202c" stroke="#c0c0dc" stroke-width="0.3"/><rect x="587.9" y="294.3" width="1.9" height="1.9" fill="#f0cdd6" stroke="#c0c0dc" stroke-width="0.3"/><rect x="589.8" y="294.3" width="1.9" height="1.9" fill="#ffffff" stroke="#c0c0dc" stroke-width="0.3"/>
<rect x="643.5" y="294.3" width="2.3" height="1.9" fill="#ffffff" stroke="#c0c0dc" stroke-width="0.3"/><rect x="645.8" y="294.3" width="2.3" height="1.9" fill="#d2d6f2" stroke="#c0c0dc" stroke-width="0.3"/><rect x="648.1" y="294.3" width="2.3" height="1.9" fill="#ffffff" stroke="#c0c0dc" stroke-width="0.3"/><rect x="650.4" y="294.3" width="2.3" height="1.9" fill="#ffffff" stroke="#c0c0dc" stroke-width="0.3"/><rect x="652.7" y="294.3" width="2.3" height="1.9" fill="#d2d6f2" stroke="#c0c0dc" stroke-width="0.3"/><rect x="655" y="294.3" width="2.3" height="1.9" fill="#ffffff" stroke="#c0c0dc" stroke-width="0.3"/><rect x="657.3" y="294.3" width="2.3" height="1.9" fill="#ffffff" stroke="#c0c0dc" stroke-width="0.3"/><rect x="659.6" y="294.3" width="2.3" height="1.9" fill="#f0cdd6" stroke="#c0c0dc" stroke-width="0.3"/><rect x="661.9" y="294.3" width="2.3" height="1.9" fill="#ffffff" stroke="#c0c0dc" stroke-width="0.3"/><rect x="664.2" y="294.3" width="2.3" height="1.9" fill="#ffffff" stroke="#c0c0dc" stroke-width="0.3"/>
<rect x="541.5" y="349.2" width="1.9" height="1.9" fill="#f0cdd6" stroke="#c0c0dc" stroke-width="0.3"/>
<rect x="586.5" y="349.2" width="2.1" height="1.9" fill="#ffffff" stroke="#c0c0dc" stroke-width="0.3"/><rect x="588.6" y="349.2" width="2.1" height="1.9" fill="#ffffff" stroke="#c0c0dc" stroke-width="0.3"/><rect x="590.7" y="349.2" width="2.1" height="1.9" fill="#f0cdd6" stroke="#c0c0dc" stroke-width="0.3"/><rect x="592.8" y="349.2" width="2.1" height="1.9" fill="#e8aab6" stroke="#c0c0dc" stroke-width="0.3"/><rect x="594.9" y="349.2" width="2.1" height="1.9" fill="#f0cdd6" stroke="#c0c0dc" stroke-width="0.3"/><rect x="597" y="349.2" width="2.1" height="1.9" fill="#ffffff" stroke="#c0c0dc" stroke-width="0.3"/>
<rect x="629" y="349.2" width="1.9" height="1.9" fill="#f0cdd6" stroke="#c0c0dc" stroke-width="0.3"/>
<rect x="658.3" y="349.2" width="1.9" height="1.9" fill="#2a2ab8" stroke="#c0c0dc" stroke-width="0.3"/>
<rect x="474" y="387.4" width="51" height="10.1" rx="2" fill="#fff" stroke="#4a4a4a" stroke-width="0.6"/><text transform="translate(499.5,394.4) scale(1,1.1)" font-size="5.45" font-family='"Liberation Serif", serif' text-anchor="middle" fill="#1a1a1a" stroke="#1a1a1a" stroke-width="0.12">Receptor kinases</text>
<rect x="482.2" y="433.1" width="35.5" height="10.3" rx="2" fill="#fff" stroke="#4a4a4a" stroke-width="0.6"/><text transform="translate(500,440.2) scale(1,1.1)" font-size="5.45" font-family='"Liberation Serif", serif' text-anchor="middle" fill="#1a1a1a" stroke="#1a1a1a" stroke-width="0.12">G-Proteins</text>
<rect x="479.3" y="472.9" width="39.8" height="10" rx="2" fill="#fff" stroke="#4a4a4a" stroke-width="0.6"/><text transform="translate(499.2,479.9) scale(1,1.1)" font-size="5.45" font-family='"Liberation Serif", serif' text-anchor="middle" fill="#1a1a1a" stroke="#1a1a1a" stroke-width="0.12">MAP Kinases</text>
<rect x="425.3" y="438.2" width="32.7" height="16.5" rx="2" fill="#fff" stroke="#4a4a4a" stroke-width="0.6"/><text transform="translate(441.6,445.2) scale(1,1.1)" font-size="5.45" font-family='"Liberation Serif", serif' text-anchor="middle" fill="#1a1a1a" stroke="#1a1a1a" stroke-width="0.12">Calcium</text><text transform="translate(441.6,451.7) scale(1,1.1)" font-size="5.45" font-family='"Liberation Serif", serif' text-anchor="middle" fill="#1a1a1a" stroke="#1a1a1a" stroke-width="0.12">regulation</text>
<rect x="430.4" y="477.2" width="23.3" height="9.9" rx="2" fill="#fff" stroke="#4a4a4a" stroke-width="0.6"/><text transform="translate(442,484.1) scale(1,1.1)" font-size="5.45" font-family='"Liberation Serif", serif' text-anchor="middle" fill="#1a1a1a" stroke="#1a1a1a" stroke-width="0.12">14-3-3</text>
<rect x="551.3" y="387.6" width="31.3" height="16.5" rx="2" fill="#fff" stroke="#4a4a4a" stroke-width="0.6"/><text transform="translate(567,394.6) scale(1,1.1)" font-size="5.45" font-family='"Liberation Serif", serif' text-anchor="middle" fill="#1a1a1a" stroke="#1a1a1a" stroke-width="0.12">Phospho-</text><text transform="translate(567,401.1) scale(1,1.1)" font-size="5.45" font-family='"Liberation Serif", serif' text-anchor="middle" fill="#1a1a1a" stroke="#1a1a1a" stroke-width="0.12">inositides</text>
<rect x="547" y="417" width="39.8" height="9.9" rx="2" fill="#fff" stroke="#4a4a4a" stroke-width="0.6"/><text transform="translate(566.9,423.9) scale(1,1.1)" font-size="5.45" font-family='"Liberation Serif", serif' text-anchor="middle" fill="#1a1a1a" stroke="#1a1a1a" stroke-width="0.12">C&amp;Nutrients</text>
<rect x="557.5" y="445.4" width="19.4" height="10" rx="2" fill="#fff" stroke="#4a4a4a" stroke-width="0.6"/><text transform="translate(567.2,452.4) scale(1,1.1)" font-size="5.45" font-family='"Liberation Serif", serif' text-anchor="middle" fill="#1a1a1a" stroke="#1a1a1a" stroke-width="0.12">Light</text>
<rect x="549.3" y="473" width="35.3" height="10.3" rx="2" fill="#fff" stroke="#4a4a4a" stroke-width="0.6"/><text transform="translate(567,480.1) scale(1,1.1)" font-size="5.45" font-family='"Liberation Serif", serif' text-anchor="middle" fill="#1a1a1a" stroke="#1a1a1a" stroke-width="0.12">unspecified</text>
<rect x="474.5" y="398.8" width="2.2" height="1.8" fill="#ffffff" stroke="#c0c0dc" stroke-width="0.3"/><rect x="476.7" y="398.8" width="2.2" height="1.8" fill="#ffffff" stroke="#c0c0dc" stroke-width="0.3"/><rect x="478.9" y="398.8" width="2.2" height="1.8" fill="#ffffff" stroke="#c0c0dc" stroke-width="0.3"/><rect x="481.1" y="398.8" width="2.2" height="1.8" fill="#2a2ab8" stroke="#c0c0dc" stroke-width="0.3"/><rect x="483.3" y="398.8" width="2.2" height="1.8" fill="#d2d6f2" stroke="#c0c0dc" stroke-width="0.3"/><rect x="485.5" y="398.8" width="2.2" height="1.8" fill="#ffffff" stroke="#c0c0dc" stroke-width="0.3"/><rect x="487.7" y="398.8" width="2.2" height="1.8" fill="#ffffff" stroke="#c0c0dc" stroke-width="0.3"/><rect x="489.9" y="398.8" width="2.2" height="1.8" fill="#ffffff" stroke="#c0c0dc" stroke-width="0.3"/><rect x="492.1" y="398.8" width="2.2" height="1.8" fill="#ffffff" stroke="#c0c0dc" stroke-width="0.3"/><rect x="494.3" y="398.8" width="2.2" height="1.8" fill="#ffffff" stroke="#c0c0dc" stroke-width="0.3"/><rect x="496.5" y="398.8" width="2.2" height="1.8" fill="#ffffff" stroke="#c0c0dc" stroke-width="0.3"/><rect x="498.7" y="398.8" width="2.2" height="1.8" fill="#ffffff" stroke="#c0c0dc" stroke-width="0.3"/><rect x="500.9" y="398.8" width="2.2" height="1.8" fill="#c0202c" stroke="#c0c0dc" stroke-width="0.3"/><rect x="503.1" y="398.8" width="2.2" height="1.8" fill="#c0202c" stroke="#c0c0dc" stroke-width="0.3"/>
<rect x="482.5" y="445.3" width="2.1" height="1.8" fill="#ffffff" stroke="#c0c0dc" stroke-width="0.3"/><rect x="484.6" y="445.3" width="2.1" height="1.8" fill="#ffffff" stroke="#c0c0dc" stroke-width="0.3"/><rect x="486.7" y="445.3" width="2.1" height="1.8" fill="#ffffff" stroke="#c0c0dc" stroke-width="0.3"/><rect x="488.8" y="445.3" width="2.1" height="1.8" fill="#ffffff" stroke="#c0c0dc" stroke-width="0.3"/><rect x="490.9" y="445.3" width="2.1" height="1.8" fill="#ffffff" stroke="#c0c0dc" stroke-width="0.3"/><rect x="493" y="445.3" width="2.1" height="1.8" fill="#f0cdd6" stroke="#c0c0dc" stroke-width="0.3"/><rect x="495.1" y="445.3" width="2.1" height="1.8" fill="#ffffff" stroke="#c0c0dc" stroke-width="0.3"/><rect x="497.2" y="445.3" width="2.1" height="1.8" fill="#f0cdd6" stroke="#c0c0dc" stroke-width="0.3"/><rect x="499.3" y="445.3" width="2.1" height="1.8" fill="#ffffff" stroke="#c0c0dc" stroke-width="0.3"/><rect x="501.4" y="445.3" width="2.1" height="1.8" fill="#ffffff" stroke="#c0c0dc" stroke-width="0.3"/><rect x="503.5" y="445.3" width="2.1" height="1.8" fill="#d2d6f2" stroke="#c0c0dc" stroke-width="0.3"/>
<rect x="479.8" y="484.8" width="2.1" height="1.8" fill="#ffffff" stroke="#c0c0dc" stroke-width="0.3"/><rect x="481.9" y="484.8" width="2.1" height="1.8" fill="#d2d6f2" stroke="#c0c0dc" stroke-width="0.3"/><rect x="484" y="484.8" width="2.1" height="1.8" fill="#ffffff" stroke="#c0c0dc" stroke-width="0.3"/><rect x="486.1" y="484.8" width="2.1" height="1.8" fill="#ffffff" stroke="#c0c0dc" stroke-width="0.3"/>
<rect x="425.8" y="456.5" width="2.4" height="1.9" fill="#2a2ab8" stroke="#c0c0dc" stroke-width="0.3"/><rect x="428.2" y="456.5" width="2.4" height="1.9" fill="#ffffff" stroke="#c0c0dc" stroke-width="0.3"/><rect x="430.6" y="456.5" width="2.4" height="1.9" fill="#ffffff" stroke="#c0c0dc" stroke-width="0.3"/><rect x="433" y="456.5" width="2.4" height="1.9" fill="#ffffff" stroke="#c0c0dc" stroke-width="0.3"/><rect x="435.4" y="456.5" width="2.4" height="1.9" fill="#ffffff" stroke="#c0c0dc" stroke-width="0.3"/><rect x="437.8" y="456.5" width="2.4" height="1.9" fill="#f0cdd6" stroke="#c0c0dc" stroke-width="0.3"/><rect x="440.2" y="456.5" width="2.4" height="1.9" fill="#c0202c" stroke="#c0c0dc" stroke-width="0.3"/><rect x="442.6" y="456.5" width="2.4" height="1.9" fill="#ffffff" stroke="#c0c0dc" stroke-width="0.3"/><rect x="445" y="456.5" width="2.4" height="1.9" fill="#ffffff" stroke="#c0c0dc" stroke-width="0.3"/><rect x="447.4" y="456.5" width="2.4" height="1.9" fill="#ffffff" stroke="#c0c0dc" stroke-width="0.3"/><rect x="449.8" y="456.5" width="2.4" height="1.9" fill="#d2d6f2" stroke="#c0c0dc" stroke-width="0.3"/><rect x="452.2" y="456.5" width="2.4" height="1.9" fill="#2a2ab8" stroke="#c0c0dc" stroke-width="0.3"/><rect x="454.6" y="456.5" width="2.4" height="1.9" fill="#ffffff" stroke="#c0c0dc" stroke-width="0.3"/><rect x="425.8" y="458.4" width="2.4" height="1.9" fill="#ffffff" stroke="#c0c0dc" stroke-width="0.3"/>
<rect x="430.5" y="489.3" width="3" height="1.8" fill="#ffffff" stroke="#c0c0dc" stroke-width="0.3"/>
<rect x="551.5" y="405.6" width="2.2" height="1.8" fill="#ffffff" stroke="#c0c0dc" stroke-width="0.3"/><rect x="553.7" y="405.6" width="2.2" height="1.8" fill="#ffffff" stroke="#c0c0dc" stroke-width="0.3"/><rect x="555.9" y="405.6" width="2.2" height="1.8" fill="#d2d6f2" stroke="#c0c0dc" stroke-width="0.3"/><rect x="558.1" y="405.6" width="2.2" height="1.8" fill="#ffffff" stroke="#c0c0dc" stroke-width="0.3"/>
<rect x="547.2" y="428.6" width="2.2" height="1.8" fill="#d2d6f2" stroke="#c0c0dc" stroke-width="0.3"/><rect x="549.4" y="428.6" width="2.2" height="1.8" fill="#2a2ab8" stroke="#c0c0dc" stroke-width="0.3"/><rect x="551.6" y="428.6" width="2.2" height="1.8" fill="#ffffff" stroke="#c0c0dc" stroke-width="0.3"/>
<rect x="557.2" y="457.4" width="2" height="1.8" fill="#e8aab6" stroke="#c0c0dc" stroke-width="0.3"/><rect x="559.2" y="457.4" width="2" height="1.8" fill="#ffffff" stroke="#c0c0dc" stroke-width="0.3"/><rect x="561.2" y="457.4" width="2" height="1.8" fill="#d2d6f2" stroke="#c0c0dc" stroke-width="0.3"/><rect x="563.2" y="457.4" width="2" height="1.8" fill="#d2d6f2" stroke="#c0c0dc" stroke-width="0.3"/><rect x="565.2" y="457.4" width="2" height="1.8" fill="#ffffff" stroke="#c0c0dc" stroke-width="0.3"/><rect x="567.2" y="457.4" width="2" height="1.8" fill="#d2d6f2" stroke="#c0c0dc" stroke-width="0.3"/>
<circle cx="554.5" cy="489.2" r="0.9" fill="#999"/>
<rect x="605.3" y="382.8" width="46.4" height="17.6" rx="1.5" fill="#d8d8d8" stroke="#5a5a5a" stroke-width="0.6"/><text transform="translate(605.7,387.8) scale(1,1.1)" font-size="5.35" font-family='"Liberation Serif", serif' fill="#111" stroke="#111" stroke-width="0.12">Heme</text>
<rect x="605.3" y="402.7" width="46.4" height="18" rx="1.5" fill="#d8d8d8" stroke="#5a5a5a" stroke-width="0.6"/><text transform="translate(605.7,407.7) scale(1,1.1)" font-size="5.35" font-family='"Liberation Serif", serif' fill="#111" stroke="#111" stroke-width="0.12">Thioredoxin</text>
<rect x="605.3" y="422.6" width="46.4" height="17.7" rx="1.5" fill="#d8d8d8" stroke="#5a5a5a" stroke-width="0.6"/><text transform="translate(605.7,427.6) scale(1,1.1)" font-size="5.35" font-family='"Liberation Serif", serif' fill="#111" stroke="#111" stroke-width="0.12">Ascorb/Gluath</text>
<rect x="605.3" y="442.6" width="46.4" height="17.3" rx="1.5" fill="#d8d8d8" stroke="#5a5a5a" stroke-width="0.6"/><text transform="translate(605.7,447.6) scale(1,1.1)" font-size="5.35" font-family='"Liberation Serif", serif' fill="#111" stroke="#111" stroke-width="0.12">Glutaredoxin</text>
<rect x="605.3" y="461.6" width="46.4" height="18" rx="1.5" fill="#d8d8d8" stroke="#5a5a5a" stroke-width="0.6"/><text transform="translate(605.7,466.6) scale(1,1.1)" font-size="5.35" font-family='"Liberation Serif", serif' fill="#111" stroke="#111" stroke-width="0.12">Peroxiredoxin</text>
<rect x="605.3" y="481.6" width="46.4" height="17.9" rx="1.5" fill="#d8d8d8" stroke="#5a5a5a" stroke-width="0.6"/><text transform="translate(605.7,486.6) scale(1,1.1)" font-size="5.35" font-family='"Liberation Serif", serif' fill="#111" stroke="#111" stroke-width="0.12">Dismutase/Catalase</text>
<rect x="607.6" y="390.3" width="2.2" height="2" fill="#ffffff" stroke="#c0c0dc" stroke-width="0.3"/>
<rect x="607.6" y="409.8" width="2.3" height="2" fill="#ffffff" stroke="#c0c0dc" stroke-width="0.3"/><rect x="609.9" y="409.8" width="2.3" height="2" fill="#ffffff" stroke="#c0c0dc" stroke-width="0.3"/><rect x="612.2" y="409.8" width="2.3" height="2" fill="#d2d6f2" stroke="#c0c0dc" stroke-width="0.3"/><rect x="614.5" y="409.8" width="2.3" height="2" fill="#f0cdd6" stroke="#c0c0dc" stroke-width="0.3"/><rect x="616.8" y="409.8" width="2.3" height="2" fill="#ffffff" stroke="#c0c0dc" stroke-width="0.3"/><rect x="619.1" y="409.8" width="2.3" height="2" fill="#ffffff" stroke="#c0c0dc" stroke-width="0.3"/><rect x="621.4" y="409.8" width="2.3" height="2" fill="#d2d6f2" stroke="#c0c0dc" stroke-width="0.3"/><rect x="623.7" y="409.8" width="2.3" height="2" fill="#d2d6f2" stroke="#c0c0dc" stroke-width="0.3"/><rect x="626" y="409.8" width="2.3" height="2" fill="#ffffff" stroke="#c0c0dc" stroke-width="0.3"/><rect x="628.3" y="409.8" width="2.3" height="2" fill="#ffffff" stroke="#c0c0dc" stroke-width="0.3"/><rect x="630.6" y="409.8" width="2.3" height="2" fill="#ffffff" stroke="#c0c0dc" stroke-width="0.3"/><rect x="632.9" y="409.8" width="2.3" height="2" fill="#d2d6f2" stroke="#c0c0dc" stroke-width="0.3"/><rect x="635.2" y="409.8" width="2.3" height="2" fill="#ffffff" stroke="#c0c0dc" stroke-width="0.3"/><rect x="607.6" y="411.8" width="2.3" height="2" fill="#d2d6f2" stroke="#c0c0dc" stroke-width="0.3"/><rect x="609.9" y="411.8" width="2.3" height="2" fill="#ffffff" stroke="#c0c0dc" stroke-width="0.3"/>
<rect x="607.6" y="429.3" width="2.1" height="2" fill="#ffffff" stroke="#c0c0dc" stroke-width="0.3"/><rect x="609.7" y="429.3" width="2.1" height="2" fill="#ffffff" stroke="#c0c0dc" stroke-width="0.3"/><rect x="611.8" y="429.3" width="2.1" height="2" fill="#ffffff" stroke="#c0c0dc" stroke-width="0.3"/><rect x="613.9" y="429.3" width="2.1" height="2" fill="#ffffff" stroke="#c0c0dc" stroke-width="0.3"/><rect x="616" y="429.3" width="2.1" height="2" fill="#ffffff" stroke="#c0c0dc" stroke-width="0.3"/><rect x="618.1" y="429.3" width="2.1" height="2" fill="#f0cdd6" stroke="#c0c0dc" stroke-width="0.3"/><rect x="620.2" y="429.3" width="2.1" height="2" fill="#ffffff" stroke="#c0c0dc" stroke-width="0.3"/><rect x="622.3" y="429.3" width="2.1" height="2" fill="#ffffff" stroke="#c0c0dc" stroke-width="0.3"/><rect x="624.4" y="429.3" width="2.1" height="2" fill="#ffffff" stroke="#c0c0dc" stroke-width="0.3"/><rect x="626.5" y="429.3" width="2.1" height="2" fill="#ffffff" stroke="#c0c0dc" stroke-width="0.3"/>
<rect x="607.6" y="449.3" width="2.1" height="2" fill="#d2d6f2" stroke="#c0c0dc" stroke-width="0.3"/><rect x="609.7" y="449.3" width="2.1" height="2" fill="#ffffff" stroke="#c0c0dc" stroke-width="0.3"/>
<rect x="607.6" y="469.6" width="2" height="2" fill="#ffffff" stroke="#c0c0dc" stroke-width="0.3"/><rect x="609.6" y="469.6" width="2" height="2" fill="#ffffff" stroke="#c0c0dc" stroke-width="0.3"/><rect x="611.6" y="469.6" width="2" height="2" fill="#ffffff" stroke="#c0c0dc" stroke-width="0.3"/><rect x="613.6" y="469.6" width="2" height="2" fill="#2a2ab8" stroke="#c0c0dc" stroke-width="0.3"/>
<rect x="607.6" y="489.3" width="2" height="2" fill="#ffffff" stroke="#c0c0dc" stroke-width="0.3"/><rect x="609.6" y="489.3" width="2" height="2" fill="#ffffff" stroke="#c0c0dc" stroke-width="0.3"/><rect x="611.6" y="489.3" width="2" height="2" fill="#ffffff" stroke="#c0c0dc" stroke-width="0.3"/><rect x="613.6" y="489.3" width="2" height="2" fill="#ffffff" stroke="#c0c0dc" stroke-width="0.3"/>
<rect x="661.4" y="423.5" width="11.4" height="28.2" rx="2" fill="#fff" stroke="#4a4a4a" stroke-width="0.6"/>
<text transform="translate(665.3,437.6) rotate(90)" font-size="5.4" font-family='"Liberation Serif", serif' text-anchor="middle" fill="#222">Redox</text>
</svg>
</body></html>
